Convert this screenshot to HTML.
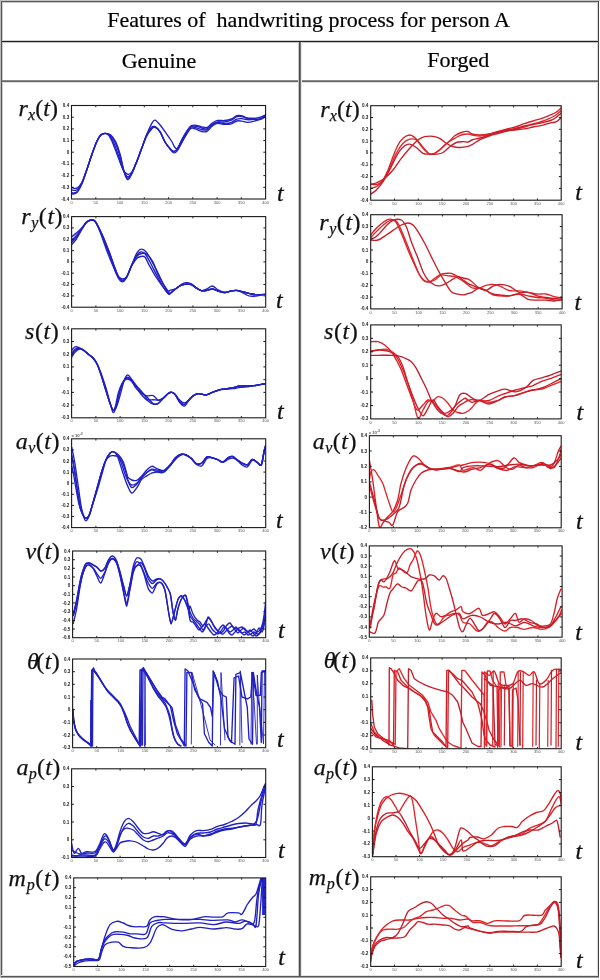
<!DOCTYPE html><html><head><meta charset="utf-8"><style>html,body{margin:0;padding:0;background:#fff}svg{display:block;will-change:transform;filter:blur(0.3px)}</style></head><body>
<svg width="600" height="980" viewBox="0 0 600 980">
<rect width="600" height="980" fill="#fff"/>
<rect x="0" y="0" width="600" height="1" fill="#c4c4c4"/>
<rect x="0" y="0" width="1" height="978" fill="#bcbcbc"/>
<rect x="1" y="1" width="598" height="1" fill="#5a5a5a"/>
<rect x="1" y="2" width="597" height="1" fill="#c8c8c8"/>
<rect x="1" y="1" width="1" height="976" fill="#555"/>
<rect x="2" y="2" width="1" height="974" fill="#cfcfcf"/>
<rect x="598" y="1" width="1" height="976" fill="#444"/>
<rect x="597" y="2" width="1" height="974" fill="#d8d8d8"/>
<rect x="1" y="976" width="598" height="1" fill="#555"/>
<rect x="1" y="977" width="598" height="1" fill="#a0a0a0"/>
<rect x="1" y="975" width="597" height="1" fill="#e4e4e4"/>
<rect x="2" y="40" width="596" height="1" fill="#cfcfcf"/>
<rect x="2" y="41" width="596" height="1" fill="#222"/>
<rect x="2" y="42" width="596" height="1" fill="#c4c4c4"/>
<rect x="2" y="80" width="596" height="1" fill="#888"/>
<rect x="2" y="81" width="596" height="1" fill="#666"/>
<rect x="2" y="82" width="596" height="1" fill="#e0e0e0"/>
<rect x="298" y="42" width="1" height="934" fill="#c8c8c8"/>
<rect x="299" y="42" width="1" height="934" fill="#4a4a4a"/>
<rect x="300" y="42" width="1" height="934" fill="#777"/>
<rect x="301" y="42" width="1" height="934" fill="#e4e4e4"/>
<text x="308.6" y="27.4" text-anchor="middle" font-family="Liberation Serif" font-size="22" fill="#000" stroke="#000" stroke-width="0.2" xml:space="preserve">Features of  handwriting process for person A</text>
<text x="159" y="67.5" text-anchor="middle" font-family="Liberation Serif" font-size="22" fill="#000" stroke="#000" stroke-width="0.2">Genuine</text>
<text x="458.3" y="67.2" text-anchor="middle" font-family="Liberation Serif" font-size="22" fill="#000" stroke="#000" stroke-width="0.2">Forged</text>
<clipPath id="cL0"><rect x="71.5" y="105.5" width="194.10000000000002" height="93.5"/></clipPath>
<g clip-path="url(#cL0)" fill="none" stroke-linejoin="round" stroke-linecap="round">
<path d="M71.5,190.0 C72.4,190.0 75.0,191.1 76.7,190.0 C78.4,188.9 80.0,186.6 81.7,183.3 C83.4,180.0 85.0,174.7 86.7,170.0 C88.4,165.3 90.0,159.7 91.7,155.0 C93.4,150.3 95.2,145.0 96.7,141.7 C98.2,138.4 99.4,136.4 100.8,135.0 C102.2,133.6 103.6,133.3 105.0,133.3 C106.4,133.3 107.8,133.6 109.2,135.0 C110.6,136.4 111.8,138.4 113.3,141.7 C114.8,145.0 116.6,150.3 118.3,155.0 C120.0,159.7 121.8,166.4 123.3,170.0 C124.8,173.6 126.1,176.1 127.5,176.7 C128.9,177.2 130.2,175.8 131.7,173.3 C133.2,170.8 135.0,165.9 136.7,161.7 C138.4,157.5 140.0,152.8 141.7,148.3 C143.4,143.9 145.0,138.5 146.7,135.0 C148.4,131.5 150.3,128.9 151.7,127.5 C153.1,126.1 153.6,126.0 155.0,126.7 C156.4,127.4 158.3,129.1 160.0,131.7 C161.7,134.2 163.3,139.1 165.0,142.0 C166.7,144.9 168.8,147.4 170.3,149.0 C171.8,150.6 172.6,151.6 173.8,151.6 C175.0,151.6 175.9,151.2 177.3,149.0 C178.8,146.8 180.8,141.7 182.5,138.5 C184.2,135.3 186.3,131.8 187.8,129.8 C189.3,127.8 189.9,126.9 191.3,126.3 C192.8,125.7 194.8,126.0 196.5,126.3 C198.2,126.6 200.1,127.6 201.8,128.0 C203.6,128.4 205.2,129.5 207.0,128.9 C208.8,128.3 210.6,125.7 212.3,124.5 C214.1,123.3 215.5,122.3 217.5,121.9 C219.5,121.5 222.2,122.2 224.5,121.9 C226.8,121.6 229.4,121.0 231.5,120.1 C233.6,119.2 235.1,117.2 236.8,116.6 C238.6,116.0 240.2,116.3 242.0,116.6 C243.8,116.9 245.2,118.1 247.3,118.4 C249.4,118.7 252.3,118.6 254.3,118.4 C256.3,118.2 257.6,118.1 259.5,117.5 C261.4,116.9 264.6,115.3 265.6,114.9" stroke="#2020c4" stroke-width="1.35"/>
<path d="M71.5,193.0 C72.4,192.8 75.0,193.6 76.7,192.1 C78.4,190.6 80.0,187.7 81.7,184.0 C83.4,180.3 85.0,174.9 86.7,170.1 C88.4,165.3 90.0,159.7 91.7,155.0 C93.4,150.3 95.2,145.0 96.7,141.7 C98.2,138.4 99.4,136.4 100.9,135.0 C102.3,133.6 103.8,133.3 105.3,133.3 C106.9,133.3 108.5,133.6 110.1,135.0 C111.7,136.4 113.2,138.4 114.7,141.7 C116.3,145.0 118.1,150.2 119.6,155.0 C121.1,159.8 122.5,166.5 123.8,170.4 C125.2,174.2 126.3,177.6 127.6,178.2 C128.9,178.8 130.2,176.7 131.7,173.9 C133.2,171.2 135.0,166.0 136.7,161.7 C138.4,157.4 140.0,152.8 141.7,148.3 C143.4,143.8 145.0,138.7 146.7,134.6 C148.4,130.5 150.3,126.0 151.7,123.6 C153.1,121.1 153.6,119.9 155.0,120.1 C156.4,120.4 158.3,122.9 160.1,125.0 C161.9,127.1 163.8,129.9 165.7,132.7 C167.7,135.5 170.3,139.1 171.8,141.5 C173.3,144.0 173.8,146.2 174.8,147.3 C175.8,148.4 176.4,149.6 177.6,148.2 C178.9,146.7 180.8,141.5 182.5,138.5 C184.2,135.5 186.3,131.9 187.8,130.0 C189.3,128.0 189.9,127.2 191.3,126.9 C192.7,126.5 194.8,127.3 196.5,127.8 C198.2,128.3 200.1,129.4 201.8,129.7 C203.5,130.1 205.3,130.6 207.0,129.8 C208.7,129.0 210.6,126.1 212.3,124.9 C214.1,123.7 215.5,122.8 217.5,122.6 C219.5,122.3 222.2,123.4 224.5,123.4 C226.8,123.4 229.4,123.2 231.5,122.5 C233.6,121.7 235.1,119.7 236.8,119.1 C238.6,118.4 240.2,118.5 242.0,118.6 C243.8,118.7 245.2,119.6 247.3,119.7 C249.4,119.8 252.3,119.3 254.3,119.3 C256.3,119.2 257.6,119.8 259.5,119.4 C261.4,118.9 264.6,116.8 265.6,116.3" stroke="#2020c4" stroke-width="1.35"/>
<path d="M71.5,187.5 C72.4,187.6 75.0,189.0 76.7,188.2 C78.4,187.4 80.0,185.8 81.7,182.7 C83.4,179.7 85.0,174.5 86.7,169.9 C88.4,165.3 90.0,159.7 91.7,155.0 C93.4,150.3 95.2,145.0 96.7,141.7 C98.2,138.4 99.4,136.4 100.7,135.0 C102.1,133.6 103.5,133.3 104.7,133.3 C106.0,133.3 107.3,133.6 108.5,135.0 C109.7,136.4 110.7,138.4 112.2,141.7 C113.6,145.0 115.5,150.4 117.3,155.0 C119.1,159.6 121.2,166.2 122.9,169.4 C124.6,172.6 125.9,173.8 127.4,174.2 C128.9,174.7 130.1,174.3 131.7,172.2 C133.2,170.1 135.0,165.7 136.7,161.7 C138.4,157.7 140.0,152.7 141.7,148.3 C143.4,143.9 145.0,138.5 146.7,135.0 C148.4,131.5 150.3,128.9 151.7,127.5 C153.1,126.1 153.6,126.0 155.0,126.7 C156.4,127.4 158.3,129.1 160.0,131.7 C161.7,134.3 163.3,139.1 165.0,142.0 C166.7,145.0 168.8,147.6 170.3,149.4 C171.8,151.2 172.6,152.7 173.8,152.8 C175.1,153.0 175.9,152.7 177.6,150.4 C179.2,148.1 181.9,142.2 183.8,138.9 C185.7,135.6 187.7,132.4 189.0,130.6 C190.3,128.8 190.5,128.1 191.8,128.0 C193.1,127.8 194.9,128.8 196.5,129.4 C198.2,130.0 200.1,131.2 201.8,131.5 C203.5,131.8 205.3,132.3 207.0,131.3 C208.7,130.4 210.6,127.3 212.3,125.9 C214.0,124.6 215.5,123.6 217.5,123.3 C219.5,123.1 222.2,124.3 224.5,124.4 C226.8,124.5 229.4,124.4 231.5,123.9 C233.6,123.3 235.1,121.5 236.8,121.0 C238.6,120.5 240.2,120.8 242.0,121.1 C243.8,121.3 245.2,122.3 247.3,122.3 C249.4,122.3 252.3,121.6 254.3,121.1 C256.3,120.6 257.6,120.1 259.5,119.2 C261.4,118.4 264.6,116.4 265.6,115.8" stroke="#2020c4" stroke-width="1.35"/>
<path d="M71.5,194.0 C72.4,193.8 75.0,194.5 76.7,192.8 C78.4,191.2 80.0,188.0 81.7,184.2 C83.4,180.4 85.0,175.0 86.7,170.1 C88.4,165.3 90.0,159.7 91.7,155.0 C93.4,150.3 95.2,145.0 96.7,141.7 C98.2,138.4 99.4,136.4 100.9,135.0 C102.4,133.6 103.9,133.3 105.5,133.3 C107.2,133.3 109.0,133.6 110.7,135.0 C112.4,136.4 114.1,138.4 115.7,141.7 C117.3,145.0 119.0,150.0 120.4,155.1 C121.8,160.2 122.9,168.1 124.2,172.2 C125.4,176.3 126.5,179.5 127.7,179.7 C129.0,180.0 130.2,176.8 131.7,173.8 C133.2,170.8 135.0,165.9 136.7,161.7 C138.4,157.5 140.0,152.8 141.7,148.5 C143.4,144.2 145.0,139.4 146.7,136.1 C148.4,132.8 150.3,130.3 151.7,128.9 C153.1,127.4 153.6,126.9 155.0,127.4 C156.4,127.9 158.3,129.3 160.0,131.7 C161.7,134.2 163.3,139.1 165.0,141.9 C166.7,144.8 168.8,147.3 170.3,148.8 C171.8,150.4 172.6,151.4 173.9,151.4 C175.1,151.3 176.0,150.9 177.7,148.7 C179.4,146.5 182.2,141.3 184.0,138.0 C185.8,134.8 187.2,131.2 188.4,129.1 C189.6,127.1 190.0,126.1 191.4,125.5 C192.7,124.9 194.8,125.1 196.5,125.3 C198.2,125.5 200.1,126.4 201.8,126.8 C203.5,127.1 205.3,128.1 207.0,127.5 C208.7,126.9 210.6,124.2 212.3,123.0 C214.0,121.8 215.5,120.8 217.5,120.4 C219.5,120.0 222.2,120.8 224.5,120.5 C226.8,120.3 229.4,119.8 231.5,119.0 C233.6,118.2 235.1,116.2 236.8,115.7 C238.6,115.2 240.2,115.6 242.0,115.9 C243.8,116.3 245.2,117.5 247.3,117.9 C249.4,118.3 252.3,118.1 254.3,118.4 C256.3,118.7 257.6,120.0 259.5,119.7 C261.4,119.4 264.6,117.1 265.6,116.6" stroke="#2020c4" stroke-width="1.35"/>
</g>
<rect x="71.5" y="105.5" width="194.10000000000002" height="93.5" fill="none" stroke="#1a1a1a" stroke-width="1.1"/>
<path d="M71.5,117.2h2.3M265.6,117.2h-2.3" stroke="#1a1a1a" stroke-width="1"/>
<path d="M71.5,128.9h2.3M265.6,128.9h-2.3" stroke="#1a1a1a" stroke-width="1"/>
<path d="M71.5,140.6h2.3M265.6,140.6h-2.3" stroke="#1a1a1a" stroke-width="1"/>
<path d="M71.5,152.2h2.3M265.6,152.2h-2.3" stroke="#1a1a1a" stroke-width="1"/>
<path d="M71.5,163.9h2.3M265.6,163.9h-2.3" stroke="#1a1a1a" stroke-width="1"/>
<path d="M71.5,175.6h2.3M265.6,175.6h-2.3" stroke="#1a1a1a" stroke-width="1"/>
<path d="M71.5,187.3h2.3M265.6,187.3h-2.3" stroke="#1a1a1a" stroke-width="1"/>
<path d="M95.8,199.0v-1.8M95.8,105.5v1.8" stroke="#1a1a1a" stroke-width="0.9"/>
<path d="M120.0,199.0v-1.8M120.0,105.5v1.8" stroke="#1a1a1a" stroke-width="0.9"/>
<path d="M144.3,199.0v-1.8M144.3,105.5v1.8" stroke="#1a1a1a" stroke-width="0.9"/>
<path d="M168.6,199.0v-1.8M168.6,105.5v1.8" stroke="#1a1a1a" stroke-width="0.9"/>
<path d="M192.8,199.0v-1.8M192.8,105.5v1.8" stroke="#1a1a1a" stroke-width="0.9"/>
<path d="M217.1,199.0v-1.8M217.1,105.5v1.8" stroke="#1a1a1a" stroke-width="0.9"/>
<path d="M241.3,199.0v-1.8M241.3,105.5v1.8" stroke="#1a1a1a" stroke-width="0.9"/>
<g font-family="Liberation Sans" font-size="4.6" font-weight="bold" fill="#222" text-anchor="end">
<text x="69.2" y="107.0">0.4</text>
<text x="69.2" y="118.7">0.3</text>
<text x="69.2" y="130.4">0.2</text>
<text x="69.2" y="142.1">0.1</text>
<text x="69.2" y="153.8">0</text>
<text x="69.2" y="165.4">-0.1</text>
<text x="69.2" y="177.1">-0.2</text>
<text x="69.2" y="188.8">-0.3</text>
<text x="69.2" y="200.5">-0.4</text>
</g>
<g font-family="Liberation Sans" font-size="4" fill="#555" text-anchor="middle">
<text x="71.5" y="203.6">0</text>
<text x="95.8" y="203.6">50</text>
<text x="120.0" y="203.6">100</text>
<text x="144.3" y="203.6">150</text>
<text x="168.6" y="203.6">200</text>
<text x="192.8" y="203.6">250</text>
<text x="217.1" y="203.6">300</text>
<text x="241.3" y="203.6">350</text>
<text x="265.6" y="203.6">400</text>
</g>
<clipPath id="cR0"><rect x="370.7" y="105.7" width="190.50000000000006" height="94.49999999999999"/></clipPath>
<g clip-path="url(#cR0)" fill="none" stroke-linejoin="round" stroke-linecap="round">
<path d="M370.7,184.2 C371.9,184.2 375.9,184.9 378.0,184.2 C380.1,183.5 381.3,182.4 383.0,180.0 C384.7,177.6 386.3,173.9 388.0,170.0 C389.7,166.1 391.3,160.9 393.0,156.7 C394.7,152.5 396.3,148.1 398.0,145.0 C399.7,141.9 401.1,140.0 403.0,138.3 C404.9,136.6 407.8,135.1 409.7,135.0 C411.6,134.9 413.0,136.1 414.7,137.5 C416.4,138.9 418.0,141.4 419.7,143.3 C421.4,145.2 423.0,147.4 424.7,149.2 C426.4,151.0 428.0,153.5 429.7,154.2 C431.4,154.9 433.0,154.0 434.7,153.3 C436.4,152.6 438.0,151.4 439.7,150.0 C441.4,148.6 443.0,146.5 444.7,145.0 C446.4,143.5 448.0,142.3 449.7,140.8 C451.4,139.3 452.8,137.2 454.7,135.8 C456.6,134.4 459.1,133.2 461.3,132.5 C463.5,131.8 466.2,131.2 468.0,131.5 C469.8,131.8 470.0,133.4 472.0,134.0 C474.0,134.6 477.2,135.0 480.0,135.0 C482.8,135.0 486.0,134.6 489.0,134.0 C492.0,133.4 495.0,132.3 498.0,131.5 C501.0,130.7 504.1,129.8 507.0,129.0 C509.9,128.2 512.6,127.9 515.5,127.0 C518.4,126.1 521.4,124.6 524.3,123.6 C527.2,122.6 530.1,121.9 533.0,121.0 C535.9,120.1 538.9,119.4 541.8,118.4 C544.7,117.4 548.1,115.9 550.5,114.9 C552.9,113.9 554.2,113.5 556.0,112.3 C557.8,111.1 560.3,108.6 561.2,107.9" stroke="#d81e24" stroke-width="1.35"/>
<path d="M370.7,188.3 C371.6,188.0 374.2,187.9 376.3,186.7 C378.4,185.4 380.8,183.9 383.0,180.8 C385.2,177.7 387.5,172.9 389.7,168.3 C391.9,163.7 394.1,157.5 396.3,153.3 C398.5,149.1 400.8,145.7 403.0,143.3 C405.2,141.0 407.5,139.8 409.7,139.2 C411.9,138.6 414.1,138.5 416.3,140.0 C418.5,141.5 420.8,145.9 423.0,148.3 C425.2,150.7 427.8,153.4 429.7,154.2 C431.6,155.0 432.8,154.3 434.7,153.3 C436.6,152.3 439.1,150.1 441.3,148.3 C443.5,146.5 445.8,144.2 448.0,142.5 C450.2,140.8 452.5,139.6 454.7,138.3 C456.9,137.1 459.1,135.7 461.3,135.0 C463.5,134.3 466.2,134.0 468.0,134.0 C469.8,134.0 470.0,134.7 472.0,135.0 C474.0,135.3 477.2,136.1 480.0,136.0 C482.8,135.9 486.0,135.2 489.0,134.5 C492.0,133.8 495.0,132.7 498.0,132.0 C501.0,131.3 504.1,131.0 507.0,130.6 C509.9,130.2 512.6,130.1 515.5,129.5 C518.4,128.9 521.4,127.9 524.3,127.0 C527.2,126.1 530.1,124.9 533.0,124.0 C535.9,123.1 538.9,122.5 541.8,121.5 C544.7,120.5 548.1,119.1 550.5,118.0 C552.9,116.9 554.2,116.2 556.0,115.0 C557.8,113.8 560.3,111.2 561.2,110.5" stroke="#e2262a" stroke-width="1.35"/>
<path d="M370.7,194.2 C371.6,193.5 374.2,192.1 376.3,190.0 C378.4,187.9 380.8,185.0 383.0,181.7 C385.2,178.4 387.2,174.7 389.7,170.0 C392.2,165.3 395.5,157.3 398.0,153.3 C400.5,149.3 402.8,147.3 404.7,145.8 C406.6,144.3 407.8,143.9 409.7,144.2 C411.6,144.5 414.1,146.0 416.3,147.5 C418.5,149.0 420.8,152.2 423.0,153.3 C425.2,154.4 427.5,154.0 429.7,154.2 C431.9,154.3 434.1,154.5 436.3,154.2 C438.5,153.9 440.8,153.8 443.0,152.5 C445.2,151.2 447.5,148.4 449.7,146.7 C451.9,145.0 454.1,143.3 456.3,142.5 C458.5,141.7 461.1,141.8 463.0,141.7 C464.9,141.6 466.5,142.3 468.0,142.0 C469.5,141.7 470.0,140.7 472.0,140.0 C474.0,139.3 477.2,138.8 480.0,138.0 C482.8,137.2 486.0,136.0 489.0,135.0 C492.0,134.0 495.0,132.8 498.0,132.0 C501.0,131.2 504.1,130.6 507.0,130.0 C509.9,129.4 512.6,129.2 515.5,128.5 C518.4,127.8 521.4,126.7 524.3,126.0 C527.2,125.3 530.1,125.0 533.0,124.5 C535.9,124.0 538.9,123.5 541.8,122.8 C544.7,122.1 548.1,121.4 550.5,120.5 C552.9,119.6 554.2,118.8 556.0,117.5 C557.8,116.2 560.3,113.8 561.2,113.0" stroke="#c41e2c" stroke-width="1.35"/>
<path d="M370.7,184.2 C371.6,184.0 373.7,184.0 376.0,183.0 C378.3,182.0 381.9,180.5 384.7,178.3 C387.5,176.1 390.2,173.3 393.0,170.0 C395.8,166.7 398.5,161.9 401.3,158.3 C404.1,154.7 406.9,151.4 409.7,148.3 C412.5,145.2 415.5,141.9 418.0,140.0 C420.5,138.1 422.2,137.3 424.7,136.7 C427.2,136.1 430.5,136.0 433.0,136.3 C435.5,136.6 437.5,137.1 439.7,138.3 C441.9,139.5 444.1,141.9 446.3,143.3 C448.5,144.7 450.8,146.0 453.0,146.7 C455.2,147.4 457.2,147.6 459.7,147.5 C462.2,147.4 465.9,146.9 468.0,146.4 C470.1,145.9 469.9,145.8 472.0,144.6 C474.1,143.4 477.7,140.8 480.5,139.4 C483.3,138.0 486.1,137.0 489.0,136.0 C491.9,135.0 495.0,134.3 498.0,133.5 C501.0,132.7 504.1,131.6 507.0,131.0 C509.9,130.4 512.6,130.2 515.5,129.8 C518.4,129.5 521.4,129.4 524.3,128.9 C527.2,128.4 530.1,127.6 533.0,127.0 C535.9,126.4 538.9,126.1 541.8,125.4 C544.7,124.7 548.1,123.4 550.5,122.8 C552.9,122.2 554.2,122.8 556.0,121.9 C557.8,121.0 560.3,118.2 561.2,117.5" stroke="#cc1c26" stroke-width="1.35"/>
</g>
<rect x="370.7" y="105.7" width="190.50000000000006" height="94.49999999999999" fill="none" stroke="#1a1a1a" stroke-width="1.1"/>
<path d="M370.7,117.5h2.3M561.2,117.5h-2.3" stroke="#1a1a1a" stroke-width="1"/>
<path d="M370.7,129.3h2.3M561.2,129.3h-2.3" stroke="#1a1a1a" stroke-width="1"/>
<path d="M370.7,141.1h2.3M561.2,141.1h-2.3" stroke="#1a1a1a" stroke-width="1"/>
<path d="M370.7,152.9h2.3M561.2,152.9h-2.3" stroke="#1a1a1a" stroke-width="1"/>
<path d="M370.7,164.8h2.3M561.2,164.8h-2.3" stroke="#1a1a1a" stroke-width="1"/>
<path d="M370.7,176.6h2.3M561.2,176.6h-2.3" stroke="#1a1a1a" stroke-width="1"/>
<path d="M370.7,188.4h2.3M561.2,188.4h-2.3" stroke="#1a1a1a" stroke-width="1"/>
<path d="M394.5,200.2v-1.8M394.5,105.7v1.8" stroke="#1a1a1a" stroke-width="0.9"/>
<path d="M418.3,200.2v-1.8M418.3,105.7v1.8" stroke="#1a1a1a" stroke-width="0.9"/>
<path d="M442.1,200.2v-1.8M442.1,105.7v1.8" stroke="#1a1a1a" stroke-width="0.9"/>
<path d="M466.0,200.2v-1.8M466.0,105.7v1.8" stroke="#1a1a1a" stroke-width="0.9"/>
<path d="M489.8,200.2v-1.8M489.8,105.7v1.8" stroke="#1a1a1a" stroke-width="0.9"/>
<path d="M513.6,200.2v-1.8M513.6,105.7v1.8" stroke="#1a1a1a" stroke-width="0.9"/>
<path d="M537.4,200.2v-1.8M537.4,105.7v1.8" stroke="#1a1a1a" stroke-width="0.9"/>
<g font-family="Liberation Sans" font-size="4.6" font-weight="bold" fill="#222" text-anchor="end">
<text x="368.4" y="107.2">0.4</text>
<text x="368.4" y="119.0">0.3</text>
<text x="368.4" y="130.8">0.2</text>
<text x="368.4" y="142.6">0.1</text>
<text x="368.4" y="154.4">0</text>
<text x="368.4" y="166.3">-0.1</text>
<text x="368.4" y="178.1">-0.2</text>
<text x="368.4" y="189.9">-0.3</text>
<text x="368.4" y="201.7">-0.4</text>
</g>
<g font-family="Liberation Sans" font-size="4" fill="#555" text-anchor="middle">
<text x="370.7" y="204.8">0</text>
<text x="394.5" y="204.8">50</text>
<text x="418.3" y="204.8">100</text>
<text x="442.1" y="204.8">150</text>
<text x="466.0" y="204.8">200</text>
<text x="489.8" y="204.8">250</text>
<text x="513.6" y="204.8">300</text>
<text x="537.4" y="204.8">350</text>
<text x="561.2" y="204.8">400</text>
</g>
<text x="18.5" y="116.2" font-family="Liberation Serif" font-size="24" fill="#111" stroke="#111" stroke-width="0.25" letter-spacing="0.1"><tspan font-style="italic">r</tspan><tspan font-style="italic" font-size="16" dy="4">x</tspan><tspan dy="-4">(</tspan><tspan font-style="italic">t</tspan>)</text>
<text x="320.3" y="116.6" font-family="Liberation Serif" font-size="24" fill="#111" stroke="#111" stroke-width="0.25" letter-spacing="0.1"><tspan font-style="italic">r</tspan><tspan font-style="italic" font-size="16" dy="4">x</tspan><tspan dy="-4">(</tspan><tspan font-style="italic">t</tspan>)</text>
<text x="277.0" y="200.7" font-family="Liberation Serif" font-style="italic" font-size="24" fill="#111" stroke="#111" stroke-width="0.3">t</text>
<text x="575.2" y="200.4" font-family="Liberation Serif" font-style="italic" font-size="24" fill="#111" stroke="#111" stroke-width="0.3">t</text>
<clipPath id="cL1"><rect x="71.6" y="216.6" width="194.1" height="90.6"/></clipPath>
<g clip-path="url(#cL1)" fill="none" stroke-linejoin="round" stroke-linecap="round">
<path d="M71.6,240.3 C72.4,239.5 75.0,237.2 76.7,235.3 C78.4,233.4 80.0,230.9 81.7,228.7 C83.4,226.5 85.0,223.4 86.7,222.0 C88.4,220.6 90.3,220.1 91.7,220.0 C93.1,219.9 93.9,220.0 95.0,221.2 C96.1,222.4 96.9,224.1 98.3,227.0 C99.7,229.9 101.6,234.5 103.3,238.7 C105.0,242.9 106.6,247.6 108.3,252.0 C110.0,256.4 111.6,261.1 113.3,265.3 C115.0,269.5 116.8,274.5 118.3,277.0 C119.8,279.5 121.1,280.3 122.5,280.3 C123.9,280.3 125.2,279.5 126.7,277.0 C128.2,274.5 130.0,268.9 131.7,265.3 C133.4,261.7 135.2,257.5 136.7,255.3 C138.2,253.1 139.4,252.3 140.8,252.0 C142.2,251.7 143.5,252.0 145.0,253.7 C146.5,255.4 148.1,258.4 150.0,262.0 C151.9,265.6 154.5,271.1 156.7,275.3 C158.9,279.5 161.4,283.9 163.3,287.0 C165.2,290.1 167.1,292.6 168.3,293.7 C169.5,294.8 169.1,294.2 170.3,293.4 C171.5,292.6 173.8,290.3 175.5,289.0 C177.2,287.7 179.1,286.3 180.8,285.5 C182.6,284.7 184.2,284.2 186.0,284.1 C187.8,284.0 189.6,283.9 191.3,284.6 C193.1,285.3 194.8,287.1 196.5,288.1 C198.2,289.1 200.1,290.4 201.8,290.8 C203.6,291.2 205.2,290.7 207.0,290.4 C208.8,290.1 210.6,288.9 212.3,289.0 C214.1,289.1 215.5,290.2 217.5,290.8 C219.5,291.4 222.2,292.5 224.5,292.5 C226.8,292.5 229.4,291.2 231.5,290.8 C233.6,290.4 235.1,290.3 236.8,290.4 C238.6,290.5 240.0,291.1 242.0,291.6 C244.0,292.1 246.7,292.9 249.0,293.4 C251.3,293.9 253.2,294.5 256.0,294.6 C258.8,294.8 264.1,294.4 265.7,294.3" stroke="#2020c4" stroke-width="1.35"/>
<path d="M71.6,236.8 C72.5,236.1 75.0,234.3 76.7,232.8 C78.4,231.3 80.0,229.7 81.7,227.9 C83.4,226.1 85.0,223.2 86.7,221.9 C88.4,220.6 90.3,220.1 91.7,220.0 C93.1,219.9 93.9,220.0 95.1,221.2 C96.2,222.4 97.0,224.1 98.5,227.0 C100.0,229.9 102.2,234.5 104.0,238.7 C105.8,242.9 107.6,247.6 109.3,252.0 C111.0,256.4 112.4,261.1 113.9,265.3 C115.5,269.5 117.1,274.5 118.5,277.0 C119.9,279.5 121.2,280.3 122.5,280.3 C123.9,280.3 125.2,279.6 126.7,277.0 C128.2,274.4 130.0,268.8 131.7,264.9 C133.4,260.9 135.2,255.7 136.8,253.1 C138.4,250.4 139.7,249.2 141.3,249.1 C142.9,248.9 144.6,250.1 146.4,252.2 C148.1,254.3 150.1,258.2 152.0,261.6 C153.9,264.9 155.8,268.6 157.7,272.3 C159.6,276.1 161.7,280.9 163.4,284.0 C165.2,287.1 167.2,289.9 168.3,290.9 C169.5,292.0 169.1,290.6 170.3,290.2 C171.5,289.9 173.8,289.7 175.5,288.8 C177.2,287.9 179.1,285.8 180.8,284.8 C182.5,283.8 184.3,282.7 186.0,282.6 C187.7,282.5 189.6,283.0 191.3,283.9 C193.0,284.8 194.8,286.9 196.5,288.0 C198.2,289.2 200.1,290.4 201.8,290.8 C203.6,291.2 205.2,290.7 207.0,290.4 C208.8,290.1 210.6,288.9 212.3,289.0 C214.1,289.1 215.5,290.2 217.5,290.8 C219.5,291.4 222.2,292.5 224.5,292.5 C226.8,292.5 229.4,291.2 231.5,290.8 C233.6,290.4 235.1,290.3 236.8,290.4 C238.6,290.5 240.0,291.1 242.0,291.6 C244.0,292.1 246.7,292.9 249.0,293.4 C251.3,293.9 253.2,294.5 256.0,294.6 C258.8,294.8 264.1,294.4 265.7,294.3" stroke="#2020c4" stroke-width="1.35"/>
<path d="M71.6,244.8 C72.4,243.7 75.0,241.0 76.7,238.5 C78.4,236.0 80.0,232.5 81.7,229.7 C83.4,227.0 85.0,223.8 86.7,222.2 C88.4,220.5 90.3,220.2 91.7,220.0 C93.1,219.9 93.9,220.0 94.9,221.2 C96.0,222.4 96.8,224.1 98.1,227.0 C99.3,229.9 101.1,234.5 102.6,238.7 C104.1,242.9 105.6,247.6 107.3,252.0 C109.0,256.4 110.9,261.0 112.7,265.3 C114.5,269.6 116.5,274.9 118.1,277.6 C119.7,280.4 121.0,281.8 122.5,281.8 C123.9,281.7 125.2,280.0 126.7,277.4 C128.2,274.8 130.0,269.1 131.7,266.0 C133.4,262.8 135.2,260.2 136.7,258.6 C138.2,257.1 139.4,256.8 140.8,256.5 C142.2,256.3 143.5,255.6 144.9,257.1 C146.3,258.5 147.5,262.2 149.3,265.3 C151.0,268.4 153.0,272.2 155.3,275.8 C157.6,279.4 160.9,284.0 163.1,287.0 C165.2,290.0 167.1,292.6 168.3,293.7 C169.5,294.8 169.1,294.2 170.3,293.4 C171.5,292.6 173.7,290.3 175.5,289.0 C177.3,287.7 179.0,286.3 180.8,285.5 C182.6,284.7 184.2,284.3 186.0,284.1 C187.8,283.9 189.5,283.9 191.3,284.6 C193.1,285.3 194.8,287.1 196.5,288.1 C198.2,289.1 200.1,290.5 201.8,290.6 C203.6,290.8 205.2,289.7 207.0,288.9 C208.8,288.1 210.6,285.9 212.3,286.0 C214.1,286.1 215.5,288.4 217.5,289.5 C219.5,290.6 222.2,292.2 224.5,292.5 C226.8,292.7 229.4,291.1 231.5,290.8 C233.6,290.5 235.1,290.3 236.8,290.4 C238.6,290.5 240.0,291.1 242.0,291.6 C244.0,292.1 246.7,292.9 249.0,293.4 C251.3,293.9 253.2,294.5 256.0,294.6 C258.8,294.8 264.1,294.4 265.7,294.3" stroke="#2020c4" stroke-width="1.35"/>
<path d="M71.6,242.3 C72.5,241.4 75.0,238.9 76.7,236.7 C78.4,234.5 80.0,231.6 81.7,229.2 C83.4,226.7 85.0,223.6 86.7,222.1 C88.4,220.5 90.3,220.1 91.7,220.0 C93.1,219.9 93.9,220.0 95.1,221.2 C96.2,222.4 97.0,224.1 98.5,227.0 C100.0,229.9 102.1,234.5 103.9,238.7 C105.6,242.9 107.4,247.6 109.1,252.0 C110.8,256.4 112.3,261.2 113.8,265.3 C115.4,269.3 117.0,274.1 118.5,276.4 C119.9,278.6 121.2,278.8 122.5,278.8 C123.9,278.9 125.2,278.9 126.7,276.6 C128.2,274.4 130.0,268.8 131.7,265.4 C133.4,262.0 135.2,258.3 136.9,256.3 C138.5,254.3 139.9,253.8 141.6,253.5 C143.3,253.1 145.1,252.8 147.0,254.3 C148.9,255.7 151.1,258.5 153.0,262.0 C154.9,265.5 156.4,271.5 158.2,275.3 C159.9,279.0 161.8,281.7 163.5,284.5 C165.2,287.3 167.2,290.8 168.3,292.2 C169.5,293.6 169.1,293.4 170.3,292.9 C171.5,292.4 173.8,290.2 175.5,289.0 C177.2,287.8 179.1,286.3 180.8,285.5 C182.5,284.7 184.3,284.2 186.0,284.1 C187.7,284.0 189.6,283.9 191.3,284.6 C193.0,285.3 194.8,287.1 196.5,288.1 C198.2,289.1 200.1,290.4 201.8,290.8 C203.6,291.2 205.2,290.7 207.0,290.4 C208.8,290.1 210.6,288.9 212.3,289.0 C214.1,289.1 215.5,290.2 217.5,290.8 C219.5,291.4 222.2,292.5 224.5,292.5 C226.8,292.5 229.4,291.1 231.5,290.8 C233.6,290.5 235.1,290.3 236.8,290.6 C238.6,290.8 240.0,291.6 242.0,292.5 C244.0,293.4 246.7,295.3 249.0,295.9 C251.3,296.4 253.2,296.3 256.0,296.0 C258.8,295.8 264.1,294.6 265.7,294.4" stroke="#2020c4" stroke-width="1.35"/>
</g>
<rect x="71.6" y="216.6" width="194.1" height="90.6" fill="none" stroke="#1a1a1a" stroke-width="1.1"/>
<path d="M71.6,227.9h2.3M265.7,227.9h-2.3" stroke="#1a1a1a" stroke-width="1"/>
<path d="M71.6,239.2h2.3M265.7,239.2h-2.3" stroke="#1a1a1a" stroke-width="1"/>
<path d="M71.6,250.6h2.3M265.7,250.6h-2.3" stroke="#1a1a1a" stroke-width="1"/>
<path d="M71.6,261.9h2.3M265.7,261.9h-2.3" stroke="#1a1a1a" stroke-width="1"/>
<path d="M71.6,273.2h2.3M265.7,273.2h-2.3" stroke="#1a1a1a" stroke-width="1"/>
<path d="M71.6,284.5h2.3M265.7,284.5h-2.3" stroke="#1a1a1a" stroke-width="1"/>
<path d="M71.6,295.9h2.3M265.7,295.9h-2.3" stroke="#1a1a1a" stroke-width="1"/>
<path d="M95.9,307.2v-1.8M95.9,216.6v1.8" stroke="#1a1a1a" stroke-width="0.9"/>
<path d="M120.1,307.2v-1.8M120.1,216.6v1.8" stroke="#1a1a1a" stroke-width="0.9"/>
<path d="M144.4,307.2v-1.8M144.4,216.6v1.8" stroke="#1a1a1a" stroke-width="0.9"/>
<path d="M168.6,307.2v-1.8M168.6,216.6v1.8" stroke="#1a1a1a" stroke-width="0.9"/>
<path d="M192.9,307.2v-1.8M192.9,216.6v1.8" stroke="#1a1a1a" stroke-width="0.9"/>
<path d="M217.2,307.2v-1.8M217.2,216.6v1.8" stroke="#1a1a1a" stroke-width="0.9"/>
<path d="M241.4,307.2v-1.8M241.4,216.6v1.8" stroke="#1a1a1a" stroke-width="0.9"/>
<g font-family="Liberation Sans" font-size="4.6" font-weight="bold" fill="#222" text-anchor="end">
<text x="69.3" y="218.1">0.4</text>
<text x="69.3" y="229.4">0.3</text>
<text x="69.3" y="240.8">0.2</text>
<text x="69.3" y="252.1">0.1</text>
<text x="69.3" y="263.4">0</text>
<text x="69.3" y="274.7">-0.1</text>
<text x="69.3" y="286.0">-0.2</text>
<text x="69.3" y="297.4">-0.3</text>
<text x="69.3" y="308.7">-0.4</text>
</g>
<g font-family="Liberation Sans" font-size="4" fill="#555" text-anchor="middle">
<text x="71.6" y="311.8">0</text>
<text x="95.9" y="311.8">50</text>
<text x="120.1" y="311.8">100</text>
<text x="144.4" y="311.8">150</text>
<text x="168.6" y="311.8">200</text>
<text x="192.9" y="311.8">250</text>
<text x="217.2" y="311.8">300</text>
<text x="241.4" y="311.8">350</text>
<text x="265.7" y="311.8">400</text>
</g>
<clipPath id="cR1"><rect x="370.7" y="214.7" width="191.40000000000003" height="94.19999999999999"/></clipPath>
<g clip-path="url(#cR1)" fill="none" stroke-linejoin="round" stroke-linecap="round">
<path d="M370.7,235.0 C371.6,233.9 374.2,230.4 376.3,228.3 C378.4,226.2 380.8,224.0 383.0,222.5 C385.2,221.0 387.6,219.3 389.7,219.2 C391.8,219.1 393.6,219.3 395.5,221.7 C397.4,224.0 399.2,228.6 401.3,233.3 C403.4,238.0 405.8,244.7 408.0,250.0 C410.2,255.3 412.8,260.8 414.7,265.0 C416.6,269.2 418.0,272.4 419.7,275.0 C421.4,277.6 423.0,279.7 424.7,280.8 C426.4,281.9 428.0,282.1 429.7,281.7 C431.4,281.3 432.8,279.6 434.7,278.3 C436.6,277.1 439.4,275.0 441.3,274.2 C443.2,273.4 444.6,273.4 446.3,273.3 C448.0,273.2 449.6,272.9 451.3,273.3 C453.0,273.7 454.6,275.1 456.3,275.8 C458.0,276.5 459.4,276.9 461.3,277.5 C463.2,278.1 466.2,278.5 468.0,279.2 C469.8,279.9 470.2,280.4 472.0,281.8 C473.8,283.2 476.7,286.4 479.0,287.9 C481.3,289.3 483.7,289.3 486.0,290.5 C488.3,291.7 490.7,294.0 493.0,294.9 C495.3,295.8 497.2,295.6 500.0,295.8 C502.8,296.0 506.8,296.1 510.0,295.8 C513.2,295.5 516.0,294.0 519.0,294.0 C522.0,294.0 525.0,295.2 528.0,295.8 C531.0,296.4 534.0,297.1 537.0,297.5 C540.0,297.9 543.2,298.0 546.0,298.4 C548.8,298.8 551.3,299.7 554.0,300.0 C556.7,300.3 560.7,300.0 562.0,300.0" stroke="#d81e24" stroke-width="1.35"/>
<path d="M370.7,237.5 C371.9,236.2 375.4,232.5 378.0,230.0 C380.6,227.5 383.8,224.2 386.3,222.5 C388.8,220.8 391.1,219.9 393.0,220.0 C394.9,220.1 396.1,220.2 398.0,223.3 C399.9,226.4 402.5,233.0 404.7,238.3 C406.9,243.6 409.1,249.4 411.3,255.0 C413.5,260.6 416.1,267.5 418.0,271.7 C419.9,275.9 421.3,278.3 423.0,280.0 C424.7,281.7 426.1,282.0 428.0,282.0 C429.9,282.0 432.5,281.2 434.7,280.0 C436.9,278.8 439.1,275.7 441.3,275.0 C443.5,274.3 445.8,275.5 448.0,275.8 C450.2,276.1 452.5,276.0 454.7,276.7 C456.9,277.4 459.1,278.6 461.3,280.0 C463.5,281.4 466.2,283.7 468.0,285.0 C469.8,286.3 470.2,287.4 472.0,287.9 C473.8,288.4 476.7,288.3 479.0,287.9 C481.3,287.5 483.7,285.9 486.0,285.3 C488.3,284.7 490.7,284.3 493.0,284.4 C495.3,284.5 497.3,285.1 500.0,286.1 C502.7,287.1 505.8,289.7 509.0,290.5 C512.2,291.3 515.8,290.6 519.0,290.9 C522.2,291.2 525.0,291.8 528.0,292.3 C531.0,292.8 534.0,293.7 537.0,294.0 C540.0,294.3 543.2,293.6 546.0,294.0 C548.8,294.4 551.3,295.9 554.0,296.6 C556.7,297.3 560.7,297.8 562.0,298.0" stroke="#e2262a" stroke-width="1.35"/>
<path d="M370.7,240.0 C371.9,239.2 375.4,237.4 378.0,235.0 C380.6,232.6 383.8,228.2 386.3,225.8 C388.8,223.4 390.5,221.3 393.0,220.3 C395.5,219.3 399.1,218.9 401.3,220.0 C403.5,221.1 404.6,223.1 406.3,226.7 C408.0,230.3 409.4,236.4 411.3,241.7 C413.2,247.0 416.1,253.3 418.0,258.3 C419.9,263.3 421.3,268.1 423.0,271.7 C424.7,275.3 426.1,277.8 428.0,280.0 C429.9,282.2 432.8,284.0 434.7,285.0 C436.6,286.0 437.8,286.1 439.7,285.8 C441.6,285.5 444.1,284.4 446.3,283.3 C448.5,282.2 451.1,280.3 453.0,279.2 C454.9,278.1 456.3,276.6 458.0,276.7 C459.7,276.8 461.3,278.9 463.0,280.0 C464.7,281.1 466.5,282.4 468.0,283.3 C469.5,284.2 470.2,284.5 472.0,285.3 C473.8,286.1 476.7,287.0 479.0,287.9 C481.3,288.8 483.7,290.8 486.0,290.5 C488.3,290.2 490.7,287.1 493.0,286.1 C495.3,285.1 497.3,284.4 500.0,284.4 C502.7,284.4 505.8,284.8 509.0,286.1 C512.2,287.4 515.8,291.3 519.0,292.3 C522.2,293.3 525.0,291.7 528.0,292.3 C531.0,292.9 534.0,294.9 537.0,295.8 C540.0,296.7 543.2,297.1 546.0,297.5 C548.8,297.9 551.3,298.4 554.0,298.4 C556.7,298.4 560.7,297.6 562.0,297.5" stroke="#c41e2c" stroke-width="1.35"/>
<path d="M370.7,240.0 C371.9,240.0 375.4,240.8 378.0,240.0 C380.6,239.2 383.5,236.8 386.3,235.0 C389.1,233.2 392.2,230.9 394.7,229.2 C397.2,227.5 399.1,226.0 401.3,225.0 C403.5,224.0 406.1,223.0 408.0,223.0 C409.9,223.0 411.3,223.6 413.0,225.0 C414.7,226.4 416.1,228.6 418.0,231.7 C419.9,234.8 422.5,239.1 424.7,243.3 C426.9,247.5 429.1,252.2 431.3,256.7 C433.5,261.1 435.8,265.8 438.0,270.0 C440.2,274.2 442.5,278.1 444.7,281.7 C446.9,285.3 449.1,289.6 451.3,291.7 C453.5,293.8 456.1,293.7 458.0,294.2 C459.9,294.7 461.3,295.0 463.0,294.9 C464.7,294.8 466.5,293.9 468.0,293.5 C469.5,293.1 470.2,293.2 472.0,292.3 C473.8,291.4 476.7,288.3 479.0,288.0 C481.3,287.7 483.7,289.5 486.0,290.5 C488.3,291.5 490.7,293.3 493.0,294.0 C495.3,294.7 497.3,294.6 500.0,294.9 C502.7,295.2 505.8,295.9 509.0,295.8 C512.2,295.7 515.8,293.4 519.0,294.0 C522.2,294.6 525.0,298.3 528.0,299.3 C531.0,300.3 534.0,300.0 537.0,300.1 C540.0,300.2 543.2,300.0 546.0,300.1 C548.8,300.2 551.3,301.2 554.0,301.0 C556.7,300.8 560.7,299.3 562.0,299.0" stroke="#cc1c26" stroke-width="1.35"/>
</g>
<rect x="370.7" y="214.7" width="191.40000000000003" height="94.19999999999999" fill="none" stroke="#1a1a1a" stroke-width="1.1"/>
<path d="M370.7,226.5h2.3M562.1,226.5h-2.3" stroke="#1a1a1a" stroke-width="1"/>
<path d="M370.7,238.2h2.3M562.1,238.2h-2.3" stroke="#1a1a1a" stroke-width="1"/>
<path d="M370.7,250.0h2.3M562.1,250.0h-2.3" stroke="#1a1a1a" stroke-width="1"/>
<path d="M370.7,261.8h2.3M562.1,261.8h-2.3" stroke="#1a1a1a" stroke-width="1"/>
<path d="M370.7,273.6h2.3M562.1,273.6h-2.3" stroke="#1a1a1a" stroke-width="1"/>
<path d="M370.7,285.3h2.3M562.1,285.3h-2.3" stroke="#1a1a1a" stroke-width="1"/>
<path d="M370.7,297.1h2.3M562.1,297.1h-2.3" stroke="#1a1a1a" stroke-width="1"/>
<path d="M394.6,308.9v-1.8M394.6,214.7v1.8" stroke="#1a1a1a" stroke-width="0.9"/>
<path d="M418.6,308.9v-1.8M418.6,214.7v1.8" stroke="#1a1a1a" stroke-width="0.9"/>
<path d="M442.5,308.9v-1.8M442.5,214.7v1.8" stroke="#1a1a1a" stroke-width="0.9"/>
<path d="M466.4,308.9v-1.8M466.4,214.7v1.8" stroke="#1a1a1a" stroke-width="0.9"/>
<path d="M490.3,308.9v-1.8M490.3,214.7v1.8" stroke="#1a1a1a" stroke-width="0.9"/>
<path d="M514.2,308.9v-1.8M514.2,214.7v1.8" stroke="#1a1a1a" stroke-width="0.9"/>
<path d="M538.2,308.9v-1.8M538.2,214.7v1.8" stroke="#1a1a1a" stroke-width="0.9"/>
<g font-family="Liberation Sans" font-size="4.6" font-weight="bold" fill="#222" text-anchor="end">
<text x="368.4" y="216.2">0.4</text>
<text x="368.4" y="228.0">0.3</text>
<text x="368.4" y="239.8">0.2</text>
<text x="368.4" y="251.5">0.1</text>
<text x="368.4" y="263.3">0</text>
<text x="368.4" y="275.1">-0.1</text>
<text x="368.4" y="286.8">-0.2</text>
<text x="368.4" y="298.6">-0.3</text>
<text x="368.4" y="310.4">-0.4</text>
</g>
<g font-family="Liberation Sans" font-size="4" fill="#555" text-anchor="middle">
<text x="370.7" y="313.5">0</text>
<text x="394.6" y="313.5">50</text>
<text x="418.6" y="313.5">100</text>
<text x="442.5" y="313.5">150</text>
<text x="466.4" y="313.5">200</text>
<text x="490.3" y="313.5">250</text>
<text x="514.2" y="313.5">300</text>
<text x="538.2" y="313.5">350</text>
<text x="562.1" y="313.5">400</text>
</g>
<text x="21.3" y="224.3" font-family="Liberation Serif" font-size="24" fill="#111" stroke="#111" stroke-width="0.25" letter-spacing="0.55"><tspan font-style="italic">r</tspan><tspan font-style="italic" font-size="16" dy="4">y</tspan><tspan dy="-4">(</tspan><tspan font-style="italic">t</tspan>)</text>
<text x="319.3" y="230" font-family="Liberation Serif" font-size="24" fill="#111" stroke="#111" stroke-width="0.25" letter-spacing="0.55"><tspan font-style="italic">r</tspan><tspan font-style="italic" font-size="16" dy="4">y</tspan><tspan dy="-4">(</tspan><tspan font-style="italic">t</tspan>)</text>
<text x="276.0" y="308.4" font-family="Liberation Serif" font-style="italic" font-size="24" fill="#111" stroke="#111" stroke-width="0.3">t</text>
<text x="574.4" y="309.7" font-family="Liberation Serif" font-style="italic" font-size="24" fill="#111" stroke="#111" stroke-width="0.3">t</text>
<clipPath id="cL2"><rect x="71.6" y="328.8" width="194.1" height="89.0"/></clipPath>
<g clip-path="url(#cL2)" fill="none" stroke-linejoin="round" stroke-linecap="round">
<path d="M71.6,353.3 C72.2,352.6 73.7,350.0 75.0,349.2 C76.3,348.4 77.8,348.2 79.2,348.3 C80.6,348.4 81.8,349.0 83.3,350.0 C84.8,351.0 86.6,352.8 88.3,354.2 C90.0,355.6 91.8,356.5 93.3,358.3 C94.8,360.1 96.1,361.9 97.5,365.0 C98.9,368.1 100.3,372.5 101.7,376.7 C103.1,380.9 104.4,385.6 105.8,390.0 C107.2,394.4 108.8,400.0 110.0,403.3 C111.2,406.6 112.0,409.4 113.0,410.0 C114.0,410.6 114.8,409.5 115.8,406.7 C116.8,403.9 118.0,397.5 119.2,393.3 C120.5,389.1 121.9,384.3 123.3,381.7 C124.7,379.1 126.1,377.6 127.5,377.5 C128.9,377.4 130.2,379.0 131.7,380.8 C133.2,382.6 135.0,385.9 136.7,388.3 C138.4,390.7 140.0,393.1 141.7,395.0 C143.4,396.9 144.8,398.5 146.7,400.0 C148.6,401.5 151.4,403.6 153.3,404.2 C155.2,404.8 156.6,404.3 158.3,403.3 C160.0,402.3 161.6,400.0 163.3,398.3 C165.0,396.6 167.1,394.3 168.5,393.3 C169.9,392.3 170.8,392.1 172.0,392.4 C173.2,392.7 174.2,393.4 175.5,395.0 C176.8,396.6 178.4,400.4 179.9,402.0 C181.4,403.6 182.9,404.9 184.3,404.6 C185.8,404.3 187.2,401.8 188.6,400.3 C190.0,398.9 191.4,397.0 193.0,395.9 C194.6,394.8 196.6,393.8 198.3,393.6 C200.1,393.4 202.1,394.5 203.5,394.7 C204.9,394.9 205.5,395.1 207.0,394.7 C208.5,394.3 210.2,393.2 212.3,392.4 C214.4,391.6 217.0,390.4 219.3,389.8 C221.6,389.2 224.0,389.2 226.3,388.9 C228.6,388.5 231.0,388.2 233.3,387.7 C235.6,387.2 237.7,386.2 240.3,385.9 C242.9,385.6 246.4,386.0 249.0,385.9 C251.6,385.8 253.2,385.8 256.0,385.4 C258.8,385.0 264.1,383.9 265.7,383.6" stroke="#2020c4" stroke-width="1.35"/>
<path d="M71.6,350.3 C72.2,349.7 73.7,347.3 75.0,346.9 C76.3,346.4 77.8,347.1 79.2,347.6 C80.6,348.1 81.8,348.8 83.3,349.9 C84.8,351.0 86.6,352.8 88.3,354.2 C90.0,355.6 91.8,356.5 93.3,358.3 C94.8,360.1 96.1,361.9 97.5,365.0 C98.9,368.1 100.3,372.5 101.7,376.7 C103.1,380.9 104.4,385.6 105.8,390.0 C107.2,394.4 108.8,400.0 110.0,403.3 C111.3,406.6 112.1,409.4 113.2,410.0 C114.3,410.6 115.3,409.5 116.5,406.7 C117.8,403.9 119.4,397.5 120.7,393.1 C122.0,388.7 123.1,383.3 124.3,380.3 C125.4,377.2 126.4,375.1 127.7,375.0 C129.0,374.9 130.3,377.6 132.0,379.8 C133.8,382.0 136.3,385.8 138.2,388.2 C140.1,390.7 142.0,393.3 143.5,394.5 C145.1,395.8 145.6,395.7 147.3,395.9 C148.9,396.1 151.5,394.9 153.3,395.6 C155.2,396.4 156.6,399.9 158.3,400.3 C160.0,400.7 161.6,399.2 163.3,398.0 C165.0,396.9 167.1,394.2 168.5,393.3 C169.9,392.3 170.8,392.1 172.0,392.4 C173.2,392.6 174.2,393.3 175.5,394.6 C176.8,396.0 178.4,398.9 179.9,400.3 C181.4,401.7 182.9,403.0 184.3,403.0 C185.8,402.9 187.2,401.1 188.6,399.9 C190.0,398.8 191.4,396.9 193.0,395.9 C194.6,394.8 196.6,393.8 198.3,393.6 C200.1,393.4 202.1,394.5 203.5,394.7 C204.9,394.9 205.5,395.1 207.0,394.7 C208.5,394.3 210.2,393.2 212.3,392.4 C214.4,391.6 217.0,390.4 219.3,389.8 C221.6,389.2 224.0,389.2 226.3,388.9 C228.6,388.5 231.0,388.2 233.3,387.7 C235.6,387.2 237.7,386.2 240.3,385.9 C242.9,385.6 246.4,386.0 249.0,385.9 C251.6,385.8 253.2,385.8 256.0,385.4 C258.8,385.0 264.1,383.9 265.7,383.6" stroke="#2020c4" stroke-width="1.35"/>
<path d="M71.6,357.3 C72.2,356.5 73.7,353.7 75.0,352.3 C76.3,351.0 77.8,349.6 79.2,349.2 C80.6,348.9 81.8,349.3 83.3,350.1 C84.8,350.9 86.6,352.8 88.3,354.2 C90.0,355.6 91.8,356.5 93.3,358.3 C94.9,360.1 96.2,361.9 97.7,365.0 C99.2,368.1 100.8,372.5 102.3,376.7 C103.8,380.9 105.2,385.4 106.6,390.0 C107.9,394.6 109.3,400.5 110.4,404.2 C111.5,408.0 112.2,411.9 113.1,412.5 C114.0,413.1 114.8,410.9 115.8,407.7 C116.8,404.6 118.0,397.7 119.2,393.3 C120.4,389.0 121.9,384.3 123.3,381.7 C124.7,379.1 126.1,377.7 127.5,377.5 C128.8,377.3 130.1,379.1 131.5,380.8 C132.8,382.5 134.1,385.8 135.6,387.7 C137.1,389.6 138.5,390.6 140.3,392.0 C142.1,393.5 144.1,394.4 146.3,396.3 C148.4,398.2 151.3,402.4 153.3,403.6 C155.3,404.8 156.6,404.2 158.3,403.3 C160.0,402.4 161.6,400.0 163.3,398.3 C165.0,396.6 167.0,394.3 168.5,393.3 C170.0,392.3 170.8,392.1 172.0,392.4 C173.2,392.7 174.2,393.4 175.5,395.1 C176.8,396.8 178.4,400.9 179.9,402.8 C181.4,404.6 182.9,406.4 184.3,406.1 C185.8,405.8 187.2,402.6 188.6,400.9 C190.0,399.3 191.4,397.2 193.0,396.0 C194.6,394.7 196.6,393.8 198.3,393.6 C200.1,393.4 202.1,394.5 203.5,394.7 C204.9,394.9 205.5,395.1 207.0,394.7 C208.5,394.3 210.2,393.2 212.3,392.4 C214.4,391.6 217.0,390.4 219.3,389.8 C221.6,389.2 224.0,389.2 226.3,388.9 C228.6,388.5 231.0,388.2 233.3,387.7 C235.6,387.2 237.7,386.2 240.3,385.9 C242.9,385.6 246.4,386.0 249.0,385.9 C251.6,385.8 253.2,385.8 256.0,385.4 C258.8,385.0 264.1,383.9 265.7,383.6" stroke="#2020c4" stroke-width="1.35"/>
<path d="M71.6,354.8 C72.2,354.1 73.7,351.4 75.0,350.4 C76.3,349.3 77.8,348.7 79.2,348.7 C80.6,348.6 81.8,349.1 83.3,350.0 C84.8,351.0 86.6,352.8 88.3,354.2 C90.0,355.6 91.8,356.5 93.3,358.3 C94.8,360.1 96.1,361.9 97.5,365.0 C98.9,368.1 100.3,372.5 101.7,376.7 C103.1,380.9 104.4,385.6 105.8,390.0 C107.2,394.4 108.8,400.0 110.0,403.3 C111.2,406.6 112.0,409.4 112.9,410.0 C113.7,410.6 114.4,409.5 115.3,406.7 C116.2,403.9 117.0,397.4 118.2,393.4 C119.4,389.3 121.1,384.7 122.7,382.3 C124.2,379.9 125.9,379.1 127.4,379.0 C129.0,378.9 130.2,380.1 132.1,381.7 C134.1,383.2 136.9,386.2 138.9,388.4 C141.0,390.6 143.0,393.1 144.5,395.0 C145.9,396.9 146.1,398.9 147.6,399.7 C149.0,400.5 151.5,399.7 153.3,399.7 C155.1,399.8 156.6,400.4 158.3,400.1 C160.0,399.8 161.6,399.1 163.3,398.0 C165.0,396.9 167.1,394.2 168.5,393.3 C169.9,392.4 170.8,392.1 172.0,392.4 C173.2,392.7 174.2,393.4 175.5,395.0 C176.8,396.6 178.4,400.4 179.9,402.0 C181.4,403.6 182.9,404.9 184.3,404.6 C185.8,404.3 187.2,401.7 188.6,400.3 C190.0,398.9 191.4,397.0 193.0,395.9 C194.6,394.8 196.6,393.8 198.3,393.6 C200.1,393.4 202.1,394.5 203.5,394.7 C204.9,394.9 205.5,395.1 207.0,394.7 C208.5,394.3 210.2,393.2 212.3,392.4 C214.4,391.6 217.0,390.4 219.3,389.8 C221.6,389.3 224.0,389.3 226.3,389.1 C228.6,388.9 231.0,388.9 233.3,388.7 C235.6,388.4 237.7,387.7 240.3,387.4 C242.9,387.1 246.4,386.9 249.0,386.6 C251.6,386.3 253.2,386.0 256.0,385.5 C258.8,385.0 264.1,383.9 265.7,383.6" stroke="#2020c4" stroke-width="1.35"/>
</g>
<rect x="71.6" y="328.8" width="194.1" height="89.0" fill="none" stroke="#1a1a1a" stroke-width="1.1"/>
<path d="M71.6,341.5h2.3M265.7,341.5h-2.3" stroke="#1a1a1a" stroke-width="1"/>
<path d="M71.6,354.2h2.3M265.7,354.2h-2.3" stroke="#1a1a1a" stroke-width="1"/>
<path d="M71.6,366.9h2.3M265.7,366.9h-2.3" stroke="#1a1a1a" stroke-width="1"/>
<path d="M71.6,379.7h2.3M265.7,379.7h-2.3" stroke="#1a1a1a" stroke-width="1"/>
<path d="M71.6,392.4h2.3M265.7,392.4h-2.3" stroke="#1a1a1a" stroke-width="1"/>
<path d="M71.6,405.1h2.3M265.7,405.1h-2.3" stroke="#1a1a1a" stroke-width="1"/>
<path d="M95.9,417.8v-1.8M95.9,328.8v1.8" stroke="#1a1a1a" stroke-width="0.9"/>
<path d="M120.1,417.8v-1.8M120.1,328.8v1.8" stroke="#1a1a1a" stroke-width="0.9"/>
<path d="M144.4,417.8v-1.8M144.4,328.8v1.8" stroke="#1a1a1a" stroke-width="0.9"/>
<path d="M168.6,417.8v-1.8M168.6,328.8v1.8" stroke="#1a1a1a" stroke-width="0.9"/>
<path d="M192.9,417.8v-1.8M192.9,328.8v1.8" stroke="#1a1a1a" stroke-width="0.9"/>
<path d="M217.2,417.8v-1.8M217.2,328.8v1.8" stroke="#1a1a1a" stroke-width="0.9"/>
<path d="M241.4,417.8v-1.8M241.4,328.8v1.8" stroke="#1a1a1a" stroke-width="0.9"/>
<g font-family="Liberation Sans" font-size="4.6" font-weight="bold" fill="#222" text-anchor="end">
<text x="69.3" y="330.3">0.4</text>
<text x="69.3" y="343.0">0.3</text>
<text x="69.3" y="355.7">0.2</text>
<text x="69.3" y="368.4">0.1</text>
<text x="69.3" y="381.2">0</text>
<text x="69.3" y="393.9">-0.1</text>
<text x="69.3" y="406.6">-0.2</text>
<text x="69.3" y="419.3">-0.3</text>
</g>
<g font-family="Liberation Sans" font-size="4" fill="#555" text-anchor="middle">
<text x="71.6" y="422.4">0</text>
<text x="95.9" y="422.4">50</text>
<text x="120.1" y="422.4">100</text>
<text x="144.4" y="422.4">150</text>
<text x="168.6" y="422.4">200</text>
<text x="192.9" y="422.4">250</text>
<text x="217.2" y="422.4">300</text>
<text x="241.4" y="422.4">350</text>
<text x="265.7" y="422.4">400</text>
</g>
<clipPath id="cR2"><rect x="370.7" y="324.9" width="190.50000000000006" height="94.0"/></clipPath>
<g clip-path="url(#cR2)" fill="none" stroke-linejoin="round" stroke-linecap="round">
<path d="M370.7,341.7 C371.9,341.7 375.7,341.1 378.0,341.7 C380.3,342.2 382.5,343.3 384.7,345.0 C386.9,346.7 389.4,349.2 391.3,351.7 C393.2,354.2 394.6,356.9 396.3,360.0 C398.0,363.1 399.6,366.1 401.3,370.0 C403.0,373.9 404.6,378.9 406.3,383.3 C408.0,387.8 409.8,392.7 411.3,396.7 C412.8,400.7 414.4,405.3 415.5,407.5 C416.6,409.7 416.8,410.4 418.0,410.0 C419.2,409.6 421.3,406.7 423.0,405.0 C424.7,403.3 426.3,400.6 428.0,400.0 C429.7,399.4 431.3,400.3 433.0,401.7 C434.7,403.1 436.3,406.4 438.0,408.3 C439.7,410.2 441.3,411.9 443.0,413.3 C444.7,414.7 446.3,416.7 448.0,416.7 C449.7,416.7 451.3,415.0 453.0,413.3 C454.7,411.6 456.3,408.4 458.0,406.7 C459.7,405.0 461.3,404.3 463.0,403.3 C464.7,402.3 466.5,401.1 468.0,400.5 C469.5,399.9 470.2,399.6 472.0,399.6 C473.8,399.6 476.2,400.4 479.0,400.5 C481.8,400.6 485.8,401.2 489.0,400.5 C492.2,399.8 495.3,397.3 498.0,396.1 C500.7,394.9 502.1,394.5 505.0,393.5 C507.9,392.5 512.0,391.0 515.5,390.0 C519.0,389.0 523.1,388.1 526.0,387.4 C528.9,386.7 530.4,386.6 533.0,385.6 C535.6,384.6 538.9,382.5 541.8,381.3 C544.7,380.1 547.3,379.8 550.5,378.6 C553.7,377.4 559.4,375.0 561.2,374.3" stroke="#d81e24" stroke-width="1.35"/>
<path d="M370.7,351.7 C371.9,351.4 375.4,350.4 378.0,350.0 C380.6,349.6 383.8,348.8 386.3,349.2 C388.8,349.6 391.1,351.2 393.0,352.5 C394.9,353.8 396.3,354.3 398.0,356.7 C399.7,359.1 401.3,362.3 403.0,366.7 C404.7,371.1 406.3,377.8 408.0,383.3 C409.7,388.9 411.3,394.2 413.0,400.0 C414.7,405.8 416.3,416.6 418.0,418.3 C419.7,420.0 421.3,412.8 423.0,410.0 C424.7,407.2 426.3,403.2 428.0,401.7 C429.7,400.2 431.3,401.6 433.0,400.8 C434.7,400.0 436.3,397.1 438.0,396.7 C439.7,396.3 441.3,397.2 443.0,398.3 C444.7,399.4 446.3,401.4 448.0,403.3 C449.7,405.2 451.3,408.5 453.0,410.0 C454.7,411.5 456.3,411.9 458.0,412.5 C459.7,413.1 461.3,413.6 463.0,413.3 C464.7,413.1 466.5,412.0 468.0,411.0 C469.5,410.0 470.2,409.2 472.0,407.5 C473.8,405.8 476.2,401.4 479.0,400.5 C481.8,399.6 485.8,402.3 489.0,402.3 C492.2,402.3 495.3,401.4 498.0,400.5 C500.7,399.6 502.1,397.9 505.0,397.0 C507.9,396.1 512.0,396.2 515.5,395.3 C519.0,394.4 523.1,392.7 526.0,391.8 C528.9,390.9 530.4,390.4 533.0,390.0 C535.6,389.6 538.9,389.8 541.8,389.1 C544.7,388.4 547.3,386.9 550.5,385.6 C553.7,384.3 559.4,382.0 561.2,381.3" stroke="#e2262a" stroke-width="1.35"/>
<path d="M370.7,355.3 C371.9,355.3 374.6,355.3 378.0,355.3 C381.4,355.3 388.0,355.2 391.3,355.3 C394.6,355.4 395.8,355.4 398.0,355.8 C400.2,356.2 402.5,357.0 404.7,358.0 C406.9,359.0 409.4,360.0 411.3,361.7 C413.2,363.4 414.6,365.5 416.3,368.3 C418.0,371.1 419.6,375.0 421.3,378.3 C423.0,381.6 424.6,384.7 426.3,388.3 C428.0,391.9 429.6,396.7 431.3,400.0 C433.0,403.3 434.6,406.1 436.3,408.3 C438.0,410.5 439.4,412.2 441.3,413.3 C443.2,414.4 445.8,416.1 448.0,415.0 C450.2,413.9 452.8,410.0 454.7,406.7 C456.6,403.4 458.0,397.2 459.7,395.0 C461.4,392.8 463.3,393.3 464.7,393.3 C466.1,393.3 466.8,394.2 468.0,395.0 C469.2,395.8 470.2,397.0 472.0,397.9 C473.8,398.8 476.2,401.1 479.0,400.5 C481.8,399.9 485.8,396.0 489.0,394.4 C492.2,392.8 495.3,391.8 498.0,390.9 C500.7,390.0 502.1,389.0 505.0,389.1 C507.9,389.2 512.0,392.1 515.5,391.8 C519.0,391.5 523.1,389.3 526.0,387.4 C528.9,385.5 530.4,382.0 533.0,380.4 C535.6,378.8 538.9,378.7 541.8,377.8 C544.7,376.9 547.3,376.3 550.5,375.1 C553.7,373.9 559.4,371.5 561.2,370.8" stroke="#c41e2c" stroke-width="1.35"/>
<path d="M370.7,350.8 C372.2,350.7 376.5,349.9 379.7,350.0 C382.9,350.1 386.9,350.6 389.7,351.7 C392.5,352.8 394.1,353.6 396.3,356.7 C398.5,359.8 401.1,365.6 403.0,370.0 C404.9,374.4 406.3,378.9 408.0,383.3 C409.7,387.8 411.3,392.5 413.0,396.7 C414.7,400.9 416.3,405.1 418.0,408.3 C419.7,411.5 421.3,415.8 423.0,415.8 C424.7,415.8 426.3,410.9 428.0,408.3 C429.7,405.7 431.3,400.3 433.0,400.0 C434.7,399.7 436.1,404.5 438.0,406.7 C439.9,408.9 442.5,412.8 444.7,413.3 C446.9,413.9 449.1,411.7 451.3,410.0 C453.5,408.3 455.8,405.2 458.0,403.3 C460.2,401.4 463.0,398.9 464.7,398.3 C466.4,397.8 466.8,399.3 468.0,400.0 C469.2,400.7 470.2,402.2 472.0,402.3 C473.8,402.4 476.2,400.2 479.0,400.5 C481.8,400.8 485.8,404.0 489.0,404.0 C492.2,404.0 495.3,401.7 498.0,400.5 C500.7,399.3 502.1,397.9 505.0,397.0 C507.9,396.1 512.0,396.2 515.5,395.3 C519.0,394.4 523.1,392.7 526.0,391.8 C528.9,390.9 530.4,390.6 533.0,390.0 C535.6,389.4 538.9,389.0 541.8,388.0 C544.7,387.0 547.3,385.6 550.5,384.0 C553.7,382.4 559.4,379.5 561.2,378.6" stroke="#cc1c26" stroke-width="1.35"/>
</g>
<rect x="370.7" y="324.9" width="190.50000000000006" height="94.0" fill="none" stroke="#1a1a1a" stroke-width="1.1"/>
<path d="M370.7,338.3h2.3M561.2,338.3h-2.3" stroke="#1a1a1a" stroke-width="1"/>
<path d="M370.7,351.8h2.3M561.2,351.8h-2.3" stroke="#1a1a1a" stroke-width="1"/>
<path d="M370.7,365.2h2.3M561.2,365.2h-2.3" stroke="#1a1a1a" stroke-width="1"/>
<path d="M370.7,378.6h2.3M561.2,378.6h-2.3" stroke="#1a1a1a" stroke-width="1"/>
<path d="M370.7,392.0h2.3M561.2,392.0h-2.3" stroke="#1a1a1a" stroke-width="1"/>
<path d="M370.7,405.5h2.3M561.2,405.5h-2.3" stroke="#1a1a1a" stroke-width="1"/>
<path d="M394.5,418.9v-1.8M394.5,324.9v1.8" stroke="#1a1a1a" stroke-width="0.9"/>
<path d="M418.3,418.9v-1.8M418.3,324.9v1.8" stroke="#1a1a1a" stroke-width="0.9"/>
<path d="M442.1,418.9v-1.8M442.1,324.9v1.8" stroke="#1a1a1a" stroke-width="0.9"/>
<path d="M466.0,418.9v-1.8M466.0,324.9v1.8" stroke="#1a1a1a" stroke-width="0.9"/>
<path d="M489.8,418.9v-1.8M489.8,324.9v1.8" stroke="#1a1a1a" stroke-width="0.9"/>
<path d="M513.6,418.9v-1.8M513.6,324.9v1.8" stroke="#1a1a1a" stroke-width="0.9"/>
<path d="M537.4,418.9v-1.8M537.4,324.9v1.8" stroke="#1a1a1a" stroke-width="0.9"/>
<g font-family="Liberation Sans" font-size="4.6" font-weight="bold" fill="#222" text-anchor="end">
<text x="368.4" y="326.4">0.4</text>
<text x="368.4" y="339.8">0.3</text>
<text x="368.4" y="353.3">0.2</text>
<text x="368.4" y="366.7">0.1</text>
<text x="368.4" y="380.1">0</text>
<text x="368.4" y="393.5">-0.1</text>
<text x="368.4" y="407.0">-0.2</text>
<text x="368.4" y="420.4">-0.3</text>
</g>
<g font-family="Liberation Sans" font-size="4" fill="#555" text-anchor="middle">
<text x="370.7" y="423.5">0</text>
<text x="394.5" y="423.5">50</text>
<text x="418.3" y="423.5">100</text>
<text x="442.1" y="423.5">150</text>
<text x="466.0" y="423.5">200</text>
<text x="489.8" y="423.5">250</text>
<text x="513.6" y="423.5">300</text>
<text x="537.4" y="423.5">350</text>
<text x="561.2" y="423.5">400</text>
</g>
<text x="25.1" y="339.2" font-family="Liberation Serif" font-size="24" fill="#111" stroke="#111" stroke-width="0.25" letter-spacing="0.55"><tspan font-style="italic">s</tspan><tspan>(</tspan><tspan font-style="italic">t</tspan>)</text>
<text x="324.1" y="338.6" font-family="Liberation Serif" font-size="24" fill="#111" stroke="#111" stroke-width="0.25" letter-spacing="0.55"><tspan font-style="italic">s</tspan><tspan>(</tspan><tspan font-style="italic">t</tspan>)</text>
<text x="277.0" y="418.7" font-family="Liberation Serif" font-style="italic" font-size="24" fill="#111" stroke="#111" stroke-width="0.3">t</text>
<text x="576.5" y="419.7" font-family="Liberation Serif" font-style="italic" font-size="24" fill="#111" stroke="#111" stroke-width="0.3">t</text>
<clipPath id="cL3"><rect x="71.6" y="438.8" width="194.1" height="88.80000000000001"/></clipPath>
<g clip-path="url(#cL3)" fill="none" stroke-linejoin="round" stroke-linecap="round">
<path d="M71.6,455.0 C72.0,457.2 73.3,463.3 74.2,468.3 C75.1,473.3 75.7,478.9 76.7,485.0 C77.7,491.1 78.9,500.0 80.0,505.0 C81.1,510.0 82.3,512.8 83.3,515.0 C84.3,517.2 84.8,518.3 85.8,518.3 C86.8,518.3 88.0,517.8 89.2,515.0 C90.5,512.2 91.9,506.4 93.3,501.7 C94.7,497.0 96.1,491.7 97.5,486.7 C98.9,481.7 100.3,476.1 101.7,471.7 C103.1,467.2 104.4,463.1 105.8,460.0 C107.2,456.9 108.8,454.7 110.0,453.3 C111.2,451.9 112.0,451.4 113.3,451.7 C114.5,452.0 116.2,453.3 117.5,455.0 C118.8,456.7 119.7,458.9 120.8,461.7 C121.9,464.5 123.1,468.6 124.2,471.7 C125.3,474.8 126.2,477.8 127.5,480.0 C128.8,482.2 130.2,484.4 131.7,485.0 C133.2,485.6 135.0,484.6 136.7,483.3 C138.4,482.1 140.0,479.3 141.7,477.5 C143.4,475.7 145.0,473.9 146.7,472.5 C148.4,471.1 150.0,469.6 151.7,469.2 C153.4,468.8 155.0,469.7 156.7,470.0 C158.4,470.3 160.3,470.8 161.7,470.8 C163.1,470.8 163.6,471.0 165.0,470.0 C166.4,469.0 168.6,466.8 170.3,464.8 C172.1,462.8 173.8,459.6 175.5,457.8 C177.2,456.1 179.1,454.8 180.8,454.3 C182.6,453.9 184.2,454.4 186.0,455.1 C187.8,455.8 189.6,457.1 191.3,458.6 C193.1,460.1 194.8,463.2 196.5,463.9 C198.2,464.6 200.1,464.2 201.8,463.0 C203.6,461.8 205.2,457.8 207.0,456.9 C208.8,456.0 210.6,457.4 212.3,457.8 C214.1,458.2 215.8,458.8 217.5,459.5 C219.2,460.2 221.1,462.4 222.8,462.1 C224.6,461.8 226.4,458.8 228.0,457.8 C229.6,456.9 230.9,456.1 232.4,456.4 C233.9,456.7 235.2,458.4 236.8,459.5 C238.4,460.6 240.2,462.1 242.0,463.0 C243.8,463.9 245.6,465.4 247.3,464.8 C249.1,464.2 250.8,459.8 252.5,459.5 C254.2,459.2 256.3,462.1 257.8,463.0 C259.3,463.9 260.3,466.6 261.3,464.8 C262.3,463.1 263.2,455.7 263.9,452.5 C264.6,449.3 265.4,446.7 265.7,445.5" stroke="#2020c4" stroke-width="1.35"/>
<path d="M71.7,447.1 C72.2,449.6 73.7,456.4 74.7,462.4 C75.7,468.4 76.7,475.9 77.8,483.0 C78.8,490.1 80.0,499.4 80.9,504.9 C81.9,510.4 82.7,513.5 83.5,516.1 C84.3,518.8 84.9,520.8 85.8,520.8 C86.8,520.7 88.0,519.0 89.2,515.8 C90.4,512.6 91.9,506.6 93.3,501.7 C94.7,496.9 96.1,491.7 97.5,486.7 C98.9,481.7 100.3,476.1 101.7,471.7 C103.1,467.4 104.4,463.1 105.8,460.5 C107.2,457.9 108.7,456.9 110.0,456.1 C111.3,455.3 112.0,455.6 113.4,455.7 C114.7,455.8 116.7,455.7 118.2,456.8 C119.6,457.8 121.0,459.6 122.2,461.9 C123.4,464.2 124.5,468.3 125.4,470.8 C126.4,473.3 126.9,475.6 127.9,477.2 C129.0,478.7 130.3,479.5 131.7,480.0 C133.2,480.5 135.0,481.1 136.7,480.4 C138.4,479.8 140.0,477.9 141.7,476.1 C143.4,474.4 145.0,471.6 146.7,470.0 C148.4,468.3 150.0,466.6 151.7,466.3 C153.4,466.1 155.0,467.8 156.7,468.5 C158.4,469.2 160.3,470.2 161.7,470.4 C163.1,470.7 163.6,470.9 165.0,469.9 C166.4,469.0 168.6,466.8 170.3,464.8 C172.1,462.8 173.8,459.5 175.5,457.8 C177.2,456.1 179.1,454.7 180.8,454.3 C182.6,453.9 184.2,454.4 186.0,455.1 C187.8,455.8 189.6,457.1 191.3,458.6 C193.1,460.1 194.8,463.2 196.5,463.9 C198.2,464.6 200.1,464.2 201.8,463.0 C203.6,461.8 205.2,457.8 207.0,456.9 C208.8,456.0 210.6,457.4 212.3,457.8 C214.1,458.2 215.8,458.8 217.5,459.5 C219.2,460.2 221.1,462.4 222.8,462.1 C224.6,461.8 226.4,458.8 228.0,457.8 C229.6,456.9 230.9,456.1 232.4,456.4 C233.9,456.7 235.2,458.4 236.8,459.5 C238.4,460.6 240.2,462.1 242.0,463.0 C243.8,463.9 245.6,465.4 247.3,464.8 C249.1,464.2 250.8,459.8 252.5,459.5 C254.2,459.2 256.3,462.1 257.8,463.0 C259.3,463.9 260.3,466.6 261.3,464.8 C262.3,463.1 263.2,455.7 263.9,452.5 C264.6,449.3 265.4,446.7 265.7,445.5" stroke="#2020c4" stroke-width="1.35"/>
<path d="M71.5,464.9 C71.9,466.7 73.1,471.9 73.8,475.7 C74.5,479.5 74.9,482.6 75.8,487.5 C76.7,492.4 78.0,500.6 79.2,505.2 C80.4,509.8 82.0,512.8 83.1,515.0 C84.2,517.2 84.8,518.3 85.8,518.3 C86.8,518.3 87.9,517.8 89.2,515.0 C90.5,512.2 92.0,506.4 93.5,501.7 C95.0,497.0 96.8,491.7 98.3,486.7 C99.8,481.7 101.3,476.1 102.6,471.7 C103.9,467.3 104.8,463.1 106.1,460.0 C107.3,456.9 108.8,454.7 110.0,453.3 C111.2,451.9 112.1,451.4 113.2,451.7 C114.4,452.0 115.8,453.3 116.8,455.0 C117.9,456.7 118.4,458.9 119.4,461.9 C120.4,465.0 121.7,469.4 123.0,473.2 C124.2,476.9 125.6,481.3 127.1,484.6 C128.5,487.9 130.1,492.4 131.7,493.0 C133.3,493.6 135.0,490.1 136.7,487.9 C138.4,485.6 140.0,481.4 141.7,479.4 C143.4,477.5 145.0,477.0 146.7,475.9 C148.4,474.8 150.0,473.7 151.7,473.0 C153.4,472.4 155.0,472.3 156.7,472.0 C158.4,471.7 160.3,471.6 161.7,471.3 C163.1,471.0 163.6,471.2 165.0,470.1 C166.4,469.0 168.6,466.9 170.3,464.8 C172.1,462.8 173.8,459.6 175.5,457.8 C177.2,456.0 179.1,454.8 180.8,454.3 C182.6,453.8 184.2,454.4 186.0,455.1 C187.8,455.8 189.6,457.1 191.3,458.6 C193.1,460.2 194.8,463.3 196.5,464.5 C198.2,465.7 200.1,466.8 201.8,465.8 C203.6,464.8 205.2,459.8 207.0,458.5 C208.8,457.2 210.6,457.7 212.3,457.9 C214.1,458.1 215.8,458.8 217.5,459.5 C219.2,460.2 221.1,462.4 222.8,462.4 C224.6,462.4 226.4,460.2 228.0,459.5 C229.6,458.8 230.9,457.9 232.4,458.0 C233.9,458.0 235.2,459.0 236.8,459.8 C238.4,460.7 240.2,462.2 242.0,463.0 C243.8,463.8 245.6,465.4 247.3,464.8 C249.1,464.2 250.8,459.8 252.5,459.5 C254.2,459.2 256.3,462.1 257.8,463.0 C259.3,463.9 260.3,466.6 261.3,464.8 C262.3,463.1 263.2,455.7 263.9,452.5 C264.6,449.3 265.4,446.7 265.7,445.5" stroke="#2020c4" stroke-width="1.35"/>
<path d="M71.6,455.0 C72.0,457.3 73.3,463.4 74.2,468.5 C75.1,473.7 75.7,479.6 76.7,486.0 C77.7,492.4 78.9,502.0 80.0,507.0 C81.1,512.0 82.3,514.1 83.3,516.0 C84.3,517.9 84.8,518.7 85.8,518.5 C86.8,518.4 88.0,517.8 89.2,515.0 C90.5,512.2 91.9,506.4 93.3,501.7 C94.7,497.0 96.1,491.7 97.5,486.7 C98.9,481.7 100.3,476.2 101.7,471.7 C103.1,467.2 104.4,463.1 105.8,460.0 C107.2,456.9 108.7,454.7 110.0,453.3 C111.3,451.9 112.0,451.4 113.4,451.7 C114.9,452.0 117.0,453.3 118.6,455.0 C120.2,456.7 121.9,458.9 123.2,461.7 C124.4,464.5 125.4,468.7 126.3,471.9 C127.1,475.2 127.3,478.5 128.2,481.1 C129.2,483.7 130.3,487.0 131.8,487.5 C133.2,488.0 135.0,486.0 136.7,484.3 C138.4,482.7 140.0,479.5 141.7,477.6 C143.4,475.6 145.0,473.9 146.7,472.6 C148.4,471.3 150.0,470.0 151.7,469.9 C153.4,469.7 155.0,471.2 156.7,471.7 C158.4,472.2 160.3,472.8 161.7,472.7 C163.1,472.7 163.6,472.6 165.1,471.4 C166.6,470.1 168.8,467.4 170.8,465.2 C172.7,462.9 175.0,459.7 177.0,457.8 C179.0,456.0 181.1,454.8 182.8,454.3 C184.5,453.8 185.7,454.4 187.1,455.1 C188.6,455.8 190.0,457.1 191.6,458.6 C193.1,460.1 194.8,463.2 196.5,463.9 C198.2,464.6 200.1,464.2 201.8,463.0 C203.5,461.8 205.3,457.8 207.0,456.9 C208.7,456.0 210.6,457.4 212.3,457.8 C214.0,458.2 215.8,458.8 217.5,459.5 C219.2,460.2 221.1,462.4 222.8,462.1 C224.5,461.8 226.4,458.7 228.0,457.8 C229.6,456.9 230.9,456.1 232.4,456.4 C233.9,456.8 235.2,458.5 236.8,459.9 C238.4,461.3 240.2,463.8 242.0,464.9 C243.8,466.1 245.6,467.8 247.3,467.0 C249.1,466.1 250.8,460.7 252.5,460.0 C254.2,459.4 256.3,462.2 257.8,463.0 C259.3,463.8 260.3,466.6 261.3,464.8 C262.3,463.0 263.2,455.7 263.9,452.5 C264.6,449.3 265.4,446.7 265.7,445.5" stroke="#2020c4" stroke-width="1.35"/>
</g>
<rect x="71.6" y="438.8" width="194.1" height="88.80000000000001" fill="none" stroke="#1a1a1a" stroke-width="1.1"/>
<path d="M71.6,449.9h2.3M265.7,449.9h-2.3" stroke="#1a1a1a" stroke-width="1"/>
<path d="M71.6,461.0h2.3M265.7,461.0h-2.3" stroke="#1a1a1a" stroke-width="1"/>
<path d="M71.6,472.1h2.3M265.7,472.1h-2.3" stroke="#1a1a1a" stroke-width="1"/>
<path d="M71.6,483.2h2.3M265.7,483.2h-2.3" stroke="#1a1a1a" stroke-width="1"/>
<path d="M71.6,494.3h2.3M265.7,494.3h-2.3" stroke="#1a1a1a" stroke-width="1"/>
<path d="M71.6,505.4h2.3M265.7,505.4h-2.3" stroke="#1a1a1a" stroke-width="1"/>
<path d="M71.6,516.5h2.3M265.7,516.5h-2.3" stroke="#1a1a1a" stroke-width="1"/>
<path d="M95.9,527.6v-1.8M95.9,438.8v1.8" stroke="#1a1a1a" stroke-width="0.9"/>
<path d="M120.1,527.6v-1.8M120.1,438.8v1.8" stroke="#1a1a1a" stroke-width="0.9"/>
<path d="M144.4,527.6v-1.8M144.4,438.8v1.8" stroke="#1a1a1a" stroke-width="0.9"/>
<path d="M168.6,527.6v-1.8M168.6,438.8v1.8" stroke="#1a1a1a" stroke-width="0.9"/>
<path d="M192.9,527.6v-1.8M192.9,438.8v1.8" stroke="#1a1a1a" stroke-width="0.9"/>
<path d="M217.2,527.6v-1.8M217.2,438.8v1.8" stroke="#1a1a1a" stroke-width="0.9"/>
<path d="M241.4,527.6v-1.8M241.4,438.8v1.8" stroke="#1a1a1a" stroke-width="0.9"/>
<g font-family="Liberation Sans" font-size="4.6" font-weight="bold" fill="#222" text-anchor="end">
<text x="69.3" y="440.3">0.4</text>
<text x="69.3" y="451.4">0.3</text>
<text x="69.3" y="462.5">0.2</text>
<text x="69.3" y="473.6">0.1</text>
<text x="69.3" y="484.7">0</text>
<text x="69.3" y="495.8">-0.1</text>
<text x="69.3" y="506.9">-0.2</text>
<text x="69.3" y="518.0">-0.3</text>
<text x="69.3" y="529.1">-0.4</text>
</g>
<g font-family="Liberation Sans" font-size="4" fill="#555" text-anchor="middle">
<text x="71.6" y="532.2">0</text>
<text x="95.9" y="532.2">50</text>
<text x="120.1" y="532.2">100</text>
<text x="144.4" y="532.2">150</text>
<text x="168.6" y="532.2">200</text>
<text x="192.9" y="532.2">250</text>
<text x="217.2" y="532.2">300</text>
<text x="241.4" y="532.2">350</text>
<text x="265.7" y="532.2">400</text>
</g>
<clipPath id="cR3"><rect x="369.4" y="435.7" width="191.80000000000007" height="92.09999999999997"/></clipPath>
<g clip-path="url(#cR3)" fill="none" stroke-linejoin="round" stroke-linecap="round">
<path d="M369.4,460.0 C369.9,463.3 371.6,472.5 372.7,480.0 C373.8,487.5 374.9,497.2 376.0,505.0 C377.1,512.8 378.2,523.7 379.3,526.7 C380.4,529.8 381.3,525.0 382.7,523.3 C384.1,521.6 386.0,518.6 387.7,516.7 C389.4,514.8 391.0,514.5 392.7,511.7 C394.4,508.9 396.3,504.7 397.7,500.0 C399.1,495.3 399.6,488.6 401.0,483.3 C402.4,478.0 404.3,472.5 406.0,468.3 C407.7,464.1 409.6,460.4 411.0,458.3 C412.4,456.2 412.9,455.7 414.3,455.8 C415.7,455.9 417.6,457.7 419.3,459.2 C421.0,460.7 422.6,463.5 424.3,465.0 C426.0,466.5 427.4,467.6 429.3,468.3 C431.2,469.0 433.8,469.1 436.0,469.2 C438.2,469.3 440.5,469.3 442.7,469.2 C444.9,469.1 446.8,468.9 449.3,468.3 C451.8,467.7 455.4,466.4 457.7,465.8 C460.0,465.2 460.4,465.6 463.0,465.0 C465.6,464.4 470.0,462.8 473.5,462.4 C477.0,462.0 481.1,462.1 484.0,462.4 C486.9,462.7 488.7,463.2 491.0,464.1 C493.3,465.0 495.7,467.0 498.0,467.6 C500.3,468.2 502.4,469.2 505.0,467.6 C507.6,466.0 511.5,458.9 513.8,458.0 C516.1,457.1 517.0,461.2 519.0,462.4 C521.0,463.6 523.7,464.4 526.0,465.0 C528.3,465.6 530.4,466.3 533.0,465.9 C535.6,465.5 539.2,462.1 541.8,462.4 C544.4,462.7 546.8,467.5 548.8,467.6 C550.8,467.8 552.4,466.1 554.0,463.3 C555.6,460.5 557.2,453.9 558.4,451.0 C559.6,448.1 560.7,446.7 561.2,445.8" stroke="#d81e24" stroke-width="1.35"/>
<path d="M369.4,480.0 C369.7,478.6 370.2,473.4 371.0,471.7 C371.8,470.0 373.2,469.4 374.3,470.0 C375.4,470.6 376.3,472.8 377.7,475.0 C379.1,477.2 381.3,480.2 382.7,483.3 C384.1,486.4 384.9,490.0 386.0,493.3 C387.1,496.6 388.2,500.2 389.3,503.3 C390.4,506.4 391.6,510.9 392.7,511.7 C393.8,512.5 394.6,511.1 396.0,508.3 C397.4,505.5 399.3,499.7 401.0,495.0 C402.7,490.3 404.3,484.2 406.0,480.0 C407.7,475.8 409.3,472.5 411.0,470.0 C412.7,467.5 414.3,466.1 416.0,465.0 C417.7,463.9 419.3,463.2 421.0,463.3 C422.7,463.4 424.3,464.8 426.0,465.8 C427.7,466.8 428.8,468.6 431.0,469.2 C433.2,469.8 436.2,469.5 439.3,469.2 C442.4,468.9 446.0,468.2 449.3,467.5 C452.6,466.8 457.0,464.5 459.3,465.0 C461.6,465.5 460.6,469.9 463.0,470.3 C465.4,470.7 470.6,467.6 473.5,467.6 C476.4,467.6 477.9,471.0 480.5,470.3 C483.1,469.6 486.1,464.9 489.0,463.3 C491.9,461.7 495.3,460.0 498.0,460.6 C500.7,461.2 502.7,465.2 505.0,466.7 C507.3,468.2 509.7,469.7 512.0,469.4 C514.3,469.1 516.7,465.3 519.0,465.0 C521.3,464.7 523.1,467.6 526.0,467.6 C528.9,467.6 533.0,465.4 536.5,465.0 C540.0,464.6 544.1,464.6 547.0,465.0 C549.9,465.4 552.0,469.1 554.0,467.6 C556.0,466.2 558.1,459.4 559.3,456.3 C560.5,453.2 560.9,450.2 561.2,449.0" stroke="#e2262a" stroke-width="1.35"/>
<path d="M369.4,481.7 C370.2,484.8 372.6,493.9 374.3,500.0 C376.0,506.1 377.6,515.0 379.3,518.3 C381.0,521.6 382.6,520.1 384.3,520.0 C386.0,519.9 387.6,518.6 389.3,517.5 C391.0,516.4 392.6,515.1 394.3,513.3 C396.0,511.5 397.6,511.4 399.3,506.7 C401.0,502.0 402.6,490.6 404.3,485.0 C406.0,479.4 407.6,476.4 409.3,473.3 C411.0,470.2 412.4,468.2 414.3,466.7 C416.2,465.2 418.8,464.1 421.0,464.2 C423.2,464.3 425.2,466.5 427.7,467.5 C430.2,468.5 432.4,469.9 436.0,470.0 C439.6,470.1 445.4,468.0 449.3,468.3 C453.2,468.6 457.0,471.8 459.3,471.7 C461.6,471.6 460.6,468.6 463.0,467.6 C465.4,466.6 470.0,466.2 473.5,465.9 C477.0,465.6 479.9,465.8 484.0,465.9 C488.1,466.0 493.9,466.8 498.0,466.7 C502.1,466.6 505.0,465.4 508.5,465.0 C512.0,464.6 515.5,464.0 519.0,464.1 C522.5,464.2 526.0,465.8 529.5,465.9 C533.0,466.0 536.5,465.1 540.0,465.0 C543.5,464.9 547.6,465.9 550.5,465.0 C553.4,464.1 555.7,461.6 557.5,459.8 C559.3,458.1 560.6,455.4 561.2,454.5" stroke="#c41e2c" stroke-width="1.35"/>
<path d="M369.4,485.0 C370.2,488.1 372.6,497.8 374.3,503.3 C376.0,508.9 377.6,515.4 379.3,518.3 C381.0,521.2 382.6,520.1 384.3,520.8 C386.0,521.5 387.9,521.8 389.3,522.5 C390.7,523.2 391.3,526.8 392.7,525.0 C394.1,523.2 396.0,514.5 397.7,511.7 C399.4,508.9 401.0,509.7 402.7,508.3 C404.4,506.9 406.3,506.4 407.7,503.3 C409.1,500.2 409.6,493.9 411.0,490.0 C412.4,486.1 414.3,482.8 416.0,480.0 C417.7,477.2 419.1,475.0 421.0,473.3 C422.9,471.6 425.2,470.7 427.7,470.0 C430.2,469.3 432.4,469.5 436.0,469.2 C439.6,468.9 444.8,467.8 449.3,468.3 C453.8,468.8 459.2,471.8 463.0,472.0 C466.8,472.2 468.9,470.1 471.8,469.4 C474.7,468.7 477.6,468.5 480.5,467.6 C483.4,466.7 486.1,464.0 489.0,464.1 C491.9,464.2 495.0,467.5 498.0,468.5 C501.0,469.5 503.9,470.6 506.8,470.3 C509.7,470.0 512.6,467.1 515.5,466.7 C518.4,466.2 521.4,467.5 524.3,467.6 C527.2,467.8 529.8,468.3 533.0,467.6 C536.2,466.9 540.6,463.2 543.5,463.3 C546.4,463.4 548.5,468.2 550.5,468.5 C552.5,468.8 554.0,466.8 555.8,465.0 C557.6,463.2 560.3,459.2 561.2,458.0" stroke="#cc1c26" stroke-width="1.35"/>
</g>
<rect x="369.4" y="435.7" width="191.80000000000007" height="92.09999999999997" fill="none" stroke="#1a1a1a" stroke-width="1.1"/>
<path d="M369.4,451.0h2.3M561.2,451.0h-2.3" stroke="#1a1a1a" stroke-width="1"/>
<path d="M369.4,466.4h2.3M561.2,466.4h-2.3" stroke="#1a1a1a" stroke-width="1"/>
<path d="M369.4,481.8h2.3M561.2,481.8h-2.3" stroke="#1a1a1a" stroke-width="1"/>
<path d="M369.4,497.1h2.3M561.2,497.1h-2.3" stroke="#1a1a1a" stroke-width="1"/>
<path d="M369.4,512.4h2.3M561.2,512.4h-2.3" stroke="#1a1a1a" stroke-width="1"/>
<path d="M393.4,527.8v-1.8M393.4,435.7v1.8" stroke="#1a1a1a" stroke-width="0.9"/>
<path d="M417.4,527.8v-1.8M417.4,435.7v1.8" stroke="#1a1a1a" stroke-width="0.9"/>
<path d="M441.3,527.8v-1.8M441.3,435.7v1.8" stroke="#1a1a1a" stroke-width="0.9"/>
<path d="M465.3,527.8v-1.8M465.3,435.7v1.8" stroke="#1a1a1a" stroke-width="0.9"/>
<path d="M489.3,527.8v-1.8M489.3,435.7v1.8" stroke="#1a1a1a" stroke-width="0.9"/>
<path d="M513.2,527.8v-1.8M513.2,435.7v1.8" stroke="#1a1a1a" stroke-width="0.9"/>
<path d="M537.2,527.8v-1.8M537.2,435.7v1.8" stroke="#1a1a1a" stroke-width="0.9"/>
<g font-family="Liberation Sans" font-size="4.6" font-weight="bold" fill="#222" text-anchor="end">
<text x="367.1" y="437.2">0.4</text>
<text x="367.1" y="452.5">0.3</text>
<text x="367.1" y="467.9">0.2</text>
<text x="367.1" y="483.2">0.1</text>
<text x="367.1" y="498.6">0</text>
<text x="367.1" y="513.9">-0.1</text>
<text x="367.1" y="529.3">-0.2</text>
</g>
<g font-family="Liberation Sans" font-size="4" fill="#555" text-anchor="middle">
<text x="369.4" y="532.4">0</text>
<text x="393.4" y="532.4">50</text>
<text x="417.4" y="532.4">100</text>
<text x="441.3" y="532.4">150</text>
<text x="465.3" y="532.4">200</text>
<text x="489.3" y="532.4">250</text>
<text x="513.2" y="532.4">300</text>
<text x="537.2" y="532.4">350</text>
<text x="561.2" y="532.4">400</text>
</g>
<text x="15.8" y="449.3" font-family="Liberation Serif" font-size="24" fill="#111" stroke="#111" stroke-width="0.25" letter-spacing="0.45"><tspan font-style="italic">a</tspan><tspan font-style="italic" font-size="16" dy="4">v</tspan><tspan dy="-4">(</tspan><tspan font-style="italic">t</tspan>)</text>
<text x="312.8" y="449.3" font-family="Liberation Serif" font-size="24" fill="#111" stroke="#111" stroke-width="0.25" letter-spacing="0.45"><tspan font-style="italic">a</tspan><tspan font-style="italic" font-size="16" dy="4">v</tspan><tspan dy="-4">(</tspan><tspan font-style="italic">t</tspan>)</text>
<text x="276.0" y="528.4" font-family="Liberation Serif" font-style="italic" font-size="24" fill="#111" stroke="#111" stroke-width="0.3">t</text>
<text x="576.0" y="529.4" font-family="Liberation Serif" font-style="italic" font-size="24" fill="#111" stroke="#111" stroke-width="0.3">t</text>
<clipPath id="cL4"><rect x="72.6" y="551.0" width="193.1" height="86.70000000000005"/></clipPath>
<g clip-path="url(#cL4)" fill="none" stroke-linejoin="round" stroke-linecap="round">
<path d="M73.3,623.3 C73.7,621.5 75.9,612.6 76.7,608.3 C77.5,604.0 79.3,590.6 80.0,586.7 C80.7,582.8 81.8,577.3 82.5,575.0 C83.2,572.7 85.0,567.9 85.8,566.7 C86.6,565.5 88.3,564.8 89.2,565.0 C90.1,565.2 92.4,567.3 93.3,568.3 C94.2,569.3 95.8,572.1 96.7,573.3 C97.6,574.5 99.8,578.5 100.8,578.3 C101.8,578.1 104.1,573.5 105.0,571.7 C105.9,570.0 107.4,564.9 108.3,563.3 C109.2,561.7 111.5,558.3 112.5,558.3 C113.5,558.3 115.8,561.4 116.7,563.3 C117.6,565.2 119.2,571.9 120.0,575.0 C120.8,578.1 122.5,586.7 123.3,590.0 C124.1,593.3 125.9,603.5 126.7,603.3 C127.5,603.1 129.2,592.2 130.0,588.3 C130.8,584.4 132.5,573.1 133.3,570.0 C134.1,566.9 135.8,562.3 136.7,561.7 C137.6,561.1 139.9,563.6 140.8,565.0 C141.7,566.4 143.3,571.2 144.2,573.3 C145.1,575.4 147.3,581.5 148.3,583.3 C149.3,585.0 151.5,588.3 152.5,588.3 C153.5,588.3 155.7,584.0 156.7,583.3 C157.7,582.6 159.8,581.7 160.8,582.5 C161.8,583.3 164.1,587.1 165.0,590.5 C165.9,593.9 167.8,607.6 168.5,611.5 C169.2,615.4 170.4,623.8 171.1,623.8 C171.8,623.8 173.8,614.4 174.6,611.5 C175.4,608.6 177.3,601.1 178.1,599.3 C178.9,597.5 180.8,595.6 181.6,595.8 C182.4,596.0 184.3,599.4 185.1,601.0 C185.9,602.6 188.0,609.2 188.6,609.8 C189.2,610.4 189.5,605.5 190.0,606.0 C190.5,606.5 192.2,612.4 193.0,614.0 C193.8,615.6 196.2,619.1 197.0,620.0 C197.8,620.9 199.3,621.3 200.0,622.0 C200.7,622.7 202.3,626.1 203.0,626.0 C203.7,625.9 205.3,621.9 206.0,621.0 C206.7,620.1 208.3,617.9 209.0,618.0 C209.7,618.1 211.3,620.8 212.0,622.0 C212.7,623.2 214.3,627.0 215.0,628.0 C215.7,629.0 217.3,630.4 218.0,631.0 C218.7,631.6 220.3,633.1 221.0,633.0 C221.7,632.9 223.3,630.9 224.0,630.0 C224.7,629.1 226.3,625.8 227.0,625.0 C227.7,624.2 229.3,622.8 230.0,623.0 C230.7,623.2 232.3,626.3 233.0,627.0 C233.7,627.7 235.3,628.9 236.0,629.0 C236.7,629.1 238.3,628.2 239.0,628.0 C239.7,627.8 241.3,626.8 242.0,627.0 C242.7,627.2 244.3,629.4 245.0,630.0 C245.7,630.6 247.3,631.9 248.0,632.0 C248.7,632.1 250.3,631.4 251.0,631.0 C251.7,630.6 253.3,628.9 254.0,629.0 C254.7,629.1 256.3,631.9 257.0,632.0 C257.7,632.1 259.4,630.9 260.0,630.0 C260.6,629.1 262.0,626.1 262.5,624.0 C263.0,621.9 264.1,614.8 264.5,612.0 C264.9,609.2 265.6,601.4 265.7,600.0" stroke="#2020c4" stroke-width="1.35"/>
<path d="M73.3,615.0 C73.7,613.2 75.9,603.9 76.7,600.0 C77.5,596.1 79.3,585.3 80.0,582.0 C80.7,578.7 81.8,574.1 82.5,572.0 C83.2,569.9 85.0,565.0 85.8,564.0 C86.6,563.0 88.3,562.9 89.2,563.0 C90.1,563.1 92.4,564.5 93.3,565.0 C94.2,565.5 95.8,566.3 96.7,567.0 C97.6,567.7 99.8,570.9 100.8,571.0 C101.8,571.1 104.1,569.3 105.0,568.0 C105.9,566.7 107.4,561.4 108.3,560.0 C109.2,558.6 111.5,555.9 112.5,556.0 C113.5,556.1 115.8,559.1 116.7,561.0 C117.6,562.9 119.2,569.2 120.0,572.0 C120.8,574.8 122.5,582.2 123.3,585.0 C124.1,587.8 125.9,596.1 126.7,596.0 C127.5,595.9 129.2,587.5 130.0,584.0 C130.8,580.5 132.5,569.0 133.3,566.0 C134.1,563.0 135.8,558.8 136.7,558.0 C137.6,557.2 139.9,558.1 140.8,559.0 C141.7,559.9 143.3,564.0 144.2,566.0 C145.1,568.0 147.3,574.2 148.3,576.0 C149.3,577.8 151.5,580.6 152.5,581.0 C153.5,581.4 155.7,579.2 156.7,579.0 C157.7,578.8 159.8,578.5 160.8,579.0 C161.8,579.5 163.9,581.8 165.0,583.5 C166.1,585.2 169.4,590.7 170.3,594.0 C171.2,597.3 172.4,609.0 173.0,612.0 C173.6,615.0 174.9,620.5 175.5,620.0 C176.1,619.5 177.3,610.6 178.1,608.0 C178.9,605.4 181.1,599.4 182.0,598.0 C182.9,596.6 185.1,594.4 186.0,596.0 C186.9,597.6 189.2,609.4 190.0,612.0 C190.8,614.6 192.2,616.8 193.0,618.0 C193.8,619.2 196.2,621.2 197.0,622.0 C197.8,622.8 199.3,624.1 200.0,625.0 C200.7,625.9 202.3,629.9 203.0,630.0 C203.7,630.1 205.3,626.7 206.0,626.0 C206.7,625.3 208.3,623.6 209.0,624.0 C209.7,624.4 211.3,628.1 212.0,629.0 C212.7,629.9 214.3,631.4 215.0,632.0 C215.7,632.6 217.3,634.1 218.0,634.0 C218.7,633.9 220.3,631.8 221.0,631.0 C221.7,630.2 223.3,627.2 224.0,627.0 C224.7,626.8 226.3,628.4 227.0,629.0 C227.7,629.6 229.3,631.9 230.0,632.0 C230.7,632.1 232.3,630.6 233.0,630.0 C233.7,629.4 235.3,626.9 236.0,627.0 C236.7,627.1 238.3,630.3 239.0,631.0 C239.7,631.7 241.3,632.9 242.0,633.0 C242.7,633.1 244.3,631.8 245.0,632.0 C245.7,632.2 247.3,634.8 248.0,635.0 C248.7,635.2 250.3,634.4 251.0,634.0 C251.7,633.6 253.3,632.0 254.0,632.0 C254.7,632.0 256.3,633.9 257.0,634.0 C257.7,634.1 259.4,633.7 260.0,633.0 C260.6,632.3 262.0,629.8 262.5,628.0 C263.0,626.2 264.1,620.7 264.5,618.0 C264.9,615.3 265.6,606.5 265.7,605.0" stroke="#2020c4" stroke-width="1.35"/>
<path d="M73.3,615.5 C73.7,614.1 75.9,606.7 76.7,603.2 C77.5,599.8 79.3,589.2 80.0,585.9 C80.7,582.6 81.8,577.1 82.5,574.9 C83.2,572.7 85.0,567.9 85.8,566.7 C86.6,565.5 88.3,564.8 89.2,565.0 C90.1,565.2 92.4,567.3 93.3,568.6 C94.2,569.9 95.8,574.1 96.7,575.8 C97.6,577.5 99.8,583.5 100.8,583.1 C101.8,582.7 104.1,575.1 105.0,572.7 C105.9,570.4 107.4,565.1 108.3,563.4 C109.2,561.7 111.5,558.3 112.5,558.3 C113.5,558.3 115.8,561.3 116.7,563.3 C117.6,565.3 119.2,571.8 120.0,575.1 C120.8,578.3 122.5,587.7 123.3,591.3 C124.1,595.0 125.9,606.4 126.7,606.2 C127.5,605.9 129.2,593.2 130.0,589.2 C130.8,585.3 132.5,575.3 133.3,572.5 C134.1,569.8 135.8,566.3 136.7,565.6 C137.6,564.8 139.9,565.1 140.8,566.2 C141.7,567.2 143.3,572.3 144.2,574.9 C145.1,577.5 147.3,586.5 148.3,588.6 C149.3,590.8 151.5,593.5 152.5,593.0 C153.5,592.5 155.7,585.5 156.7,584.3 C157.7,583.1 159.8,581.8 160.8,582.6 C161.8,583.3 164.1,587.1 165.0,590.5 C165.9,593.9 167.8,607.6 168.5,611.5 C169.2,615.4 170.4,623.8 171.1,623.8 C171.8,623.8 173.8,614.4 174.6,611.5 C175.4,608.6 177.3,601.1 178.1,599.3 C178.9,597.5 180.8,595.6 181.6,595.8 C182.4,596.0 184.3,599.4 185.1,601.0 C185.9,602.6 188.0,608.0 188.6,609.8 C189.2,611.5 189.5,614.8 190.0,616.0 C190.5,617.2 192.2,619.0 193.0,620.0 C193.8,621.0 196.2,624.0 197.0,625.0 C197.8,626.0 199.4,628.2 200.0,629.0 C200.6,629.8 201.4,632.1 202.0,632.0 C202.6,631.9 204.3,629.8 205.0,628.0 C205.7,626.2 207.3,617.8 208.0,617.0 C208.7,616.2 210.3,620.0 211.0,621.0 C211.7,622.0 213.3,625.0 214.0,626.0 C214.7,627.0 216.3,629.2 217.0,630.0 C217.7,630.8 219.3,632.5 220.0,633.0 C220.7,633.5 222.3,634.2 223.0,634.0 C223.7,633.8 225.3,631.7 226.0,631.0 C226.7,630.3 228.3,628.6 229.0,628.0 C229.7,627.4 231.3,625.8 232.0,626.0 C232.7,626.2 234.3,629.2 235.0,630.0 C235.7,630.8 237.3,633.0 238.0,633.0 C238.7,633.0 240.3,630.6 241.0,630.0 C241.7,629.4 243.3,627.9 244.0,628.0 C244.7,628.1 246.3,630.3 247.0,631.0 C247.7,631.7 249.3,633.4 250.0,634.0 C250.7,634.6 252.3,636.1 253.0,636.0 C253.7,635.9 255.3,633.9 256.0,633.0 C256.7,632.1 258.3,628.1 259.0,628.0 C259.7,627.9 261.4,632.2 262.0,632.0 C262.6,631.8 263.6,628.3 264.0,626.0 C264.4,623.7 265.5,613.6 265.7,612.0" stroke="#2020c4" stroke-width="1.35"/>
<path d="M73.3,615.0 C73.7,613.2 75.9,603.9 76.7,600.0 C77.5,596.1 79.3,585.3 80.0,582.0 C80.7,578.7 81.8,574.1 82.5,572.0 C83.2,569.9 85.0,565.0 85.8,564.0 C86.6,563.0 88.3,562.9 89.2,563.0 C90.1,563.1 92.4,564.5 93.3,565.0 C94.2,565.5 95.8,566.3 96.7,567.0 C97.6,567.7 99.8,570.9 100.8,571.0 C101.8,571.1 104.1,569.3 105.0,568.1 C105.9,566.9 107.4,561.8 108.3,560.8 C109.2,559.7 111.5,558.8 112.5,559.0 C113.5,559.1 115.8,560.7 116.7,562.3 C117.6,563.8 119.2,569.5 120.0,572.1 C120.8,574.8 122.5,582.2 123.3,585.0 C124.1,587.8 125.9,596.1 126.7,596.0 C127.5,595.9 129.2,587.5 130.0,584.4 C130.8,581.3 132.5,571.5 133.3,569.4 C134.1,567.3 135.8,566.8 136.7,566.0 C137.6,565.2 139.9,562.4 140.8,562.5 C141.7,562.7 143.3,565.6 144.2,567.5 C145.1,569.4 147.3,576.9 148.3,578.8 C149.3,580.6 151.5,583.4 152.5,583.5 C153.5,583.6 155.7,580.4 156.7,579.9 C157.7,579.3 159.8,578.7 160.8,579.1 C161.8,579.5 163.9,581.8 165.0,583.5 C166.1,585.2 169.4,590.7 170.3,594.0 C171.2,597.3 172.4,609.0 173.0,612.0 C173.6,615.0 174.9,620.5 175.5,620.0 C176.1,619.5 177.3,610.6 178.1,608.0 C178.9,605.4 181.1,599.4 182.0,598.0 C182.9,596.6 185.1,593.4 186.0,596.0 C186.9,598.6 189.2,617.0 190.0,620.0 C190.8,623.0 192.3,621.3 193.0,622.0 C193.7,622.7 195.3,625.1 196.0,626.0 C196.7,626.9 198.3,629.9 199.0,630.0 C199.7,630.1 201.3,627.7 202.0,627.0 C202.7,626.3 204.3,623.9 205.0,624.0 C205.7,624.1 207.3,627.1 208.0,628.0 C208.7,628.9 210.3,631.2 211.0,632.0 C211.7,632.8 213.3,634.9 214.0,635.0 C214.7,635.1 216.3,633.8 217.0,633.0 C217.7,632.2 219.3,628.9 220.0,628.0 C220.7,627.1 222.3,625.0 223.0,625.0 C223.7,625.0 225.3,627.1 226.0,628.0 C226.7,628.9 228.3,632.2 229.0,633.0 C229.7,633.8 231.3,635.1 232.0,635.0 C232.7,634.9 234.3,632.7 235.0,632.0 C235.7,631.3 237.3,629.0 238.0,629.0 C238.7,629.0 240.3,631.3 241.0,632.0 C241.7,632.7 243.3,634.9 244.0,635.0 C244.7,635.1 246.3,633.6 247.0,633.0 C247.7,632.4 249.3,630.0 250.0,630.0 C250.7,630.0 252.3,632.3 253.0,633.0 C253.7,633.7 255.3,635.9 256.0,636.0 C256.7,636.1 258.3,634.9 259.0,634.0 C259.7,633.1 261.4,629.4 262.0,628.0 C262.6,626.6 264.1,623.5 264.5,622.0 C264.9,620.5 265.6,615.8 265.7,615.0" stroke="#2020c4" stroke-width="1.35"/>
</g>
<rect x="72.6" y="551.0" width="193.1" height="86.70000000000005" fill="none" stroke="#1a1a1a" stroke-width="1.1"/>
<path d="M72.6,559.7h2.3M265.7,559.7h-2.3" stroke="#1a1a1a" stroke-width="1"/>
<path d="M72.6,568.3h2.3M265.7,568.3h-2.3" stroke="#1a1a1a" stroke-width="1"/>
<path d="M72.6,577.0h2.3M265.7,577.0h-2.3" stroke="#1a1a1a" stroke-width="1"/>
<path d="M72.6,585.7h2.3M265.7,585.7h-2.3" stroke="#1a1a1a" stroke-width="1"/>
<path d="M72.6,594.4h2.3M265.7,594.4h-2.3" stroke="#1a1a1a" stroke-width="1"/>
<path d="M72.6,603.0h2.3M265.7,603.0h-2.3" stroke="#1a1a1a" stroke-width="1"/>
<path d="M72.6,611.7h2.3M265.7,611.7h-2.3" stroke="#1a1a1a" stroke-width="1"/>
<path d="M72.6,620.4h2.3M265.7,620.4h-2.3" stroke="#1a1a1a" stroke-width="1"/>
<path d="M72.6,629.0h2.3M265.7,629.0h-2.3" stroke="#1a1a1a" stroke-width="1"/>
<path d="M96.7,637.7v-1.8M96.7,551.0v1.8" stroke="#1a1a1a" stroke-width="0.9"/>
<path d="M120.9,637.7v-1.8M120.9,551.0v1.8" stroke="#1a1a1a" stroke-width="0.9"/>
<path d="M145.0,637.7v-1.8M145.0,551.0v1.8" stroke="#1a1a1a" stroke-width="0.9"/>
<path d="M169.1,637.7v-1.8M169.1,551.0v1.8" stroke="#1a1a1a" stroke-width="0.9"/>
<path d="M193.3,637.7v-1.8M193.3,551.0v1.8" stroke="#1a1a1a" stroke-width="0.9"/>
<path d="M217.4,637.7v-1.8M217.4,551.0v1.8" stroke="#1a1a1a" stroke-width="0.9"/>
<path d="M241.6,637.7v-1.8M241.6,551.0v1.8" stroke="#1a1a1a" stroke-width="0.9"/>
<g font-family="Liberation Sans" font-size="4.6" font-weight="bold" fill="#222" text-anchor="end">
<text x="70.3" y="552.5">0.4</text>
<text x="70.3" y="561.2">0.3</text>
<text x="70.3" y="569.8">0.2</text>
<text x="70.3" y="578.5">0.1</text>
<text x="70.3" y="587.2">0</text>
<text x="70.3" y="595.9">-0.1</text>
<text x="70.3" y="604.5">-0.2</text>
<text x="70.3" y="613.2">-0.3</text>
<text x="70.3" y="621.9">-0.4</text>
<text x="70.3" y="630.5">-0.5</text>
<text x="70.3" y="639.2">-0.6</text>
</g>
<g font-family="Liberation Sans" font-size="4" fill="#555" text-anchor="middle">
<text x="72.6" y="642.3">0</text>
<text x="96.7" y="642.3">50</text>
<text x="120.9" y="642.3">100</text>
<text x="145.0" y="642.3">150</text>
<text x="169.1" y="642.3">200</text>
<text x="193.3" y="642.3">250</text>
<text x="217.4" y="642.3">300</text>
<text x="241.6" y="642.3">350</text>
<text x="265.7" y="642.3">400</text>
</g>
<clipPath id="cR4"><rect x="369.3" y="545.9" width="192.8" height="91.30000000000007"/></clipPath>
<g clip-path="url(#cR4)" fill="none" stroke-linejoin="round" stroke-linecap="round">
<path d="M370.2,626.7 C370.6,623.9 371.7,615.3 372.7,610.0 C373.7,604.7 374.9,599.7 376.0,595.0 C377.1,590.3 378.2,584.3 379.3,581.7 C380.4,579.1 381.3,579.8 382.7,579.2 C384.1,578.6 386.0,579.3 387.7,578.3 C389.4,577.3 391.0,576.1 392.7,573.3 C394.4,570.5 396.0,565.0 397.7,561.7 C399.4,558.4 401.0,555.4 402.7,553.3 C404.4,551.2 406.2,549.9 407.7,549.2 C409.2,548.5 410.4,548.0 411.8,549.2 C413.2,550.5 414.8,553.2 416.0,556.7 C417.2,560.2 418.2,564.5 419.3,570.0 C420.4,575.5 421.6,582.5 422.7,590.0 C423.8,597.5 424.9,608.3 426.0,615.0 C427.1,621.7 428.2,629.2 429.3,630.0 C430.4,630.8 431.6,622.8 432.7,620.0 C433.8,617.2 434.6,613.8 436.0,613.3 C437.4,612.8 439.3,616.4 441.0,616.7 C442.7,617.0 444.3,615.8 446.0,615.0 C447.7,614.2 449.3,612.5 451.0,611.7 C452.7,610.9 454.3,610.8 456.0,610.0 C457.7,609.2 459.8,606.4 461.0,606.7 C462.2,607.0 461.5,610.7 463.0,611.8 C464.5,612.9 467.4,614.1 470.0,613.5 C472.6,612.9 476.8,608.0 478.8,608.3 C480.9,608.6 480.6,614.4 482.3,615.3 C484.1,616.2 487.3,614.1 489.3,613.5 C491.3,612.9 492.8,611.2 494.5,611.8 C496.2,612.4 498.1,615.0 499.8,617.0 C501.6,619.0 503.2,623.7 505.0,624.0 C506.8,624.3 508.6,620.5 510.3,618.8 C512.0,617.0 514.0,612.9 515.5,613.5 C517.0,614.1 517.5,621.4 519.0,622.3 C520.5,623.2 522.2,619.1 524.3,618.8 C526.3,618.5 529.0,619.3 531.3,620.5 C533.6,621.7 536.0,624.9 538.3,625.8 C540.6,626.7 543.3,626.1 545.3,625.8 C547.3,625.5 549.0,626.0 550.5,624.0 C552.0,622.0 552.8,617.9 554.0,613.5 C555.2,609.1 556.3,601.9 557.5,597.8 C558.7,593.7 560.4,590.5 561.0,589.0" stroke="#d81e24" stroke-width="1.35"/>
<path d="M370.2,628.0 C370.7,625.3 372.0,617.3 373.0,612.0 C374.0,606.7 375.0,600.3 376.0,596.0 C377.0,591.7 377.8,587.5 379.0,586.0 C380.2,584.5 381.8,586.8 383.0,587.0 C384.2,587.2 384.8,586.8 386.0,587.0 C387.2,587.2 388.8,590.0 390.0,588.0 C391.2,586.0 392.0,577.5 393.0,575.0 C394.0,572.5 395.0,574.2 396.0,573.0 C397.0,571.8 397.8,568.3 399.0,568.0 C400.2,567.7 401.7,570.2 403.0,571.0 C404.3,571.8 405.8,574.0 407.0,573.0 C408.2,572.0 409.0,567.2 410.0,565.0 C411.0,562.8 412.0,562.0 413.0,560.0 C414.0,558.0 415.2,554.5 416.0,553.0 C416.8,551.5 417.2,550.4 418.0,551.0 C418.8,551.6 419.9,553.5 421.0,556.7 C422.1,559.9 423.2,565.0 424.3,570.0 C425.4,575.0 426.7,581.2 427.7,586.7 C428.7,592.2 429.4,598.6 430.2,603.3 C431.0,608.0 431.7,611.7 432.7,615.0 C433.7,618.3 434.9,621.9 436.0,623.3 C437.1,624.7 437.9,624.4 439.3,623.3 C440.7,622.2 442.6,618.1 444.3,616.7 C446.0,615.3 447.6,615.6 449.3,615.0 C451.0,614.4 452.6,613.3 454.3,613.3 C456.0,613.3 457.9,613.5 459.3,615.0 C460.8,616.5 461.2,620.8 463.0,622.3 C464.8,623.8 467.7,622.5 470.0,624.0 C472.3,625.5 474.9,630.1 477.0,631.0 C479.1,631.9 480.6,630.8 482.3,629.3 C484.1,627.8 485.8,623.5 487.5,622.3 C489.2,621.1 491.1,621.4 492.8,622.3 C494.6,623.2 496.0,626.0 498.0,627.5 C500.0,629.0 502.9,631.0 505.0,631.0 C507.1,631.0 508.2,628.1 510.3,627.5 C512.4,626.9 515.0,627.2 517.3,627.5 C519.6,627.8 521.7,629.3 524.3,629.3 C526.9,629.3 530.1,627.5 533.0,627.5 C535.9,627.5 539.2,629.3 541.8,629.3 C544.4,629.3 546.8,628.7 548.8,627.5 C550.8,626.3 552.2,624.3 554.0,622.3 C555.8,620.3 558.0,617.3 559.3,615.3 C560.5,613.2 561.1,610.9 561.5,610.0" stroke="#e2262a" stroke-width="1.35"/>
<path d="M370.2,623.3 C370.9,620.5 373.1,612.8 374.3,606.7 C375.6,600.6 376.6,591.2 377.7,586.7 C378.8,582.2 379.9,580.8 381.0,580.0 C382.1,579.2 382.9,582.8 384.3,581.7 C385.7,580.6 387.6,576.8 389.3,573.3 C391.0,569.8 392.9,561.6 394.3,560.8 C395.7,560.0 396.6,566.9 397.7,568.3 C398.8,569.7 399.6,568.5 401.0,569.2 C402.4,569.9 404.3,571.2 406.0,572.5 C407.7,573.8 409.3,575.7 411.0,576.7 C412.7,577.7 414.3,577.9 416.0,578.3 C417.7,578.7 419.3,579.2 421.0,579.2 C422.7,579.2 424.6,579.0 426.0,578.3 C427.4,577.6 427.9,575.4 429.3,575.0 C430.7,574.6 432.6,575.0 434.3,575.8 C436.0,576.6 437.9,580.0 439.3,580.0 C440.7,580.0 441.6,576.1 442.7,575.8 C443.8,575.5 444.9,576.2 446.0,578.3 C447.1,580.4 448.2,584.7 449.3,588.3 C450.4,591.9 451.6,595.8 452.7,600.0 C453.8,604.2 454.9,608.8 456.0,613.3 C457.1,617.8 458.2,623.6 459.3,626.7 C460.4,629.8 461.6,632.0 462.7,631.7 C463.8,631.4 464.8,627.2 466.0,625.0 C467.2,622.8 468.5,618.3 470.0,618.3 C471.5,618.3 473.5,622.9 475.0,625.0 C476.5,627.1 477.5,630.6 479.0,631.0 C480.5,631.4 482.3,629.2 484.0,627.5 C485.7,625.8 487.6,622.8 489.3,620.5 C491.1,618.2 492.8,613.8 494.5,613.5 C496.2,613.2 498.1,616.5 499.8,618.8 C501.6,621.1 503.2,627.2 505.0,627.5 C506.8,627.8 508.6,621.7 510.3,620.5 C512.0,619.3 513.5,620.8 515.5,620.5 C517.5,620.2 520.2,618.5 522.5,618.8 C524.8,619.1 527.2,621.4 529.5,622.3 C531.8,623.2 534.2,623.1 536.5,624.0 C538.8,624.9 541.2,627.2 543.5,627.5 C545.8,627.8 548.5,627.5 550.5,625.8 C552.5,624.0 554.3,619.6 555.8,617.0 C557.3,614.4 558.3,611.8 559.3,610.0 C560.2,608.2 561.1,607.1 561.5,606.5" stroke="#c41e2c" stroke-width="1.35"/>
<path d="M370.2,632.0 C371.0,632.2 373.7,634.5 375.0,633.0 C376.3,631.5 377.2,625.2 378.0,623.0 C378.8,620.8 379.0,621.3 380.0,620.0 C381.0,618.7 382.8,617.8 384.0,615.0 C385.2,612.2 386.0,606.7 387.0,603.0 C388.0,599.3 389.0,595.3 390.0,593.0 C391.0,590.7 392.0,590.3 393.0,589.0 C394.0,587.7 395.2,585.8 396.0,585.0 C396.8,584.2 397.0,583.7 398.0,584.0 C399.0,584.3 400.7,586.3 402.0,587.0 C403.3,587.7 404.5,587.3 406.0,588.0 C407.5,588.7 409.7,591.2 411.0,591.0 C412.3,590.8 413.0,588.5 414.0,587.0 C415.0,585.5 416.1,583.2 417.0,582.0 C417.9,580.8 418.4,579.8 419.3,580.0 C420.2,580.2 421.4,579.4 422.7,583.3 C423.9,587.2 425.4,598.0 426.8,603.3 C428.2,608.6 429.8,611.7 431.0,615.0 C432.2,618.3 433.2,621.6 434.3,623.3 C435.4,625.0 436.3,625.3 437.7,625.0 C439.1,624.7 441.0,622.8 442.7,621.7 C444.4,620.6 446.0,619.4 447.7,618.3 C449.4,617.2 450.8,615.8 452.7,615.0 C454.6,614.2 457.6,612.7 459.3,613.3 C461.0,613.9 460.9,618.5 463.0,618.8 C465.1,619.1 468.9,615.6 471.8,615.3 C474.7,615.0 477.6,615.8 480.5,617.0 C483.4,618.2 486.4,621.1 489.3,622.3 C492.2,623.5 495.1,624.0 498.0,624.0 C500.9,624.0 503.9,622.0 506.8,622.3 C509.7,622.6 512.6,625.8 515.5,625.8 C518.4,625.8 521.4,622.3 524.3,622.3 C527.2,622.3 530.1,624.9 533.0,625.8 C535.9,626.7 538.9,627.5 541.8,627.5 C544.7,627.5 548.2,627.0 550.5,625.8 C552.8,624.6 554.0,622.5 555.8,620.5 C557.6,618.5 560.3,614.7 561.2,613.5" stroke="#cc1c26" stroke-width="1.35"/>
</g>
<rect x="369.3" y="545.9" width="192.8" height="91.30000000000007" fill="none" stroke="#1a1a1a" stroke-width="1.1"/>
<path d="M369.3,556.0h2.3M562.1,556.0h-2.3" stroke="#1a1a1a" stroke-width="1"/>
<path d="M369.3,566.2h2.3M562.1,566.2h-2.3" stroke="#1a1a1a" stroke-width="1"/>
<path d="M369.3,576.3h2.3M562.1,576.3h-2.3" stroke="#1a1a1a" stroke-width="1"/>
<path d="M369.3,586.5h2.3M562.1,586.5h-2.3" stroke="#1a1a1a" stroke-width="1"/>
<path d="M369.3,596.6h2.3M562.1,596.6h-2.3" stroke="#1a1a1a" stroke-width="1"/>
<path d="M369.3,606.8h2.3M562.1,606.8h-2.3" stroke="#1a1a1a" stroke-width="1"/>
<path d="M369.3,616.9h2.3M562.1,616.9h-2.3" stroke="#1a1a1a" stroke-width="1"/>
<path d="M369.3,627.1h2.3M562.1,627.1h-2.3" stroke="#1a1a1a" stroke-width="1"/>
<path d="M393.4,637.2v-1.8M393.4,545.9v1.8" stroke="#1a1a1a" stroke-width="0.9"/>
<path d="M417.5,637.2v-1.8M417.5,545.9v1.8" stroke="#1a1a1a" stroke-width="0.9"/>
<path d="M441.6,637.2v-1.8M441.6,545.9v1.8" stroke="#1a1a1a" stroke-width="0.9"/>
<path d="M465.7,637.2v-1.8M465.7,545.9v1.8" stroke="#1a1a1a" stroke-width="0.9"/>
<path d="M489.8,637.2v-1.8M489.8,545.9v1.8" stroke="#1a1a1a" stroke-width="0.9"/>
<path d="M513.9,637.2v-1.8M513.9,545.9v1.8" stroke="#1a1a1a" stroke-width="0.9"/>
<path d="M538.0,637.2v-1.8M538.0,545.9v1.8" stroke="#1a1a1a" stroke-width="0.9"/>
<g font-family="Liberation Sans" font-size="4.6" font-weight="bold" fill="#222" text-anchor="end">
<text x="367.0" y="547.4">0.4</text>
<text x="367.0" y="557.5">0.3</text>
<text x="367.0" y="567.7">0.2</text>
<text x="367.0" y="577.8">0.1</text>
<text x="367.0" y="588.0">0</text>
<text x="367.0" y="598.1">-0.1</text>
<text x="367.0" y="608.3">-0.2</text>
<text x="367.0" y="618.4">-0.3</text>
<text x="367.0" y="628.6">-0.4</text>
<text x="367.0" y="638.7">-0.5</text>
</g>
<g font-family="Liberation Sans" font-size="4" fill="#555" text-anchor="middle">
<text x="369.3" y="641.8">0</text>
<text x="393.4" y="641.8">50</text>
<text x="417.5" y="641.8">100</text>
<text x="441.6" y="641.8">150</text>
<text x="465.7" y="641.8">200</text>
<text x="489.8" y="641.8">250</text>
<text x="513.9" y="641.8">300</text>
<text x="538.0" y="641.8">350</text>
<text x="562.1" y="641.8">400</text>
</g>
<text x="25.4" y="558.6" font-family="Liberation Serif" font-size="24" fill="#111" stroke="#111" stroke-width="0.25" letter-spacing="0.35"><tspan font-style="italic">v</tspan><tspan>(</tspan><tspan font-style="italic">t</tspan>)</text>
<text x="320" y="558.6" font-family="Liberation Serif" font-size="24" fill="#111" stroke="#111" stroke-width="0.25" letter-spacing="0.35"><tspan font-style="italic">v</tspan><tspan>(</tspan><tspan font-style="italic">t</tspan>)</text>
<text x="278.0" y="637.7" font-family="Liberation Serif" font-style="italic" font-size="24" fill="#111" stroke="#111" stroke-width="0.3">t</text>
<text x="575.2" y="639.5" font-family="Liberation Serif" font-style="italic" font-size="24" fill="#111" stroke="#111" stroke-width="0.3">t</text>
<clipPath id="cL5"><rect x="72.6" y="659.0" width="193.1" height="88.70000000000005"/></clipPath>
<g clip-path="url(#cL5)" fill="none" stroke-linejoin="round" stroke-linecap="round">
<path d="M72.6,708.3 L73.3,718.3 L75.0,728.3 L78.3,735.0 L83.3,740.0 L88.3,743.3 L90.8,745.8 L91.7,670.0 L93.3,669.2 L96.7,673.3 L101.7,681.7 L106.7,690.0 L111.7,695.0 L116.7,700.0 L120.8,705.0 L124.2,713.3 L126.7,721.7 L130.0,730.0 L135.0,738.3 L139.2,745.0 L140.0,670.0 L141.7,670.0 L143.3,669.2 L146.7,673.3 L151.7,681.7 L156.7,690.0 L161.7,696.7 L165.0,698.8 L170.3,705.8 L173.8,721.5 L177.3,733.8 L182.5,742.5 L184.3,746.0 L185.1,669.0 L187.8,670.8 L193.0,683.0 L198.3,697.0 L202.6,704.0 L204.4,733.8 L208.8,742.5 L212.3,746.0 L213.1,670.8 L217.5,681.3 L221.0,698.8 L224.5,728.5 L229.8,740.8 L235.0,744.3 L235.9,674.3 L240.3,672.5 L243.8,690.0 L247.3,707.5 L249.0,739.0 L252.5,744.3 L253.4,672.5 L256.0,690.0 L259.5,707.5 L261.3,742.5 L262.1,670.8 L265.7,670.8" stroke="#2020c4" stroke-width="1.35"/>
<path d="M72.6,712.0 L74.0,722.0 L76.0,731.0 L80.0,737.0 L85.0,741.0 L89.0,744.0 L91.3,746.0 L92.2,671.0 L94.0,671.0 L98.0,676.0 L103.0,684.0 L108.0,692.0 L113.0,697.0 L118.0,702.0 L122.0,708.0 L125.0,716.0 L128.0,725.0 L132.0,733.0 L137.0,741.0 L140.5,746.0 L141.2,671.0 L144.5,670.0 L148.0,676.0 L153.0,684.0 L158.0,692.0 L162.0,698.0 L165.0,700.5 L172.0,707.5 L175.5,725.0 L180.8,739.0 L186.0,746.0 L186.9,672.5 L191.3,672.5 L194.8,690.0 L200.0,698.8 L207.0,702.3 L210.5,707.5 L212.3,716.3 L214.0,672.5 L219.3,690.0 L222.8,695.3 L226.3,697.0 L228.0,737.3 L231.5,742.5 L234.1,677.8 L238.5,676.0 L242.0,697.0 L247.3,698.8 L250.8,697.0 L252.5,672.5 L256.0,695.3 L260.4,695.3 L261.3,672.5 L265.7,670.8" stroke="#2020c4" stroke-width="1.35"/>
<path d="M90.5,746.0 L90.8,700.0 L91.2,746.0" stroke="#2020c4" stroke-width="0.9"/>
<path d="M139.5,746.0 L139.8,700.0 L140.3,746.0" stroke="#2020c4" stroke-width="0.9"/>
<path d="M144.5,746.0 L145.0,671.0 L145.5,745.0" stroke="#2020c4" stroke-width="0.9"/>
<path d="M191.3,744.0 L192.1,672.5 L197.0,690.0 L205.0,720.0 L210.0,740.0 L215.0,745.0" stroke="#2020c4" stroke-width="0.9"/>
<path d="M220.5,745.0 L221.0,672.5 L225.0,740.0" stroke="#2020c4" stroke-width="0.9"/>
<path d="M239.8,745.0 L240.3,670.8 L242.0,742.5" stroke="#2020c4" stroke-width="0.9"/>
<path d="M251.0,744.0 L251.8,672.0 L254.0,700.0 L256.5,744.0" stroke="#2020c4" stroke-width="0.9"/>
<path d="M257.3,744.0 L257.3,675.0 L259.0,700.0 L263.5,744.0 L264.5,672.0" stroke="#2020c4" stroke-width="0.9"/>
<path d="M141.2,745.0 C141.2,737.7 141.5,679.4 141.7,672.0 C141.9,664.6 143.0,670.6 143.5,671.0 C144.0,671.4 146.2,674.6 147.0,676.0 C147.8,677.4 151.0,683.3 152.0,685.0 C153.0,686.7 156.0,691.6 157.0,693.0 C158.0,694.4 161.2,698.0 162.0,699.0 C162.8,700.0 164.4,701.9 165.0,703.0 C165.6,704.1 167.5,708.7 168.0,710.0 C168.5,711.3 169.6,714.2 170.0,716.0 C170.4,717.8 171.6,725.9 172.0,728.0 C172.4,730.1 173.5,735.5 174.0,737.0 C174.5,738.5 176.4,742.1 177.0,743.0 C177.6,743.9 179.7,745.2 180.0,745.5" stroke="#2020c4" stroke-width="1.35"/>
<path d="M142.5,745.0 C142.6,737.6 142.8,678.4 143.0,671.0 C143.2,663.6 144.4,670.3 145.0,671.0 C145.6,671.7 147.7,676.3 148.5,678.0 C149.3,679.7 152.1,686.2 153.0,688.0 C153.9,689.8 157.1,694.7 158.0,696.0 C158.9,697.3 161.2,700.0 162.0,701.0 C162.8,702.0 164.8,704.7 165.5,706.0 C166.2,707.3 168.0,712.4 168.5,714.0 C169.0,715.6 170.1,720.2 170.5,722.0 C170.9,723.8 172.1,730.2 172.5,732.0 C172.9,733.8 174.4,738.8 175.0,740.0 C175.6,741.2 177.4,743.9 178.0,744.5 C178.6,745.1 180.7,745.9 181.0,746.0" stroke="#2020c4" stroke-width="1.35"/>
<path d="M92.5,746.0 C92.5,738.5 92.8,678.4 93.0,671.0 C93.2,663.6 94.4,671.3 95.0,672.0 C95.6,672.7 98.1,676.6 99.0,678.0 C99.9,679.4 103.0,684.6 104.0,686.0 C105.0,687.4 108.0,690.9 109.0,692.0 C110.0,693.1 113.0,696.0 114.0,697.0 C115.0,698.0 118.1,700.8 119.0,702.0 C119.9,703.2 122.2,707.4 123.0,709.0 C123.8,710.6 126.3,716.3 127.0,718.0 C127.7,719.7 129.3,724.4 130.0,726.0 C130.7,727.6 133.2,732.4 134.0,734.0 C134.8,735.6 137.4,740.8 138.0,742.0 C138.6,743.2 139.8,745.6 140.0,746.0" stroke="#2020c4" stroke-width="1.35"/>
<path d="M73.0,710.0 C73.1,711.2 73.7,720.0 74.0,722.0 C74.3,724.0 75.4,728.6 76.0,730.0 C76.6,731.4 79.1,735.0 80.0,736.0 C80.9,737.0 84.0,739.7 85.0,740.5 C86.0,741.3 89.5,743.6 90.0,744.0" stroke="#2020c4" stroke-width="1.35"/>
</g>
<rect x="72.6" y="659.0" width="193.1" height="88.70000000000005" fill="none" stroke="#1a1a1a" stroke-width="1.1"/>
<path d="M72.6,671.7h2.3M265.7,671.7h-2.3" stroke="#1a1a1a" stroke-width="1"/>
<path d="M72.6,684.3h2.3M265.7,684.3h-2.3" stroke="#1a1a1a" stroke-width="1"/>
<path d="M72.6,697.0h2.3M265.7,697.0h-2.3" stroke="#1a1a1a" stroke-width="1"/>
<path d="M72.6,709.7h2.3M265.7,709.7h-2.3" stroke="#1a1a1a" stroke-width="1"/>
<path d="M72.6,722.4h2.3M265.7,722.4h-2.3" stroke="#1a1a1a" stroke-width="1"/>
<path d="M72.6,735.0h2.3M265.7,735.0h-2.3" stroke="#1a1a1a" stroke-width="1"/>
<path d="M96.7,747.7v-1.8M96.7,659.0v1.8" stroke="#1a1a1a" stroke-width="0.9"/>
<path d="M120.9,747.7v-1.8M120.9,659.0v1.8" stroke="#1a1a1a" stroke-width="0.9"/>
<path d="M145.0,747.7v-1.8M145.0,659.0v1.8" stroke="#1a1a1a" stroke-width="0.9"/>
<path d="M169.1,747.7v-1.8M169.1,659.0v1.8" stroke="#1a1a1a" stroke-width="0.9"/>
<path d="M193.3,747.7v-1.8M193.3,659.0v1.8" stroke="#1a1a1a" stroke-width="0.9"/>
<path d="M217.4,747.7v-1.8M217.4,659.0v1.8" stroke="#1a1a1a" stroke-width="0.9"/>
<path d="M241.6,747.7v-1.8M241.6,659.0v1.8" stroke="#1a1a1a" stroke-width="0.9"/>
<g font-family="Liberation Sans" font-size="4.6" font-weight="bold" fill="#222" text-anchor="end">
<text x="70.3" y="660.5">0.4</text>
<text x="70.3" y="673.2">0.3</text>
<text x="70.3" y="685.8">0.2</text>
<text x="70.3" y="698.5">0.1</text>
<text x="70.3" y="711.2">0</text>
<text x="70.3" y="723.9">-0.1</text>
<text x="70.3" y="736.5">-0.2</text>
<text x="70.3" y="749.2">-0.3</text>
</g>
<g font-family="Liberation Sans" font-size="4" fill="#555" text-anchor="middle">
<text x="72.6" y="752.3">0</text>
<text x="96.7" y="752.3">50</text>
<text x="120.9" y="752.3">100</text>
<text x="145.0" y="752.3">150</text>
<text x="169.1" y="752.3">200</text>
<text x="193.3" y="752.3">250</text>
<text x="217.4" y="752.3">300</text>
<text x="241.6" y="752.3">350</text>
<text x="265.7" y="752.3">400</text>
</g>
<clipPath id="cR5"><rect x="370.7" y="657.9" width="190.50000000000006" height="90.80000000000007"/></clipPath>
<g clip-path="url(#cR5)" fill="none" stroke-linejoin="round" stroke-linecap="round">
<path d="M371.8,700.3 L372.7,715.3 L374.3,727.0 L377.7,733.7 L382.7,737.8 L387.7,742.0 L389.0,745.0 L389.3,667.8 L391.0,668.7 L394.3,673.7 L397.7,680.3 L402.7,685.3 L407.7,687.8 L414.3,692.0 L421.0,696.2 L426.0,702.0 L429.3,710.3 L431.0,722.0 L432.7,732.0 L437.7,737.0 L442.7,742.0 L446.0,747.0 L446.8,670.3 L449.3,670.3 L454.3,677.0 L459.3,683.7 L463.0,687.0 L472.0,697.0 L480.5,704.0 L484.0,712.0 L487.0,722.0 L489.0,730.0 L493.0,738.0 L498.0,745.0 L500.0,747.0" stroke="#cc1c26" stroke-width="1.35"/>
<path d="M371.0,723.7 L374.3,732.0 L379.3,737.0 L386.0,740.3 L392.7,742.8 L395.2,744.5 L396.0,672.0 L399.3,668.7 L404.3,678.7 L409.3,685.3 L416.0,690.3 L422.7,695.3 L427.7,702.0 L431.0,712.0 L436.0,720.3 L439.3,728.7 L444.3,737.0 L447.7,742.0 L452.7,745.3 L457.7,747.0 L461.0,748.7 L461.8,670.3 L464.3,670.3 L466.0,672.0 L472.0,680.0 L480.0,690.0 L484.0,695.0 L485.0,745.0 L486.5,745.0 L487.3,671.0 L490.0,671.0 L492.5,680.0 L497.0,687.0 L498.0,745.0 L499.5,745.0 L500.3,672.0 L504.0,672.0 L506.0,685.0 L509.0,690.0 L510.0,745.0" stroke="#e2262a" stroke-width="1.35"/>
<path d="M371.0,728.7 L376.0,735.3 L382.7,740.3 L391.0,745.3 L399.3,747.8 L407.7,748.7 L408.5,668.7 L411.0,670.3 L414.3,678.7 L419.3,682.0 L426.0,685.3 L432.7,687.8 L441.0,690.3 L447.7,692.0 L452.7,695.3 L457.7,702.0 L461.0,713.7 L462.7,722.0 L466.0,728.7 L472.0,743.0 L478.0,746.5 L481.0,746.5 L482.0,672.0 L485.0,675.0 L487.0,680.0 L490.0,685.0 L493.0,686.0 L495.0,745.0 L498.0,745.0 L498.5,690.0 L502.0,687.0 L506.0,688.0 L509.0,686.0 L510.0,746.0 L512.0,746.0 L512.5,690.0 L516.0,688.0 L518.0,700.0 L520.0,745.0" stroke="#c41e2c" stroke-width="1.35"/>
<path d="M371.0,732.0 L376.0,737.0 L382.7,738.7 L389.3,740.3 L393.5,745.3 L394.3,670.3 L397.7,672.0 L401.0,680.3 L407.7,687.0 L414.3,692.0 L419.3,694.5 L424.3,698.7 L427.7,707.0 L429.3,718.7 L431.0,728.7 L434.3,735.3 L439.3,740.3 L444.3,745.3 L447.7,747.8 L448.5,670.3 L452.7,673.7 L457.7,678.7 L461.8,680.3 L466.0,685.0 L472.0,692.0 L478.0,704.0 L482.0,720.0 L484.0,735.0 L486.0,740.0 L490.0,745.0 L495.0,747.0" stroke="#d81e24" stroke-width="1.35"/>
<path d="M484.3,672.0 C485.1,672.5 487.6,675.4 489.3,675.3 C491.0,675.2 492.6,669.9 494.3,671.3 C496.0,672.7 497.4,681.4 499.3,683.7 C501.2,686.0 503.8,685.3 506.0,685.3 C508.2,685.3 510.8,685.9 512.7,683.7 C514.7,681.5 516.0,674.1 517.7,672.0 C519.4,669.9 520.8,670.8 522.7,671.3 C524.6,671.8 527.4,675.2 529.3,675.3 C531.2,675.4 532.6,670.6 534.3,672.0 C536.0,673.4 537.3,682.3 539.3,683.7 C541.2,685.1 543.8,682.5 546.0,680.3 C548.2,678.1 550.5,672.1 552.7,670.3 C554.9,668.5 557.9,669.3 559.3,669.3 C560.7,669.2 560.9,669.9 561.2,670.0" stroke="#d81e24" stroke-width="1.35"/>
<path d="M484.3,678.7 C485.7,679.8 490.2,683.9 492.7,685.3 C495.2,686.7 496.5,686.4 499.3,687.0 C502.1,687.6 506.0,689.8 509.3,688.7 C512.6,687.6 516.5,680.9 519.3,680.3 C522.1,679.7 523.8,684.7 526.0,685.3 C528.2,685.9 529.9,683.4 532.7,683.7 C535.5,684.0 539.4,687.8 542.7,687.0 C546.0,686.2 549.9,680.9 552.7,678.7 C555.5,676.5 557.9,674.7 559.3,673.7 C560.7,672.8 560.9,673.1 561.2,673.0" stroke="#c41e2c" stroke-width="1.35"/>
<path d="M484.3,747.5 L484.8,672.0" stroke="#d81e24" stroke-width="1.2"/>
<path d="M486.7,746.3 L487.2,672.0" stroke="#e2262a" stroke-width="1.2"/>
<path d="M492.7,745.1 L493.2,671.3" stroke="#c41e2c" stroke-width="1.2"/>
<path d="M497.7,747.5 L498.2,683.7" stroke="#d81e24" stroke-width="1.2"/>
<path d="M501.0,746.3 L501.5,685.3" stroke="#e2262a" stroke-width="1.2"/>
<path d="M504.3,745.1 L504.8,685.0" stroke="#c41e2c" stroke-width="1.2"/>
<path d="M512.7,747.5 L513.2,683.7" stroke="#d81e24" stroke-width="1.2"/>
<path d="M517.7,746.3 L518.2,672.0" stroke="#e2262a" stroke-width="1.2"/>
<path d="M520.0,745.1 L520.5,672.0" stroke="#c41e2c" stroke-width="1.2"/>
<path d="M522.7,747.5 L523.2,671.3" stroke="#d81e24" stroke-width="1.2"/>
<path d="M532.7,746.3 L533.2,672.0" stroke="#e2262a" stroke-width="1.2"/>
<path d="M536.0,745.1 L536.5,680.0" stroke="#c41e2c" stroke-width="1.2"/>
<path d="M539.3,747.5 L539.8,683.7" stroke="#d81e24" stroke-width="1.2"/>
<path d="M547.7,746.3 L548.2,680.3" stroke="#e2262a" stroke-width="1.2"/>
<path d="M551.0,745.1 L551.5,670.3" stroke="#c41e2c" stroke-width="1.2"/>
<path d="M556.0,747.5 L556.5,669.3" stroke="#d81e24" stroke-width="1.2"/>
<path d="M558.3,746.3 L558.8,670.0" stroke="#e2262a" stroke-width="1.2"/>
</g>
<rect x="370.7" y="657.9" width="190.50000000000006" height="90.80000000000007" fill="none" stroke="#1a1a1a" stroke-width="1.1"/>
<path d="M370.7,670.9h2.3M561.2,670.9h-2.3" stroke="#1a1a1a" stroke-width="1"/>
<path d="M370.7,683.8h2.3M561.2,683.8h-2.3" stroke="#1a1a1a" stroke-width="1"/>
<path d="M370.7,696.8h2.3M561.2,696.8h-2.3" stroke="#1a1a1a" stroke-width="1"/>
<path d="M370.7,709.8h2.3M561.2,709.8h-2.3" stroke="#1a1a1a" stroke-width="1"/>
<path d="M370.7,722.8h2.3M561.2,722.8h-2.3" stroke="#1a1a1a" stroke-width="1"/>
<path d="M370.7,735.7h2.3M561.2,735.7h-2.3" stroke="#1a1a1a" stroke-width="1"/>
<path d="M394.5,748.7v-1.8M394.5,657.9v1.8" stroke="#1a1a1a" stroke-width="0.9"/>
<path d="M418.3,748.7v-1.8M418.3,657.9v1.8" stroke="#1a1a1a" stroke-width="0.9"/>
<path d="M442.1,748.7v-1.8M442.1,657.9v1.8" stroke="#1a1a1a" stroke-width="0.9"/>
<path d="M466.0,748.7v-1.8M466.0,657.9v1.8" stroke="#1a1a1a" stroke-width="0.9"/>
<path d="M489.8,748.7v-1.8M489.8,657.9v1.8" stroke="#1a1a1a" stroke-width="0.9"/>
<path d="M513.6,748.7v-1.8M513.6,657.9v1.8" stroke="#1a1a1a" stroke-width="0.9"/>
<path d="M537.4,748.7v-1.8M537.4,657.9v1.8" stroke="#1a1a1a" stroke-width="0.9"/>
<g font-family="Liberation Sans" font-size="4.6" font-weight="bold" fill="#222" text-anchor="end">
<text x="368.4" y="659.4">0.4</text>
<text x="368.4" y="672.4">0.3</text>
<text x="368.4" y="685.3">0.2</text>
<text x="368.4" y="698.3">0.1</text>
<text x="368.4" y="711.3">0</text>
<text x="368.4" y="724.3">-0.1</text>
<text x="368.4" y="737.2">-0.2</text>
<text x="368.4" y="750.2">-0.3</text>
</g>
<g font-family="Liberation Sans" font-size="4" fill="#555" text-anchor="middle">
<text x="370.7" y="753.3">0</text>
<text x="394.5" y="753.3">50</text>
<text x="418.3" y="753.3">100</text>
<text x="442.1" y="753.3">150</text>
<text x="466.0" y="753.3">200</text>
<text x="489.8" y="753.3">250</text>
<text x="513.6" y="753.3">300</text>
<text x="537.4" y="753.3">350</text>
<text x="561.2" y="753.3">400</text>
</g>
<text x="27.1" y="669.3" font-family="Liberation Serif" font-size="24" fill="#111" stroke="#111" stroke-width="0.25" letter-spacing="0.5"><tspan font-style="italic">θ</tspan><tspan dx="-3.2">(</tspan><tspan font-style="italic">t</tspan>)</text>
<text x="323.8" y="667.6" font-family="Liberation Serif" font-size="24" fill="#111" stroke="#111" stroke-width="0.25" letter-spacing="0.5"><tspan font-style="italic">θ</tspan><tspan dx="-3.2">(</tspan><tspan font-style="italic">t</tspan>)</text>
<text x="277.0" y="747.4" font-family="Liberation Serif" font-style="italic" font-size="24" fill="#111" stroke="#111" stroke-width="0.3">t</text>
<text x="575.4" y="750.4" font-family="Liberation Serif" font-style="italic" font-size="24" fill="#111" stroke="#111" stroke-width="0.3">t</text>
<clipPath id="cL6"><rect x="71.6" y="768.8" width="194.1" height="88.70000000000005"/></clipPath>
<g clip-path="url(#cL6)" fill="none" stroke-linejoin="round" stroke-linecap="round">
<path d="M71.6,843.3 C72.0,845.0 73.1,852.5 74.2,853.3 C75.3,854.1 77.0,848.3 78.3,848.3 C79.5,848.3 80.3,852.7 81.7,853.3 C83.1,853.9 84.5,852.0 86.7,851.7 C88.9,851.4 92.9,852.8 95.0,851.7 C97.1,850.6 97.8,847.8 99.2,845.0 C100.6,842.2 102.2,836.8 103.3,835.0 C104.4,833.2 104.8,833.4 105.8,834.2 C106.8,835.0 108.0,837.4 109.2,840.0 C110.5,842.6 112.0,849.5 113.3,850.0 C114.5,850.5 115.6,846.3 116.7,843.3 C117.8,840.2 118.8,835.3 120.0,831.7 C121.2,828.1 122.8,823.9 124.2,821.7 C125.6,819.5 126.8,818.3 128.3,818.3 C129.8,818.3 131.6,820.0 133.3,821.7 C135.0,823.4 136.6,826.4 138.3,828.3 C140.0,830.2 141.6,832.5 143.3,833.3 C145.0,834.1 146.6,833.6 148.3,833.3 C150.0,833.0 151.6,831.7 153.3,831.7 C155.0,831.7 156.6,832.8 158.3,833.3 C160.0,833.8 161.9,835.3 163.3,835.0 C164.7,834.7 165.5,832.4 166.7,831.7 C167.9,831.0 169.1,830.5 170.3,830.6 C171.5,830.7 172.4,831.1 173.8,832.4 C175.2,833.7 177.1,836.6 179.0,838.5 C180.9,840.4 183.2,844.4 185.1,843.8 C187.0,843.2 188.5,837.2 190.4,835.0 C192.3,832.8 194.3,831.3 196.5,830.6 C198.7,829.9 201.2,830.8 203.5,830.6 C205.8,830.4 208.2,830.1 210.5,829.4 C212.8,828.7 215.2,827.1 217.5,826.3 C219.8,825.5 222.2,825.3 224.5,824.5 C226.8,823.7 229.2,822.7 231.5,821.5 C233.8,820.3 236.2,819.2 238.5,817.5 C240.8,815.8 243.4,813.5 245.5,811.5 C247.6,809.5 249.2,807.2 251.0,805.5 C252.8,803.8 254.5,802.6 256.0,801.0 C257.5,799.4 258.8,798.0 260.0,796.0 C261.2,794.0 262.1,791.2 263.0,789.0 C263.9,786.8 265.2,784.0 265.7,783.0" stroke="#2020c4" stroke-width="1.35"/>
<path d="M71.6,855.0 C72.3,855.2 74.6,856.0 76.0,856.0 C77.4,856.0 78.2,855.2 80.0,855.0 C81.8,854.8 84.2,855.0 86.7,855.0 C89.2,855.0 92.9,856.2 95.0,855.0 C97.1,853.8 97.8,850.5 99.2,848.0 C100.6,845.5 102.2,841.5 103.3,840.0 C104.4,838.5 105.0,838.5 106.0,839.0 C107.0,839.5 108.0,841.0 109.2,843.0 C110.4,845.0 112.0,850.5 113.3,851.0 C114.5,851.5 115.6,848.5 116.7,846.0 C117.8,843.5 118.8,839.2 120.0,836.0 C121.2,832.8 122.8,829.1 124.2,827.0 C125.6,824.9 126.8,823.5 128.3,823.3 C129.8,823.1 131.6,824.5 133.3,826.0 C135.0,827.5 136.6,830.2 138.3,832.0 C140.0,833.8 141.6,836.0 143.3,837.0 C145.0,838.0 146.6,838.5 148.3,838.3 C150.0,838.1 151.6,836.4 153.3,836.0 C155.0,835.6 156.6,836.3 158.3,836.0 C160.0,835.7 161.9,834.8 163.3,834.0 C164.7,833.2 165.5,831.5 166.7,831.0 C167.9,830.5 169.1,830.5 170.3,831.0 C171.5,831.5 172.6,832.5 174.0,834.0 C175.4,835.5 177.2,837.9 179.0,840.0 C180.8,842.1 183.2,846.7 185.1,846.4 C187.0,846.1 188.5,840.1 190.4,838.0 C192.3,835.9 194.3,834.3 196.5,833.5 C198.7,832.7 201.2,833.2 203.5,833.0 C205.8,832.8 208.2,832.7 210.5,832.0 C212.8,831.3 215.2,829.8 217.5,829.0 C219.8,828.2 222.2,827.7 224.5,827.0 C226.8,826.3 229.2,825.6 231.5,825.0 C233.8,824.4 236.2,823.8 238.5,823.5 C240.8,823.2 242.9,823.0 245.5,823.0 C248.1,823.0 252.2,824.5 254.3,823.6 C256.4,822.7 256.6,821.4 257.8,817.5 C259.0,813.6 260.0,805.6 261.3,800.0 C262.6,794.4 265.0,786.7 265.7,784.0" stroke="#2020c4" stroke-width="1.35"/>
<path d="M71.6,850.0 C72.2,850.3 73.6,851.3 75.0,852.0 C76.4,852.7 78.0,853.8 80.0,854.0 C82.0,854.2 84.2,853.2 86.7,853.0 C89.2,852.8 92.9,854.0 95.0,853.0 C97.1,852.0 97.8,849.5 99.2,847.0 C100.6,844.5 102.2,839.8 103.3,838.0 C104.4,836.2 105.0,835.5 106.0,836.0 C107.0,836.5 108.0,838.7 109.2,841.0 C110.4,843.3 112.0,849.3 113.3,850.0 C114.5,850.7 115.6,847.5 116.7,845.0 C117.8,842.5 118.8,837.7 120.0,835.0 C121.2,832.3 122.8,830.1 124.2,829.0 C125.6,827.9 126.8,828.1 128.3,828.3 C129.8,828.5 131.6,828.9 133.3,830.0 C135.0,831.1 136.6,833.3 138.3,835.0 C140.0,836.7 141.6,838.9 143.3,840.0 C145.0,841.1 146.6,841.7 148.3,841.7 C150.0,841.7 151.6,840.6 153.3,840.0 C155.0,839.4 156.6,838.7 158.3,838.0 C160.0,837.3 161.9,836.8 163.3,836.0 C164.8,835.2 165.8,833.5 167.0,833.0 C168.2,832.5 169.1,832.7 170.3,833.0 C171.5,833.3 172.6,833.8 174.0,835.0 C175.4,836.2 177.2,838.5 179.0,840.0 C180.8,841.5 183.2,844.5 185.1,844.0 C187.0,843.5 188.5,838.7 190.4,837.0 C192.3,835.3 194.3,834.2 196.5,834.0 C198.7,833.8 201.2,835.9 203.5,835.9 C205.8,835.9 208.2,834.8 210.5,834.0 C212.8,833.2 215.2,831.8 217.5,831.0 C219.8,830.2 221.6,829.5 224.5,829.0 C227.4,828.5 231.5,828.5 235.0,828.0 C238.5,827.5 242.0,826.6 245.5,826.0 C249.0,825.4 253.5,824.8 256.0,824.5 C258.5,824.2 259.4,827.8 260.4,824.5 C261.4,821.2 261.1,811.4 262.0,805.0 C262.9,798.6 265.1,789.2 265.7,786.0" stroke="#2020c4" stroke-width="1.35"/>
<path d="M71.6,856.0 C73.0,856.0 76.1,856.0 80.0,856.0 C83.9,856.0 91.8,857.0 95.0,856.0 C98.2,855.0 97.8,852.2 99.2,850.0 C100.6,847.8 102.2,844.3 103.3,843.0 C104.4,841.7 105.0,841.5 106.0,842.0 C107.0,842.5 108.0,844.3 109.2,846.0 C110.4,847.7 112.0,851.7 113.3,852.0 C114.5,852.3 115.6,849.5 116.7,848.0 C117.8,846.5 118.8,844.1 120.0,843.0 C121.2,841.9 122.5,841.9 124.2,841.5 C125.9,841.1 128.0,840.7 130.0,840.8 C132.0,840.9 133.8,841.1 136.0,842.0 C138.2,842.9 141.2,844.8 143.3,846.0 C145.4,847.2 146.6,848.3 148.3,849.0 C150.0,849.7 151.6,850.2 153.3,850.0 C155.0,849.8 156.6,849.2 158.3,848.0 C160.0,846.8 161.9,844.7 163.3,843.0 C164.8,841.3 165.6,839.2 167.0,838.0 C168.4,836.8 170.5,836.0 172.0,836.0 C173.5,836.0 174.7,837.0 176.0,838.0 C177.3,839.0 178.5,840.8 180.0,842.0 C181.5,843.2 183.4,845.5 185.1,845.0 C186.8,844.5 188.5,840.5 190.4,839.0 C192.3,837.5 194.3,836.5 196.5,836.0 C198.7,835.5 201.2,836.2 203.5,836.0 C205.8,835.8 208.2,835.7 210.5,835.0 C212.8,834.3 215.2,832.8 217.5,832.0 C219.8,831.2 222.2,830.5 224.5,830.0 C226.8,829.5 229.2,829.5 231.5,829.0 C233.8,828.5 236.2,827.5 238.5,827.0 C240.8,826.5 243.2,826.3 245.5,826.0 C247.8,825.7 250.2,825.3 252.0,825.0 C253.8,824.7 255.0,826.5 256.0,824.0 C257.0,821.5 257.0,814.8 258.0,810.0 C259.0,805.2 260.7,799.2 262.0,795.0 C263.3,790.8 265.1,786.7 265.7,785.0" stroke="#2020c4" stroke-width="1.35"/>
</g>
<rect x="71.6" y="768.8" width="194.1" height="88.70000000000005" fill="none" stroke="#1a1a1a" stroke-width="1.1"/>
<path d="M71.6,786.5h2.3M265.7,786.5h-2.3" stroke="#1a1a1a" stroke-width="1"/>
<path d="M71.6,804.3h2.3M265.7,804.3h-2.3" stroke="#1a1a1a" stroke-width="1"/>
<path d="M71.6,822.0h2.3M265.7,822.0h-2.3" stroke="#1a1a1a" stroke-width="1"/>
<path d="M71.6,839.8h2.3M265.7,839.8h-2.3" stroke="#1a1a1a" stroke-width="1"/>
<path d="M95.9,857.5v-1.8M95.9,768.8v1.8" stroke="#1a1a1a" stroke-width="0.9"/>
<path d="M120.1,857.5v-1.8M120.1,768.8v1.8" stroke="#1a1a1a" stroke-width="0.9"/>
<path d="M144.4,857.5v-1.8M144.4,768.8v1.8" stroke="#1a1a1a" stroke-width="0.9"/>
<path d="M168.6,857.5v-1.8M168.6,768.8v1.8" stroke="#1a1a1a" stroke-width="0.9"/>
<path d="M192.9,857.5v-1.8M192.9,768.8v1.8" stroke="#1a1a1a" stroke-width="0.9"/>
<path d="M217.2,857.5v-1.8M217.2,768.8v1.8" stroke="#1a1a1a" stroke-width="0.9"/>
<path d="M241.4,857.5v-1.8M241.4,768.8v1.8" stroke="#1a1a1a" stroke-width="0.9"/>
<g font-family="Liberation Sans" font-size="4.6" font-weight="bold" fill="#222" text-anchor="end">
<text x="69.3" y="770.3">0.4</text>
<text x="69.3" y="788.0">0.3</text>
<text x="69.3" y="805.8">0.2</text>
<text x="69.3" y="823.5">0.1</text>
<text x="69.3" y="841.3">0</text>
<text x="69.3" y="859.0">-0.1</text>
</g>
<g font-family="Liberation Sans" font-size="4" fill="#555" text-anchor="middle">
<text x="71.6" y="862.1">0</text>
<text x="95.9" y="862.1">50</text>
<text x="120.1" y="862.1">100</text>
<text x="144.4" y="862.1">150</text>
<text x="168.6" y="862.1">200</text>
<text x="192.9" y="862.1">250</text>
<text x="217.2" y="862.1">300</text>
<text x="241.4" y="862.1">350</text>
<text x="265.7" y="862.1">400</text>
</g>
<clipPath id="cR6"><rect x="372.4" y="766.8" width="188.80000000000007" height="89.90000000000009"/></clipPath>
<g clip-path="url(#cR6)" fill="none" stroke-linejoin="round" stroke-linecap="round">
<path d="M373.0,855.0 C373.3,850.8 373.9,836.7 374.7,830.0 C375.5,823.3 376.9,819.2 378.0,815.0 C379.1,810.8 379.9,807.8 381.3,805.0 C382.7,802.2 384.6,800.0 386.3,798.3 C388.0,796.6 389.4,795.8 391.3,795.0 C393.2,794.2 395.8,793.4 398.0,793.3 C400.2,793.2 402.5,793.6 404.7,794.2 C406.9,794.8 409.4,795.6 411.3,796.7 C413.2,797.8 414.6,798.9 416.3,800.8 C418.0,802.7 419.6,805.6 421.3,808.3 C423.0,810.9 424.6,813.6 426.3,816.7 C428.0,819.8 429.9,823.7 431.3,826.7 C432.7,829.8 433.6,832.2 434.7,835.0 C435.8,837.8 436.6,840.8 438.0,843.3 C439.4,845.8 441.3,848.2 443.0,850.0 C444.7,851.8 446.3,853.7 448.0,854.2 C449.7,854.8 451.3,854.3 453.0,853.3 C454.7,852.3 456.3,850.0 458.0,848.3 C459.7,846.6 461.3,844.7 463.0,843.3 C464.7,841.9 466.8,841.0 468.0,840.0 C469.2,839.0 468.5,838.0 470.0,837.5 C471.5,837.0 474.7,836.8 477.0,837.0 C479.3,837.2 481.7,839.1 484.0,838.8 C486.3,838.5 488.7,837.0 491.0,835.3 C493.3,833.5 495.7,829.8 498.0,828.3 C500.3,826.8 502.7,826.8 505.0,826.5 C507.3,826.2 509.9,826.4 512.0,826.5 C514.0,826.6 515.5,828.3 517.3,827.4 C519.0,826.5 520.5,823.2 522.5,821.3 C524.5,819.4 527.2,817.5 529.5,816.0 C531.8,814.5 534.2,813.4 536.5,812.5 C538.8,811.6 541.5,812.2 543.5,810.8 C545.5,809.3 547.0,806.4 548.8,803.8 C550.5,801.2 552.5,797.2 554.0,795.0 C555.5,792.8 556.5,790.9 557.5,790.6 C558.5,790.3 559.5,791.7 560.1,793.3 C560.7,794.9 561.0,798.9 561.2,800.0" stroke="#d81e24" stroke-width="1.35"/>
<path d="M373.0,843.3 C373.4,840.0 374.5,829.1 375.5,823.3 C376.5,817.5 377.7,812.2 378.8,808.3 C379.9,804.4 380.9,801.9 382.2,800.0 C383.4,798.1 384.8,796.7 386.3,796.7 C387.8,796.7 389.8,798.3 391.3,800.0 C392.8,801.7 394.2,804.8 395.5,806.7 C396.8,808.7 397.7,811.7 398.8,811.7 C399.9,811.7 400.9,808.7 402.2,806.7 C403.4,804.8 404.9,801.8 406.3,800.0 C407.7,798.2 409.4,795.2 410.5,795.8 C411.6,796.3 412.2,799.3 413.0,803.3 C413.8,807.3 414.7,814.4 415.5,820.0 C416.3,825.6 417.2,831.2 418.0,836.7 C418.8,842.2 419.4,851.6 420.5,853.3 C421.6,855.0 423.4,848.9 424.7,846.7 C425.9,844.5 426.6,842.5 428.0,840.0 C429.4,837.5 431.3,833.4 433.0,831.7 C434.7,830.0 436.3,829.7 438.0,830.0 C439.7,830.3 441.3,831.6 443.0,833.3 C444.7,835.0 446.3,837.5 448.0,840.0 C449.7,842.5 451.3,846.3 453.0,848.3 C454.7,850.2 456.3,851.8 458.0,851.7 C459.7,851.6 461.0,848.6 463.0,847.5 C465.0,846.4 467.7,845.9 470.0,845.0 C472.3,844.1 474.7,842.6 477.0,842.3 C479.3,842.0 481.7,842.7 484.0,843.3 C486.3,843.9 488.7,846.0 491.0,845.8 C493.3,845.6 495.7,843.5 498.0,842.3 C500.3,841.1 502.1,840.0 505.0,838.8 C507.9,837.6 512.6,836.2 515.5,835.3 C518.4,834.4 520.2,834.7 522.5,833.5 C524.8,832.3 526.9,829.8 529.5,828.3 C532.1,826.8 535.7,826.0 538.3,824.8 C540.9,823.6 543.3,823.6 545.3,821.3 C547.3,819.0 548.8,814.3 550.5,810.8 C552.2,807.3 554.3,802.6 555.8,800.3 C557.3,798.0 558.4,796.2 559.3,796.8 C560.2,797.4 560.9,802.6 561.2,803.8" stroke="#e2262a" stroke-width="1.35"/>
<path d="M373.0,850.0 C373.6,846.7 375.1,835.3 376.3,830.0 C377.6,824.7 378.8,821.1 380.5,818.3 C382.2,815.5 384.2,814.2 386.3,813.3 C388.4,812.4 390.9,813.1 393.0,813.0 C395.1,812.9 396.9,811.0 398.8,812.5 C400.8,814.0 402.9,818.5 404.7,821.7 C406.5,824.9 408.0,828.7 409.7,831.7 C411.4,834.8 413.0,837.2 414.7,840.0 C416.4,842.8 418.0,847.8 419.7,848.3 C421.4,848.8 423.0,845.0 424.7,843.3 C426.4,841.6 428.0,838.8 429.7,838.3 C431.4,837.8 433.0,838.9 434.7,840.0 C436.4,841.1 438.0,843.3 439.7,845.0 C441.4,846.7 443.0,848.3 444.7,850.0 C446.4,851.7 448.0,855.3 449.7,855.0 C451.4,854.7 453.0,852.5 454.7,848.3 C456.4,844.1 458.3,833.3 459.7,830.0 C461.1,826.7 461.6,828.0 463.0,828.3 C464.4,828.6 466.2,830.2 468.0,831.7 C469.8,833.2 471.7,835.5 473.5,837.0 C475.3,838.5 476.8,839.0 478.8,840.5 C480.9,842.0 483.2,844.9 485.8,845.8 C488.4,846.7 491.9,846.7 494.5,845.8 C497.1,844.9 499.2,842.0 501.5,840.5 C503.8,839.0 506.2,837.9 508.5,837.0 C510.8,836.1 513.2,836.2 515.5,835.3 C517.8,834.4 520.2,832.7 522.5,831.8 C524.8,830.9 526.9,830.3 529.5,830.0 C532.1,829.7 535.7,830.6 538.3,830.0 C540.9,829.4 543.0,827.7 545.3,826.5 C547.6,825.3 550.4,824.0 552.3,823.0 C554.2,822.0 555.6,819.8 556.6,820.4 C557.6,821.0 557.8,823.7 558.4,826.5 C559.0,829.3 559.8,835.2 560.1,837.0" stroke="#c41e2c" stroke-width="1.35"/>
<path d="M373.0,853.3 C373.6,850.0 374.9,838.6 376.3,833.3 C377.7,828.0 379.4,824.5 381.3,821.7 C383.2,818.9 386.1,817.8 388.0,816.7 C389.9,815.6 391.3,814.9 393.0,815.0 C394.7,815.1 396.3,816.1 398.0,817.5 C399.7,818.9 401.3,820.9 403.0,823.3 C404.7,825.7 406.3,829.2 408.0,831.7 C409.7,834.2 411.3,835.5 413.0,838.3 C414.7,841.1 416.6,845.8 418.0,848.3 C419.4,850.8 419.9,854.4 421.3,853.3 C422.7,852.2 424.6,844.5 426.3,841.7 C428.0,838.9 429.6,836.7 431.3,836.7 C433.0,836.7 434.6,839.8 436.3,841.7 C438.0,843.6 439.6,846.4 441.3,848.3 C443.0,850.2 444.6,852.2 446.3,853.3 C448.0,854.4 449.6,855.8 451.3,855.0 C453.0,854.2 454.6,850.8 456.3,848.3 C458.0,845.8 460.2,839.5 461.3,840.0 C462.4,840.5 461.6,849.8 463.0,851.0 C464.4,852.2 467.7,849.0 470.0,847.5 C472.3,846.0 474.7,843.5 477.0,842.3 C479.3,841.1 481.7,840.8 484.0,840.5 C486.3,840.2 488.7,840.5 491.0,840.5 C493.3,840.5 495.7,840.8 498.0,840.5 C500.3,840.2 502.7,839.4 505.0,838.8 C507.3,838.2 509.4,837.6 512.0,837.0 C514.6,836.4 517.9,836.2 520.8,835.3 C523.7,834.4 526.6,833.3 529.5,831.8 C532.4,830.3 535.7,828.2 538.3,826.5 C540.9,824.8 543.3,823.3 545.3,821.3 C547.3,819.3 548.8,816.6 550.5,814.3 C552.2,812.0 554.0,808.8 555.8,807.3 C557.6,805.8 560.3,805.8 561.2,805.5" stroke="#cc1c26" stroke-width="1.35"/>
</g>
<rect x="372.4" y="766.8" width="188.80000000000007" height="89.90000000000009" fill="none" stroke="#1a1a1a" stroke-width="1.1"/>
<path d="M372.4,779.6h2.3M561.2,779.6h-2.3" stroke="#1a1a1a" stroke-width="1"/>
<path d="M372.4,792.5h2.3M561.2,792.5h-2.3" stroke="#1a1a1a" stroke-width="1"/>
<path d="M372.4,805.3h2.3M561.2,805.3h-2.3" stroke="#1a1a1a" stroke-width="1"/>
<path d="M372.4,818.2h2.3M561.2,818.2h-2.3" stroke="#1a1a1a" stroke-width="1"/>
<path d="M372.4,831.0h2.3M561.2,831.0h-2.3" stroke="#1a1a1a" stroke-width="1"/>
<path d="M372.4,843.9h2.3M561.2,843.9h-2.3" stroke="#1a1a1a" stroke-width="1"/>
<path d="M396.0,856.7v-1.8M396.0,766.8v1.8" stroke="#1a1a1a" stroke-width="0.9"/>
<path d="M419.6,856.7v-1.8M419.6,766.8v1.8" stroke="#1a1a1a" stroke-width="0.9"/>
<path d="M443.2,856.7v-1.8M443.2,766.8v1.8" stroke="#1a1a1a" stroke-width="0.9"/>
<path d="M466.8,856.7v-1.8M466.8,766.8v1.8" stroke="#1a1a1a" stroke-width="0.9"/>
<path d="M490.4,856.7v-1.8M490.4,766.8v1.8" stroke="#1a1a1a" stroke-width="0.9"/>
<path d="M514.0,856.7v-1.8M514.0,766.8v1.8" stroke="#1a1a1a" stroke-width="0.9"/>
<path d="M537.6,856.7v-1.8M537.6,766.8v1.8" stroke="#1a1a1a" stroke-width="0.9"/>
<g font-family="Liberation Sans" font-size="4.6" font-weight="bold" fill="#222" text-anchor="end">
<text x="370.1" y="768.3">0.4</text>
<text x="370.1" y="781.1">0.3</text>
<text x="370.1" y="794.0">0.2</text>
<text x="370.1" y="806.8">0.1</text>
<text x="370.1" y="819.7">0</text>
<text x="370.1" y="832.5">-0.1</text>
<text x="370.1" y="845.4">-0.2</text>
<text x="370.1" y="858.2">-0.3</text>
</g>
<g font-family="Liberation Sans" font-size="4" fill="#555" text-anchor="middle">
<text x="372.4" y="861.3">0</text>
<text x="396.0" y="861.3">50</text>
<text x="419.6" y="861.3">100</text>
<text x="443.2" y="861.3">150</text>
<text x="466.8" y="861.3">200</text>
<text x="490.4" y="861.3">250</text>
<text x="514.0" y="861.3">300</text>
<text x="537.6" y="861.3">350</text>
<text x="561.2" y="861.3">400</text>
</g>
<text x="16.5" y="775" font-family="Liberation Serif" font-size="24" fill="#111" stroke="#111" stroke-width="0.25" letter-spacing="0.25"><tspan font-style="italic">a</tspan><tspan font-style="italic" font-size="16" dy="4">p</tspan><tspan dy="-4">(</tspan><tspan font-style="italic">t</tspan>)</text>
<text x="313.8" y="775" font-family="Liberation Serif" font-size="24" fill="#111" stroke="#111" stroke-width="0.25" letter-spacing="0.25"><tspan font-style="italic">a</tspan><tspan font-style="italic" font-size="16" dy="4">p</tspan><tspan dy="-4">(</tspan><tspan font-style="italic">t</tspan>)</text>
<text x="278.0" y="857.5" font-family="Liberation Serif" font-style="italic" font-size="24" fill="#111" stroke="#111" stroke-width="0.3">t</text>
<text x="575.4" y="859.4" font-family="Liberation Serif" font-style="italic" font-size="24" fill="#111" stroke="#111" stroke-width="0.3">t</text>
<clipPath id="cL7"><rect x="73.7" y="877.9" width="192.0" height="88.60000000000002"/></clipPath>
<g clip-path="url(#cL7)" fill="none" stroke-linejoin="round" stroke-linecap="round">
<path d="M73.7,964.7 C74.2,964.1 75.1,962.1 76.7,961.3 C78.3,960.5 81.1,960.1 83.3,959.7 C85.5,959.3 87.8,958.8 90.0,958.8 C92.2,958.8 95.2,959.8 96.7,959.7 C98.2,959.6 98.4,960.0 99.2,958.0 C100.0,956.0 100.7,951.6 101.7,948.0 C102.7,944.4 103.6,940.2 105.0,936.3 C106.4,932.4 108.0,927.2 110.0,924.7 C112.0,922.2 114.5,921.6 116.7,921.3 C118.9,921.0 121.4,922.3 123.3,923.0 C125.2,923.7 126.6,924.9 128.3,925.5 C130.0,926.1 131.4,926.5 133.3,926.7 C135.2,926.9 137.8,926.8 140.0,926.7 C142.2,926.6 145.0,927.5 146.7,926.3 C148.4,925.1 148.6,921.3 150.0,919.7 C151.4,918.1 153.1,917.2 155.0,916.7 C156.9,916.2 160.0,916.7 161.7,916.7 C163.4,916.7 163.0,916.4 165.0,916.8 C167.0,917.2 170.9,918.4 173.8,918.9 C176.7,919.4 179.3,919.8 182.5,919.9 C185.7,920.0 189.5,919.9 193.0,919.4 C196.5,918.9 200.0,917.2 203.5,916.8 C207.0,916.4 210.8,917.1 214.0,917.1 C217.2,917.1 220.5,917.5 222.8,916.8 C225.1,916.1 225.4,913.5 228.0,912.9 C230.6,912.2 236.2,912.7 238.5,912.9 C240.8,913.1 240.5,915.5 242.0,914.1 C243.5,912.7 245.6,907.3 247.3,904.5 C249.1,901.7 251.1,899.2 252.5,897.5 C253.9,895.8 254.8,896.3 256.0,894.0 C257.2,891.7 258.5,886.0 259.5,883.5 C260.5,881.0 261.1,880.0 262.1,879.1 C263.1,878.2 265.1,878.2 265.7,878.0" stroke="#2020c4" stroke-width="1.35"/>
<path d="M73.7,964.7 C74.2,964.1 75.1,962.1 76.7,961.3 C78.3,960.5 81.1,960.1 83.3,959.7 C85.5,959.3 87.8,958.8 90.0,958.8 C92.2,958.8 95.2,959.8 96.7,959.7 C98.2,959.6 98.4,960.0 99.2,958.0 C100.0,956.0 100.7,951.0 101.7,948.0 C102.7,945.0 103.3,942.2 105.0,939.7 C106.7,937.2 109.8,934.3 111.7,933.0 C113.7,931.7 114.8,931.8 116.7,931.7 C118.6,931.6 121.1,931.9 123.3,932.2 C125.5,932.6 127.8,933.5 130.0,933.8 C132.2,934.1 134.1,933.8 136.7,933.8 C139.3,933.8 143.6,935.6 145.8,933.8 C148.0,932.0 148.2,925.2 150.0,923.0 C151.8,920.8 154.2,921.1 156.7,920.5 C159.2,919.9 160.7,919.6 165.0,919.4 C169.3,919.2 176.7,919.4 182.5,919.4 C188.3,919.4 195.3,919.2 200.0,919.4 C204.7,919.5 205.8,920.2 210.5,920.3 C215.2,920.4 223.9,919.6 228.0,919.9 C232.1,920.2 232.7,922.0 235.0,922.0 C237.3,922.0 239.7,919.9 242.0,919.9 C244.3,919.9 246.9,921.6 249.0,922.0 C251.1,922.4 253.0,925.8 254.3,922.0 C255.6,918.2 255.9,906.3 256.9,899.3 C257.9,892.3 259.5,883.5 260.4,880.0 C261.2,876.5 261.7,878.3 262.0,878.0" stroke="#2020c4" stroke-width="1.35"/>
<path d="M73.7,964.7 C74.2,964.1 75.1,962.1 76.7,961.3 C78.3,960.5 81.1,960.1 83.3,959.7 C85.5,959.3 87.8,958.8 90.0,958.8 C92.2,958.8 95.2,959.8 96.7,959.7 C98.2,959.6 98.4,960.0 99.2,958.0 C100.0,956.0 100.7,950.8 101.7,948.0 C102.7,945.2 103.3,943.5 105.0,941.3 C106.7,939.1 109.2,936.2 111.7,935.0 C114.2,933.8 117.2,934.2 120.0,934.3 C122.8,934.4 125.8,934.9 128.3,935.5 C130.8,936.1 131.9,937.6 135.0,938.0 C138.1,938.4 143.9,940.0 146.7,938.0 C149.5,936.0 149.8,928.8 151.7,926.3 C153.6,923.8 156.1,923.3 158.3,922.7 C160.5,922.1 161.0,922.8 165.0,922.9 C169.0,923.0 176.7,923.4 182.5,923.4 C188.3,923.4 194.8,922.7 200.0,922.9 C205.2,923.1 209.6,924.8 214.0,924.6 C218.4,924.5 222.2,922.2 226.3,922.0 C230.4,921.8 235.3,923.5 238.5,923.4 C241.7,923.2 243.2,921.0 245.5,921.1 C247.8,921.2 250.8,923.1 252.5,923.8 C254.2,924.5 255.0,930.5 256.0,925.5 C257.0,920.5 257.6,901.9 258.6,894.0 C259.6,886.1 261.5,880.9 262.1,878.3" stroke="#2020c4" stroke-width="1.35"/>
<path d="M73.7,966.0 C74.4,965.5 76.3,963.8 78.0,963.0 C79.7,962.2 81.7,961.4 84.0,961.0 C86.3,960.6 89.5,960.7 92.0,960.5 C94.5,960.3 97.4,961.4 99.0,960.0 C100.6,958.6 100.7,954.5 101.7,952.0 C102.7,949.5 103.3,946.3 105.0,944.7 C106.7,943.1 109.5,942.6 111.7,942.2 C113.9,941.8 116.4,941.5 118.3,942.2 C120.2,942.9 121.3,945.4 123.3,946.3 C125.2,947.2 126.7,947.5 130.0,947.7 C133.3,947.9 140.0,948.5 143.3,947.7 C146.6,946.9 147.8,946.3 150.0,943.0 C152.2,939.7 154.8,931.0 156.7,928.0 C158.6,925.0 160.3,925.1 161.7,924.7 C163.1,924.3 163.3,924.7 165.0,925.5 C166.7,926.3 169.1,928.5 172.0,929.4 C174.9,930.3 179.3,930.9 182.5,930.8 C185.7,930.7 188.4,929.6 191.3,929.0 C194.2,928.4 196.2,927.3 200.0,927.3 C203.8,927.3 209.6,929.0 214.0,929.0 C218.4,929.0 222.8,927.6 226.3,927.6 C229.8,927.6 232.4,928.8 235.0,929.0 C237.6,929.2 239.9,929.6 242.0,928.7 C244.1,927.8 245.2,924.3 247.3,923.8 C249.4,923.3 252.4,925.2 254.3,925.5 C256.2,925.8 257.6,928.4 258.6,925.5 C259.6,922.6 259.8,915.0 260.4,908.0 C261.0,901.0 261.7,888.5 262.1,883.5 C262.5,878.5 262.9,878.9 263.0,878.0" stroke="#2020c4" stroke-width="1.35"/>
<path d="M262.5,878.0 L262.8,915.0 L263.3,878.0 L263.8,915.0 L264.3,878.0 L264.8,915.0 L265.3,878.0" stroke="#2020c4" stroke-width="1.0"/>
</g>
<rect x="73.7" y="877.9" width="192.0" height="88.60000000000002" fill="none" stroke="#1a1a1a" stroke-width="1.1"/>
<path d="M73.7,887.7h2.3M265.7,887.7h-2.3" stroke="#1a1a1a" stroke-width="1"/>
<path d="M73.7,897.6h2.3M265.7,897.6h-2.3" stroke="#1a1a1a" stroke-width="1"/>
<path d="M73.7,907.4h2.3M265.7,907.4h-2.3" stroke="#1a1a1a" stroke-width="1"/>
<path d="M73.7,917.3h2.3M265.7,917.3h-2.3" stroke="#1a1a1a" stroke-width="1"/>
<path d="M73.7,927.1h2.3M265.7,927.1h-2.3" stroke="#1a1a1a" stroke-width="1"/>
<path d="M73.7,937.0h2.3M265.7,937.0h-2.3" stroke="#1a1a1a" stroke-width="1"/>
<path d="M73.7,946.8h2.3M265.7,946.8h-2.3" stroke="#1a1a1a" stroke-width="1"/>
<path d="M73.7,956.7h2.3M265.7,956.7h-2.3" stroke="#1a1a1a" stroke-width="1"/>
<path d="M97.7,966.5v-1.8M97.7,877.9v1.8" stroke="#1a1a1a" stroke-width="0.9"/>
<path d="M121.7,966.5v-1.8M121.7,877.9v1.8" stroke="#1a1a1a" stroke-width="0.9"/>
<path d="M145.7,966.5v-1.8M145.7,877.9v1.8" stroke="#1a1a1a" stroke-width="0.9"/>
<path d="M169.7,966.5v-1.8M169.7,877.9v1.8" stroke="#1a1a1a" stroke-width="0.9"/>
<path d="M193.7,966.5v-1.8M193.7,877.9v1.8" stroke="#1a1a1a" stroke-width="0.9"/>
<path d="M217.7,966.5v-1.8M217.7,877.9v1.8" stroke="#1a1a1a" stroke-width="0.9"/>
<path d="M241.7,966.5v-1.8M241.7,877.9v1.8" stroke="#1a1a1a" stroke-width="0.9"/>
<g font-family="Liberation Sans" font-size="4.6" font-weight="bold" fill="#222" text-anchor="end">
<text x="71.4" y="879.4">0.4</text>
<text x="71.4" y="889.2">0.3</text>
<text x="71.4" y="899.1">0.2</text>
<text x="71.4" y="908.9">0.1</text>
<text x="71.4" y="918.8">0</text>
<text x="71.4" y="928.6">-0.1</text>
<text x="71.4" y="938.5">-0.2</text>
<text x="71.4" y="948.3">-0.3</text>
<text x="71.4" y="958.2">-0.4</text>
<text x="71.4" y="968.0">-0.5</text>
</g>
<g font-family="Liberation Sans" font-size="4" fill="#555" text-anchor="middle">
<text x="73.7" y="971.1">0</text>
<text x="97.7" y="971.1">50</text>
<text x="121.7" y="971.1">100</text>
<text x="145.7" y="971.1">150</text>
<text x="169.7" y="971.1">200</text>
<text x="193.7" y="971.1">250</text>
<text x="217.7" y="971.1">300</text>
<text x="241.7" y="971.1">350</text>
<text x="265.7" y="971.1">400</text>
</g>
<clipPath id="cR7"><rect x="370.7" y="876.8" width="190.50000000000006" height="89.60000000000002"/></clipPath>
<g clip-path="url(#cR7)" fill="none" stroke-linejoin="round" stroke-linecap="round">
<path d="M370.7,961.7 C370.9,959.5 371.3,952.2 372.2,948.3 C373.1,944.4 374.8,941.3 376.3,938.3 C377.8,935.2 379.6,932.2 381.3,930.0 C383.0,927.8 384.4,926.5 386.3,925.0 C388.2,923.5 390.5,921.6 393.0,920.8 C395.5,920.0 398.5,920.1 401.3,920.0 C404.1,919.9 406.9,920.3 409.7,920.0 C412.5,919.7 415.2,918.7 418.0,918.3 C420.8,917.9 423.5,917.6 426.3,917.5 C429.1,917.4 431.9,917.4 434.7,917.5 C437.5,917.6 440.2,918.2 443.0,918.3 C445.8,918.4 448.5,918.0 451.3,918.3 C454.1,918.6 456.9,919.9 459.7,920.0 C462.5,920.1 465.9,918.9 468.0,919.0 C470.1,919.1 469.9,920.5 472.0,920.8 C474.1,921.1 477.9,920.4 480.5,920.8 C483.1,921.2 485.2,923.4 487.5,923.4 C489.8,923.4 491.9,921.2 494.5,920.8 C497.1,920.4 499.2,920.8 503.3,920.8 C507.4,920.8 515.5,921.7 519.0,920.8 C522.5,919.9 522.0,916.4 524.3,915.5 C526.6,914.6 530.1,915.2 533.0,915.2 C535.9,915.2 539.8,916.0 541.8,915.2 C543.8,914.4 543.8,912.0 545.3,910.3 C546.8,908.6 549.0,906.5 550.5,905.0 C552.0,903.5 552.8,901.8 554.0,901.5 C555.2,901.2 556.6,901.2 557.5,903.3 C558.4,905.3 558.9,908.3 559.3,913.8 C559.7,919.3 559.8,929.2 560.1,936.5 C560.4,943.8 560.9,954.0 561.0,957.5" stroke="#d81e24" stroke-width="1.35"/>
<path d="M370.7,960.0 C371.1,957.5 371.8,949.2 373.0,945.0 C374.2,940.8 376.3,937.5 378.0,935.0 C379.7,932.5 381.1,931.0 383.0,930.0 C384.9,929.0 387.2,929.3 389.7,929.2 C392.2,929.1 395.5,929.6 398.0,929.2 C400.5,928.8 402.8,928.0 404.7,926.7 C406.6,925.5 408.0,923.1 409.7,921.7 C411.4,920.3 413.0,919.1 414.7,918.3 C416.4,917.5 417.8,917.8 419.7,916.7 C421.6,915.6 424.1,912.8 426.3,911.7 C428.5,910.6 430.8,910.7 433.0,910.0 C435.2,909.3 437.8,908.3 439.7,907.5 C441.6,906.7 443.0,905.6 444.7,905.3 C446.4,905.0 448.0,905.0 449.7,905.8 C451.4,906.6 452.8,908.5 454.7,910.0 C456.6,911.5 459.4,913.9 461.3,915.0 C463.2,916.1 464.6,915.5 466.0,916.4 C467.4,917.3 468.8,919.3 470.0,920.3 C471.2,921.3 471.8,922.1 473.5,922.5 C475.2,922.9 478.2,922.1 480.5,922.5 C482.8,922.9 485.2,924.5 487.5,925.1 C489.8,925.7 491.3,925.9 494.5,926.0 C497.7,926.1 502.7,926.0 506.8,926.0 C510.9,926.0 515.2,925.8 519.0,925.7 C522.8,925.7 526.3,925.9 529.5,925.7 C532.7,925.5 536.0,925.7 538.3,924.3 C540.6,922.9 541.8,919.9 543.5,917.3 C545.2,914.7 547.0,911.0 548.8,908.5 C550.5,906.0 552.5,903.0 554.0,902.4 C555.5,901.8 556.6,901.6 557.5,905.0 C558.4,908.4 558.8,915.2 559.3,922.5 C559.8,929.8 560.5,944.4 560.7,948.8" stroke="#e2262a" stroke-width="1.35"/>
<path d="M370.7,956.7 C371.4,954.8 373.2,947.8 374.7,945.0 C376.2,942.2 377.8,941.2 379.7,940.0 C381.6,938.8 384.1,937.9 386.3,937.5 C388.5,937.1 391.1,938.2 393.0,937.5 C394.9,936.8 396.3,935.7 398.0,933.3 C399.7,930.9 401.3,926.9 403.0,923.3 C404.7,919.7 406.1,914.3 408.0,911.7 C409.9,909.1 412.5,908.9 414.7,907.5 C416.9,906.1 419.4,904.3 421.3,903.3 C423.2,902.3 424.6,901.7 426.3,901.7 C428.0,901.7 429.6,902.2 431.3,903.3 C433.0,904.4 434.4,906.3 436.3,908.3 C438.2,910.2 441.1,913.3 443.0,915.0 C444.9,916.7 446.1,916.9 448.0,918.3 C449.9,919.7 452.5,921.9 454.7,923.3 C456.9,924.7 459.1,926.2 461.3,926.7 C463.5,927.2 466.6,925.8 468.0,926.0 C469.4,926.2 467.9,926.9 470.0,927.8 C472.1,928.7 477.3,930.4 480.5,931.3 C483.7,932.2 486.4,933.0 489.3,933.0 C492.2,933.0 494.8,931.6 498.0,931.3 C501.2,931.0 504.7,931.3 508.5,931.3 C512.3,931.3 517.9,932.0 520.8,931.3 C523.7,930.6 524.0,927.9 526.0,926.9 C528.0,925.9 530.7,925.5 533.0,925.1 C535.3,924.7 538.0,925.6 540.0,924.3 C542.0,923.0 543.5,920.2 545.3,917.3 C547.0,914.4 548.9,909.3 550.5,906.8 C552.1,904.3 553.6,901.8 554.9,902.4 C556.2,903.0 557.5,906.1 558.4,910.3 C559.3,914.5 559.7,920.5 560.1,927.8 C560.5,935.1 560.9,949.6 561.0,954.0" stroke="#c41e2c" stroke-width="1.35"/>
<path d="M370.7,958.3 C371.4,956.4 373.2,949.5 374.7,946.7 C376.2,943.9 378.0,942.8 379.7,941.7 C381.4,940.6 382.8,940.6 384.7,940.0 C386.6,939.4 389.1,938.6 391.3,938.3 C393.5,938.0 395.8,938.3 398.0,938.0 C400.2,937.7 402.8,938.0 404.7,936.7 C406.6,935.4 408.0,932.0 409.7,930.0 C411.4,928.0 413.3,926.4 414.7,925.0 C416.1,923.6 416.6,922.1 418.0,921.7 C419.4,921.3 421.3,922.1 423.0,922.5 C424.7,922.9 426.1,923.9 428.0,924.2 C429.9,924.5 432.2,924.1 434.7,924.2 C437.2,924.3 440.5,924.7 443.0,925.0 C445.5,925.3 447.8,925.1 449.7,925.8 C451.6,926.5 453.0,928.5 454.7,929.2 C456.4,929.9 458.0,930.3 459.7,930.0 C461.4,929.7 463.0,927.7 464.7,927.5 C466.4,927.3 467.9,928.2 470.0,928.7 C472.1,929.2 474.7,929.8 477.0,930.4 C479.3,931.0 481.7,931.7 484.0,932.1 C486.3,932.5 488.7,933.0 491.0,933.0 C493.3,933.0 494.5,932.2 498.0,932.1 C501.5,932.0 507.6,932.1 512.0,932.1 C516.4,932.1 520.2,932.1 524.3,932.1 C528.4,932.1 533.3,932.5 536.5,932.1 C539.7,931.7 541.2,930.4 543.5,929.5 C545.8,928.6 548.8,927.5 550.5,926.9 C552.2,926.3 552.8,925.6 554.0,926.0 C555.2,926.4 556.6,927.8 557.5,929.5 C558.4,931.2 558.9,933.3 559.3,936.5 C559.7,939.7 559.8,945.3 560.1,948.8 C560.4,952.3 560.9,956.0 561.0,957.5" stroke="#cc1c26" stroke-width="1.35"/>
</g>
<rect x="370.7" y="876.8" width="190.50000000000006" height="89.60000000000002" fill="none" stroke="#1a1a1a" stroke-width="1.1"/>
<path d="M370.7,889.6h2.3M561.2,889.6h-2.3" stroke="#1a1a1a" stroke-width="1"/>
<path d="M370.7,902.4h2.3M561.2,902.4h-2.3" stroke="#1a1a1a" stroke-width="1"/>
<path d="M370.7,915.2h2.3M561.2,915.2h-2.3" stroke="#1a1a1a" stroke-width="1"/>
<path d="M370.7,928.0h2.3M561.2,928.0h-2.3" stroke="#1a1a1a" stroke-width="1"/>
<path d="M370.7,940.8h2.3M561.2,940.8h-2.3" stroke="#1a1a1a" stroke-width="1"/>
<path d="M370.7,953.6h2.3M561.2,953.6h-2.3" stroke="#1a1a1a" stroke-width="1"/>
<path d="M394.5,966.4v-1.8M394.5,876.8v1.8" stroke="#1a1a1a" stroke-width="0.9"/>
<path d="M418.3,966.4v-1.8M418.3,876.8v1.8" stroke="#1a1a1a" stroke-width="0.9"/>
<path d="M442.1,966.4v-1.8M442.1,876.8v1.8" stroke="#1a1a1a" stroke-width="0.9"/>
<path d="M466.0,966.4v-1.8M466.0,876.8v1.8" stroke="#1a1a1a" stroke-width="0.9"/>
<path d="M489.8,966.4v-1.8M489.8,876.8v1.8" stroke="#1a1a1a" stroke-width="0.9"/>
<path d="M513.6,966.4v-1.8M513.6,876.8v1.8" stroke="#1a1a1a" stroke-width="0.9"/>
<path d="M537.4,966.4v-1.8M537.4,876.8v1.8" stroke="#1a1a1a" stroke-width="0.9"/>
<g font-family="Liberation Sans" font-size="4.6" font-weight="bold" fill="#222" text-anchor="end">
<text x="368.4" y="878.3">0.4</text>
<text x="368.4" y="891.1">0.3</text>
<text x="368.4" y="903.9">0.2</text>
<text x="368.4" y="916.7">0.1</text>
<text x="368.4" y="929.5">0</text>
<text x="368.4" y="942.3">-0.1</text>
<text x="368.4" y="955.1">-0.2</text>
<text x="368.4" y="967.9">-0.3</text>
</g>
<g font-family="Liberation Sans" font-size="4" fill="#555" text-anchor="middle">
<text x="370.7" y="971.0">0</text>
<text x="394.5" y="971.0">50</text>
<text x="418.3" y="971.0">100</text>
<text x="442.1" y="971.0">150</text>
<text x="466.0" y="971.0">200</text>
<text x="489.8" y="971.0">250</text>
<text x="513.6" y="971.0">300</text>
<text x="537.4" y="971.0">350</text>
<text x="561.2" y="971.0">400</text>
</g>
<text x="8.6" y="885.8" font-family="Liberation Serif" font-size="24" fill="#111" stroke="#111" stroke-width="0.25" letter-spacing="0.7"><tspan font-style="italic">m</tspan><tspan font-style="italic" font-size="16" dy="4">p</tspan><tspan dy="-4">(</tspan><tspan font-style="italic">t</tspan>)</text>
<text x="308.7" y="885.3" font-family="Liberation Serif" font-size="24" fill="#111" stroke="#111" stroke-width="0.25" letter-spacing="0.7"><tspan font-style="italic">m</tspan><tspan font-style="italic" font-size="16" dy="4">p</tspan><tspan dy="-4">(</tspan><tspan font-style="italic">t</tspan>)</text>
<text x="278.2" y="965.4" font-family="Liberation Serif" font-style="italic" font-size="24" fill="#111" stroke="#111" stroke-width="0.3">t</text>
<text x="576.0" y="968.4" font-family="Liberation Serif" font-style="italic" font-size="24" fill="#111" stroke="#111" stroke-width="0.3">t</text>
<g font-family="Liberation Sans" font-size="4.2" font-weight="bold" fill="#555">
<text x="71.5" y="436.9">x 10<tspan font-size="3.4" dy="-2">-3</tspan></text>
<text x="368.8" y="433.6">x 10<tspan font-size="3.4" dy="-2">-3</tspan></text>
</g>
</svg></body></html>
